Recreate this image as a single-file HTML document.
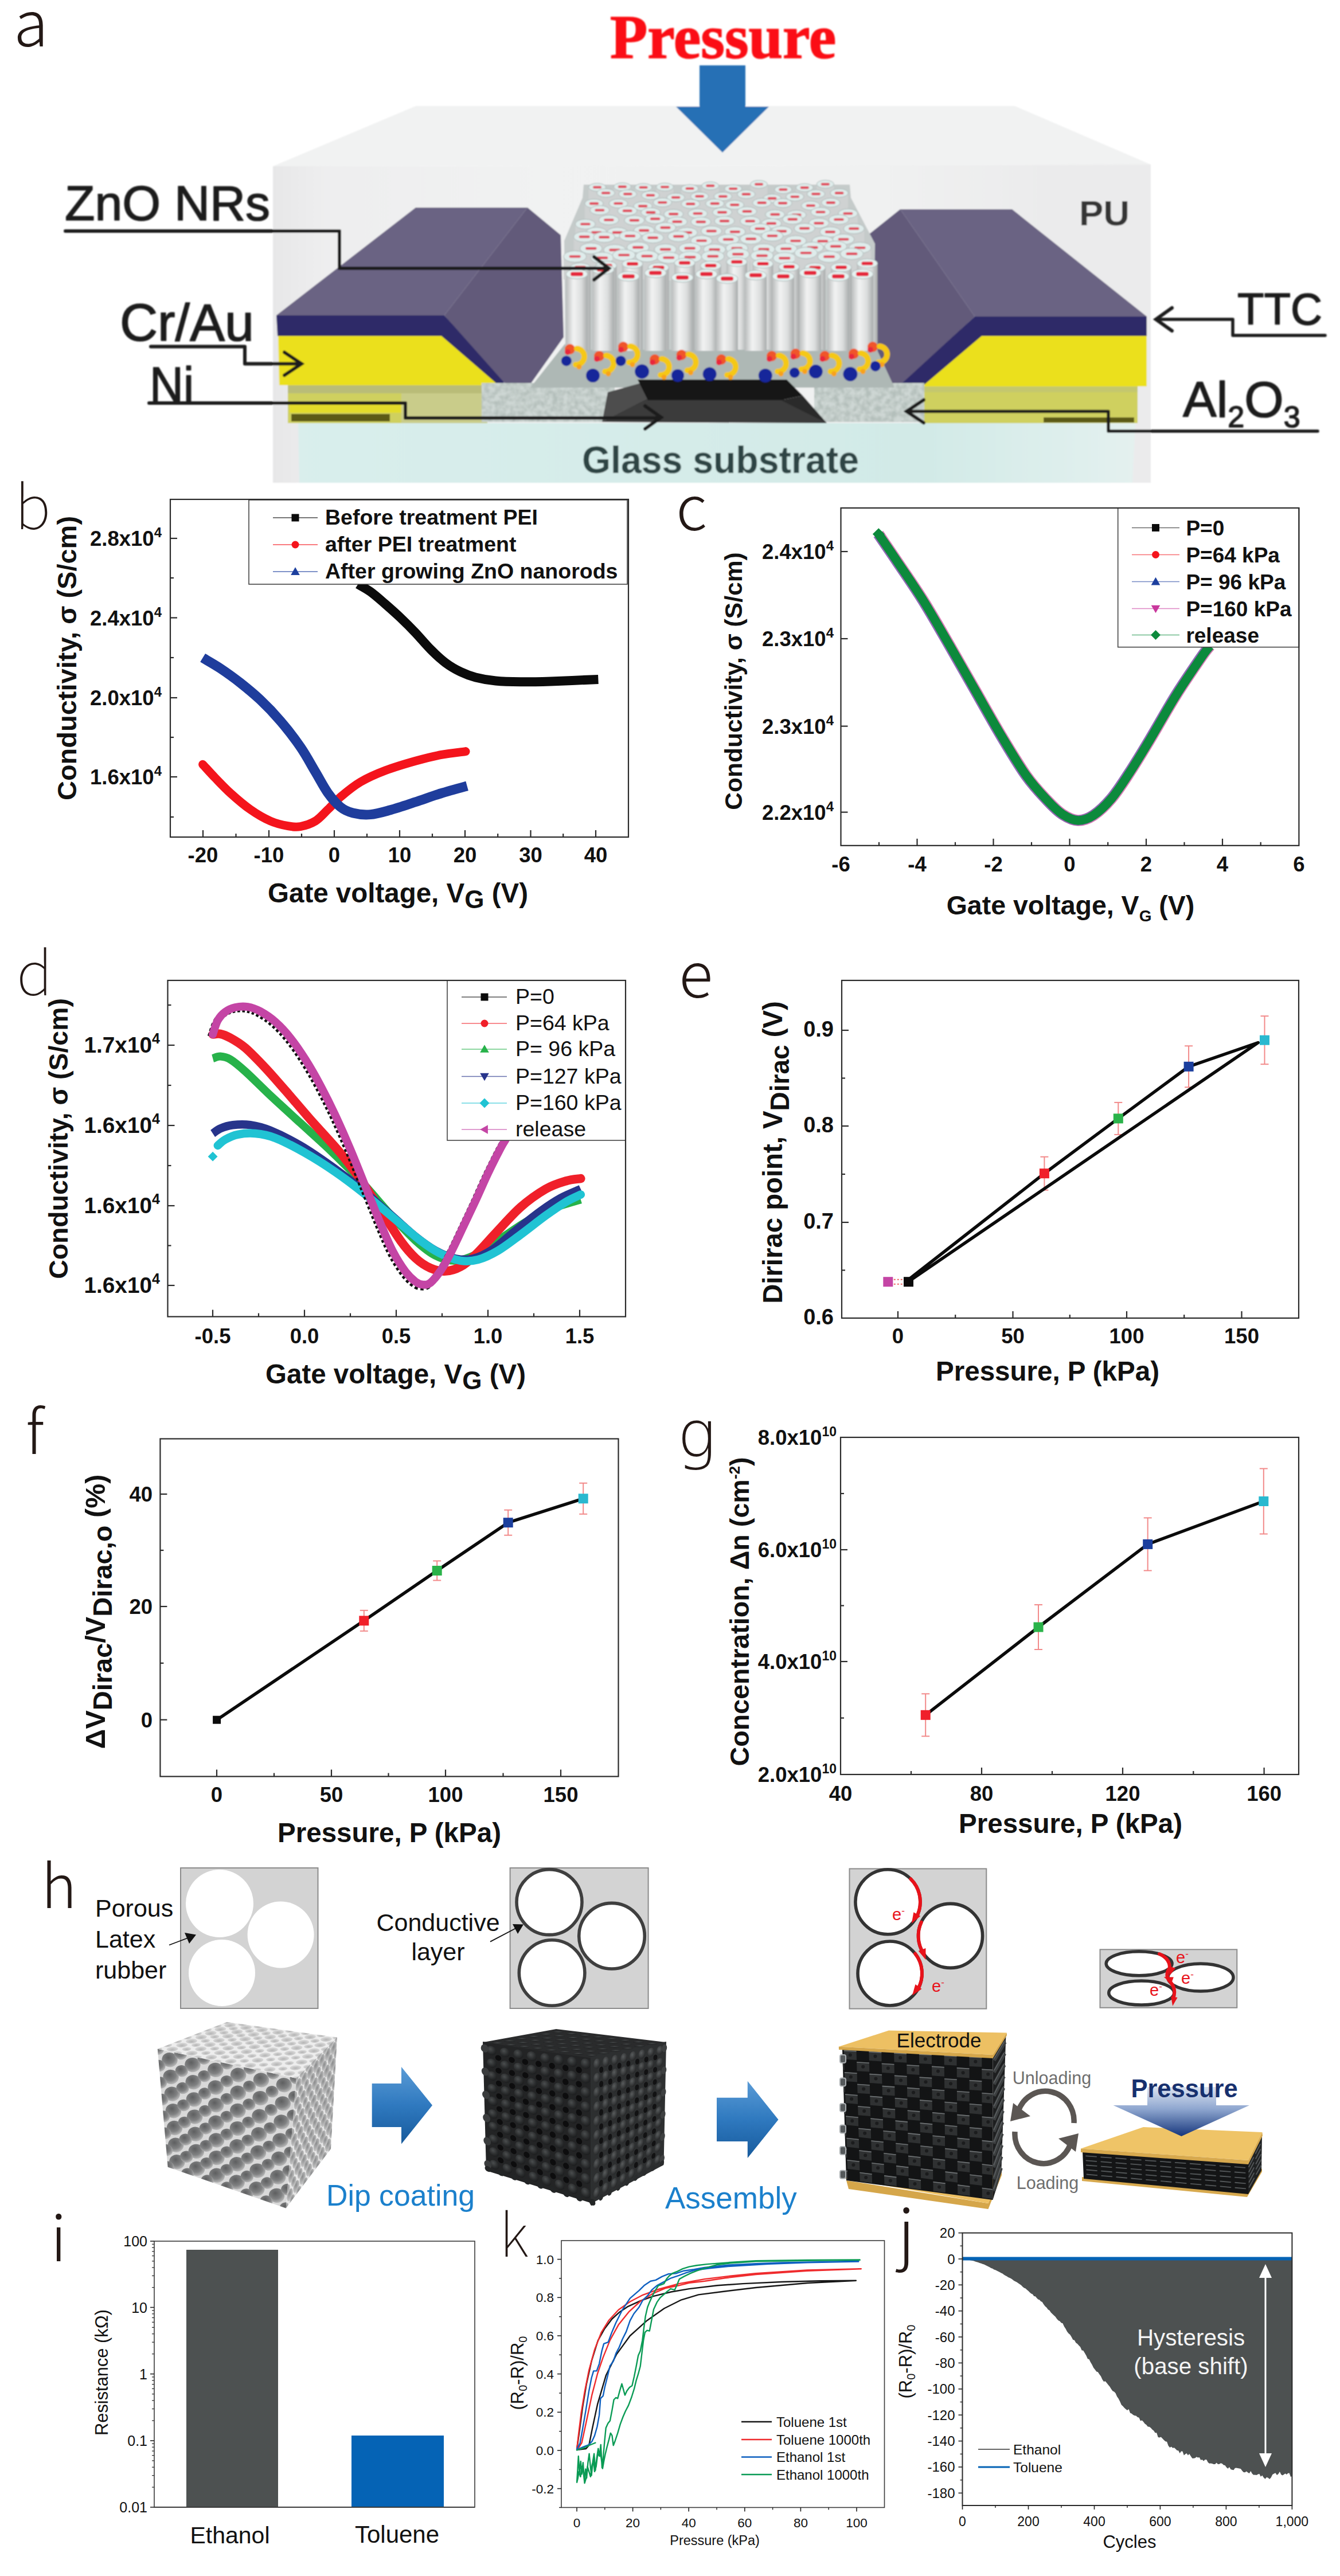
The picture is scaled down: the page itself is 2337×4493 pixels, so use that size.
<!DOCTYPE html>
<html lang="en"><head><meta charset="utf-8"><title>Figure</title>
<style>html,body{margin:0;padding:0;background:#fff}svg{display:block}text{white-space:pre}</style></head>
<body><svg width="2337" height="4493" viewBox="0 0 2337 4493">
<rect width="2337" height="4493" fill="#fff"/>
<g id="pa"><defs>
<linearGradient id="rodg" x1="0" y1="0" x2="1" y2="0"><stop offset="0" stop-color="#b9bcbc"/><stop offset="0.35" stop-color="#f2f3f3"/><stop offset="0.7" stop-color="#dcdede"/><stop offset="1" stop-color="#a8abab"/></linearGradient>
<linearGradient id="pufront" x1="0" y1="0" x2="1" y2="0"><stop offset="0" stop-color="#e7e7e8"/><stop offset="0.06" stop-color="#eeeeef"/><stop offset="0.3" stop-color="#f1f2f2"/><stop offset="0.7" stop-color="#f0f1f1"/><stop offset="0.88" stop-color="#ebebec"/><stop offset="1" stop-color="#ebebec"/></linearGradient>
<linearGradient id="glassg" x1="0" y1="0" x2="1" y2="0"><stop offset="0" stop-color="#d9eeec"/><stop offset="0.75" stop-color="#d2eae7"/><stop offset="1" stop-color="#e4f1ef"/></linearGradient>
<filter id="speck" x="0" y="0" width="100%" height="100%"><feTurbulence type="fractalNoise" baseFrequency="0.11" numOctaves="2" seed="4" result="n"/><feColorMatrix in="n" type="matrix" values="0 0 0 0 0.62  0 0 0 0 0.68  0 0 0 0 0.66  0 0 0 2.2 -0.55"/><feComposite in2="SourceGraphic" operator="in"/></filter>
<filter id="ablur" x="-2%" y="-2%" width="104%" height="104%"><feGaussianBlur stdDeviation="1.3"/></filter>
</defs><g filter="url(#ablur)"><polygon points="476,290 725,185 1770,185 2007,287" fill="#f1f2f2" stroke="none" stroke-width="0" /><polygon points="476,290 2007,287 2007,842 476,842" fill="url(#pufront)" stroke="none" stroke-width="0" /><polygon points="520,738 1980,738 1975,842 522,842" fill="url(#glassg)" stroke="none" stroke-width="0" /><rect x="502" y="670" width="345" height="68" fill="#cfd05e" stroke="none" stroke-width="0" /><rect x="502" y="670" width="345" height="16" fill="#b9bc78" stroke="none" stroke-width="0" /><rect x="505" y="700" width="200" height="20" fill="#e3dc2c" stroke="none" stroke-width="0" /><rect x="508" y="722" width="172" height="13" fill="#5b5a18" stroke="none" stroke-width="0" /><rect x="700" y="686" width="150" height="52" fill="#c9cc8a" stroke="none" stroke-width="0" /><polygon points="485,583 772,583 872,672 487,672" fill="#ebe01f" stroke="none" stroke-width="0" /><polygon points="482,550 775,550 882,664 872,674 770,586 484,586" fill="#2e2968" stroke="none" stroke-width="0" /><polygon points="482,550 725,362 920,362 775,550" fill="#6b6383" stroke="none" stroke-width="0" /><polygon points="775,550 920,362 978,410 983,588 925,670 880,668" fill="#625a7a" stroke="none" stroke-width="0" /><rect x="1612" y="670" width="372" height="68" fill="#cfd05e" stroke="none" stroke-width="0" /><rect x="1612" y="670" width="372" height="14" fill="#c4c76e" stroke="none" stroke-width="0" /><rect x="1820" y="728" width="158" height="9" fill="#5b5a18" stroke="none" stroke-width="0" /><polygon points="1712,583 2000,583 2000,674 1606,674" fill="#ebe01f" stroke="none" stroke-width="0" /><polygon points="1700,552 2000,552 2000,586 1712,586 1606,676 1562,676" fill="#2e2968" stroke="none" stroke-width="0" /><polygon points="1570,365 1765,365 2000,552 1700,552" fill="#6b6383" stroke="none" stroke-width="0" /><polygon points="1570,365 1700,552 1565,676 1532,655 1524,450 1495,425" fill="#625a7a" stroke="none" stroke-width="0" /><rect x="840" y="668" width="232" height="68" fill="#b4bfbb" stroke="none" stroke-width="0" /><rect x="840" y="668" width="232" height="68" fill="#74817c" stroke="none" stroke-width="0" filter="url(#speck)"/><rect x="1420" y="668" width="192" height="68" fill="#b4bfbb" stroke="none" stroke-width="0" /><rect x="1420" y="668" width="192" height="68" fill="#74817c" stroke="none" stroke-width="0" filter="url(#speck)"/><polygon points="985,600 1525,600 1560,676 1440,676 1050,676 925,676" fill="#aeb8b5" stroke="none" stroke-width="0" /><polygon points="1050,736 1060,684 1118,668 1130,697" fill="#4d4d4d" stroke="none" stroke-width="0" /><polygon points="1050,736 1130,695 1362,695 1442,738" fill="#3a3a3a" stroke="none" stroke-width="0" /><polygon points="1112,662 1372,662 1400,690 1362,698 1130,698" fill="#141414" stroke="none" stroke-width="0" /><polygon points="1362,698 1400,690 1442,738" fill="#2b2b2b" stroke="none" stroke-width="0" /><g id="rods"><polygon points="1018,322 1482,322 1484,345 1526,425 1524,610 986,610 984,420 1016,345" fill="#c5cbca" stroke="none" stroke-width="0" /><rect x="1026.6" y="326.6" width="30" height="40" fill="#cfd2d2" stroke="none" stroke-width="0" /><ellipse cx="1041.6" cy="326.6" rx="15" ry="7" fill="#dfeceb" stroke="#aab5b4" stroke-width="1"/><rect x="1034.1" y="324.4" width="15" height="4.4" fill="#e0485a" stroke="none" stroke-width="0" rx="2"/><rect x="1070.4" y="325.7" width="30" height="40" fill="#cfd2d2" stroke="none" stroke-width="0" /><ellipse cx="1085.4" cy="325.7" rx="15" ry="7" fill="#dfeceb" stroke="#aab5b4" stroke-width="1"/><rect x="1077.9" y="323.5" width="15" height="4.4" fill="#e0485a" stroke="none" stroke-width="0" rx="2"/><rect x="1107.1" y="326.9" width="30" height="40" fill="#cfd2d2" stroke="none" stroke-width="0" /><ellipse cx="1122.1" cy="326.9" rx="15" ry="7" fill="#dfeceb" stroke="#aab5b4" stroke-width="1"/><rect x="1114.6" y="324.7" width="15" height="4.4" fill="#e0485a" stroke="none" stroke-width="0" rx="2"/><rect x="1144.5" y="326.1" width="30" height="40" fill="#cfd2d2" stroke="none" stroke-width="0" /><ellipse cx="1159.5" cy="326.1" rx="15" ry="7" fill="#dfeceb" stroke="#aab5b4" stroke-width="1"/><rect x="1152" y="323.9" width="15" height="4.4" fill="#e0485a" stroke="none" stroke-width="0" rx="2"/><rect x="1188" y="328.9" width="30" height="40" fill="#cfd2d2" stroke="none" stroke-width="0" /><ellipse cx="1203" cy="328.9" rx="15" ry="7" fill="#dfeceb" stroke="#aab5b4" stroke-width="1"/><rect x="1195.5" y="326.7" width="15" height="4.4" fill="#e0485a" stroke="none" stroke-width="0" rx="2"/><rect x="1223.8" y="324" width="30" height="40" fill="#cfd2d2" stroke="none" stroke-width="0" /><ellipse cx="1238.8" cy="324" rx="15" ry="7" fill="#dfeceb" stroke="#aab5b4" stroke-width="1"/><rect x="1231.3" y="321.8" width="15" height="4.4" fill="#e0485a" stroke="none" stroke-width="0" rx="2"/><rect x="1263.7" y="329.1" width="30" height="40" fill="#cfd2d2" stroke="none" stroke-width="0" /><ellipse cx="1278.7" cy="329.1" rx="15" ry="7" fill="#dfeceb" stroke="#aab5b4" stroke-width="1"/><rect x="1271.2" y="326.9" width="15" height="4.4" fill="#e0485a" stroke="none" stroke-width="0" rx="2"/><rect x="1308.5" y="321.4" width="30" height="40" fill="#cfd2d2" stroke="none" stroke-width="0" /><ellipse cx="1323.5" cy="321.4" rx="15" ry="7" fill="#dfeceb" stroke="#aab5b4" stroke-width="1"/><rect x="1316" y="319.2" width="15" height="4.4" fill="#e0485a" stroke="none" stroke-width="0" rx="2"/><rect x="1350.9" y="330.6" width="30" height="40" fill="#cfd2d2" stroke="none" stroke-width="0" /><ellipse cx="1365.9" cy="330.6" rx="15" ry="7" fill="#dfeceb" stroke="#aab5b4" stroke-width="1"/><rect x="1358.4" y="328.4" width="15" height="4.4" fill="#e0485a" stroke="none" stroke-width="0" rx="2"/><rect x="1388.2" y="327.2" width="30" height="40" fill="#cfd2d2" stroke="none" stroke-width="0" /><ellipse cx="1403.2" cy="327.2" rx="15" ry="7" fill="#dfeceb" stroke="#aab5b4" stroke-width="1"/><rect x="1395.7" y="325" width="15" height="4.4" fill="#e0485a" stroke="none" stroke-width="0" rx="2"/><rect x="1424.3" y="321.2" width="30" height="40" fill="#cfd2d2" stroke="none" stroke-width="0" /><ellipse cx="1439.3" cy="321.2" rx="15" ry="7" fill="#dfeceb" stroke="#aab5b4" stroke-width="1"/><rect x="1431.8" y="319" width="15" height="4.4" fill="#e0485a" stroke="none" stroke-width="0" rx="2"/><rect x="1041" y="336.6" width="31.2" height="40" fill="#cfd2d2" stroke="none" stroke-width="0" /><ellipse cx="1056.6" cy="336.6" rx="15.6" ry="7.4" fill="#dfeceb" stroke="#aab5b4" stroke-width="1"/><rect x="1048.8" y="334.4" width="15.6" height="4.4" fill="#e0485a" stroke="none" stroke-width="0" rx="2"/><rect x="1079.1" y="338.4" width="31.2" height="40" fill="#cfd2d2" stroke="none" stroke-width="0" /><ellipse cx="1094.8" cy="338.4" rx="15.6" ry="7.4" fill="#dfeceb" stroke="#aab5b4" stroke-width="1"/><rect x="1087" y="336.2" width="15.6" height="4.4" fill="#e0485a" stroke="none" stroke-width="0" rx="2"/><rect x="1118.8" y="340.6" width="31.2" height="40" fill="#cfd2d2" stroke="none" stroke-width="0" /><ellipse cx="1134.4" cy="340.6" rx="15.6" ry="7.4" fill="#dfeceb" stroke="#aab5b4" stroke-width="1"/><rect x="1126.6" y="338.4" width="15.6" height="4.4" fill="#e0485a" stroke="none" stroke-width="0" rx="2"/><rect x="1163" y="344.4" width="31.2" height="40" fill="#cfd2d2" stroke="none" stroke-width="0" /><ellipse cx="1178.6" cy="344.4" rx="15.6" ry="7.4" fill="#dfeceb" stroke="#aab5b4" stroke-width="1"/><rect x="1170.8" y="342.2" width="15.6" height="4.4" fill="#e0485a" stroke="none" stroke-width="0" rx="2"/><rect x="1204.5" y="342.4" width="31.2" height="40" fill="#cfd2d2" stroke="none" stroke-width="0" /><ellipse cx="1220.1" cy="342.4" rx="15.6" ry="7.4" fill="#dfeceb" stroke="#aab5b4" stroke-width="1"/><rect x="1212.3" y="340.2" width="15.6" height="4.4" fill="#e0485a" stroke="none" stroke-width="0" rx="2"/><rect x="1245.2" y="342.6" width="31.2" height="40" fill="#cfd2d2" stroke="none" stroke-width="0" /><ellipse cx="1260.8" cy="342.6" rx="15.6" ry="7.4" fill="#dfeceb" stroke="#aab5b4" stroke-width="1"/><rect x="1253" y="340.4" width="15.6" height="4.4" fill="#e0485a" stroke="none" stroke-width="0" rx="2"/><rect x="1285.8" y="338.8" width="31.2" height="40" fill="#cfd2d2" stroke="none" stroke-width="0" /><ellipse cx="1301.4" cy="338.8" rx="15.6" ry="7.4" fill="#dfeceb" stroke="#aab5b4" stroke-width="1"/><rect x="1293.6" y="336.6" width="15.6" height="4.4" fill="#e0485a" stroke="none" stroke-width="0" rx="2"/><rect x="1331" y="346" width="31.2" height="40" fill="#cfd2d2" stroke="none" stroke-width="0" /><ellipse cx="1346.6" cy="346" rx="15.6" ry="7.4" fill="#dfeceb" stroke="#aab5b4" stroke-width="1"/><rect x="1338.8" y="343.8" width="15.6" height="4.4" fill="#e0485a" stroke="none" stroke-width="0" rx="2"/><rect x="1370.6" y="343.1" width="31.2" height="40" fill="#cfd2d2" stroke="none" stroke-width="0" /><ellipse cx="1386.3" cy="343.1" rx="15.6" ry="7.4" fill="#dfeceb" stroke="#aab5b4" stroke-width="1"/><rect x="1378.5" y="340.9" width="15.6" height="4.4" fill="#e0485a" stroke="none" stroke-width="0" rx="2"/><rect x="1407.3" y="338.3" width="31.2" height="40" fill="#cfd2d2" stroke="none" stroke-width="0" /><ellipse cx="1423" cy="338.3" rx="15.6" ry="7.4" fill="#dfeceb" stroke="#aab5b4" stroke-width="1"/><rect x="1415.2" y="336.1" width="15.6" height="4.4" fill="#e0485a" stroke="none" stroke-width="0" rx="2"/><rect x="1448" y="336.7" width="31.2" height="40" fill="#cfd2d2" stroke="none" stroke-width="0" /><ellipse cx="1463.7" cy="336.7" rx="15.6" ry="7.4" fill="#dfeceb" stroke="#aab5b4" stroke-width="1"/><rect x="1455.8" y="334.5" width="15.6" height="4.4" fill="#e0485a" stroke="none" stroke-width="0" rx="2"/><rect x="1019.8" y="355" width="32.5" height="40" fill="#cfd2d2" stroke="none" stroke-width="0" /><ellipse cx="1036" cy="355" rx="16.2" ry="7.8" fill="#dfeceb" stroke="#aab5b4" stroke-width="1"/><rect x="1027.9" y="352.8" width="16.2" height="4.4" fill="#e0485a" stroke="none" stroke-width="0" rx="2"/><rect x="1062.2" y="354.9" width="32.5" height="40" fill="#cfd2d2" stroke="none" stroke-width="0" /><ellipse cx="1078.5" cy="354.9" rx="16.2" ry="7.8" fill="#dfeceb" stroke="#aab5b4" stroke-width="1"/><rect x="1070.3" y="352.7" width="16.2" height="4.4" fill="#e0485a" stroke="none" stroke-width="0" rx="2"/><rect x="1104.9" y="359.5" width="32.5" height="40" fill="#cfd2d2" stroke="none" stroke-width="0" /><ellipse cx="1121.2" cy="359.5" rx="16.2" ry="7.8" fill="#dfeceb" stroke="#aab5b4" stroke-width="1"/><rect x="1113" y="357.3" width="16.2" height="4.4" fill="#e0485a" stroke="none" stroke-width="0" rx="2"/><rect x="1139" y="353.1" width="32.5" height="40" fill="#cfd2d2" stroke="none" stroke-width="0" /><ellipse cx="1155.3" cy="353.1" rx="16.2" ry="7.8" fill="#dfeceb" stroke="#aab5b4" stroke-width="1"/><rect x="1147.2" y="350.9" width="16.2" height="4.4" fill="#e0485a" stroke="none" stroke-width="0" rx="2"/><rect x="1188.1" y="355.7" width="32.5" height="40" fill="#cfd2d2" stroke="none" stroke-width="0" /><ellipse cx="1204.4" cy="355.7" rx="16.2" ry="7.8" fill="#dfeceb" stroke="#aab5b4" stroke-width="1"/><rect x="1196.2" y="353.5" width="16.2" height="4.4" fill="#e0485a" stroke="none" stroke-width="0" rx="2"/><rect x="1230.5" y="355" width="32.5" height="40" fill="#cfd2d2" stroke="none" stroke-width="0" /><ellipse cx="1246.7" cy="355" rx="16.2" ry="7.8" fill="#dfeceb" stroke="#aab5b4" stroke-width="1"/><rect x="1238.6" y="352.8" width="16.2" height="4.4" fill="#e0485a" stroke="none" stroke-width="0" rx="2"/><rect x="1265" y="357.3" width="32.5" height="40" fill="#cfd2d2" stroke="none" stroke-width="0" /><ellipse cx="1281.3" cy="357.3" rx="16.2" ry="7.8" fill="#dfeceb" stroke="#aab5b4" stroke-width="1"/><rect x="1273.1" y="355.1" width="16.2" height="4.4" fill="#e0485a" stroke="none" stroke-width="0" rx="2"/><rect x="1312.5" y="353.7" width="32.5" height="40" fill="#cfd2d2" stroke="none" stroke-width="0" /><ellipse cx="1328.7" cy="353.7" rx="16.2" ry="7.8" fill="#dfeceb" stroke="#aab5b4" stroke-width="1"/><rect x="1320.6" y="351.5" width="16.2" height="4.4" fill="#e0485a" stroke="none" stroke-width="0" rx="2"/><rect x="1348.7" y="354.3" width="32.5" height="40" fill="#cfd2d2" stroke="none" stroke-width="0" /><ellipse cx="1365" cy="354.3" rx="16.2" ry="7.8" fill="#dfeceb" stroke="#aab5b4" stroke-width="1"/><rect x="1356.9" y="352.1" width="16.2" height="4.4" fill="#e0485a" stroke="none" stroke-width="0" rx="2"/><rect x="1397.5" y="358.6" width="32.5" height="40" fill="#cfd2d2" stroke="none" stroke-width="0" /><ellipse cx="1413.8" cy="358.6" rx="16.2" ry="7.8" fill="#dfeceb" stroke="#aab5b4" stroke-width="1"/><rect x="1405.7" y="356.4" width="16.2" height="4.4" fill="#e0485a" stroke="none" stroke-width="0" rx="2"/><rect x="1432.6" y="353.5" width="32.5" height="40" fill="#cfd2d2" stroke="none" stroke-width="0" /><ellipse cx="1448.8" cy="353.5" rx="16.2" ry="7.8" fill="#dfeceb" stroke="#aab5b4" stroke-width="1"/><rect x="1440.7" y="351.3" width="16.2" height="4.4" fill="#e0485a" stroke="none" stroke-width="0" rx="2"/><rect x="1029" y="366.6" width="33.8" height="40" fill="#cfd2d2" stroke="none" stroke-width="0" /><ellipse cx="1045.9" cy="366.6" rx="16.9" ry="8.1" fill="#dfeceb" stroke="#aab5b4" stroke-width="1"/><rect x="1037.4" y="364.4" width="16.9" height="4.4" fill="#e0485a" stroke="none" stroke-width="0" rx="2"/><rect x="1077.3" y="367.8" width="33.8" height="40" fill="#cfd2d2" stroke="none" stroke-width="0" /><ellipse cx="1094.1" cy="367.8" rx="16.9" ry="8.1" fill="#dfeceb" stroke="#aab5b4" stroke-width="1"/><rect x="1085.7" y="365.6" width="16.9" height="4.4" fill="#e0485a" stroke="none" stroke-width="0" rx="2"/><rect x="1118.1" y="370.5" width="33.8" height="40" fill="#cfd2d2" stroke="none" stroke-width="0" /><ellipse cx="1134.9" cy="370.5" rx="16.9" ry="8.1" fill="#dfeceb" stroke="#aab5b4" stroke-width="1"/><rect x="1126.5" y="368.3" width="16.9" height="4.4" fill="#e0485a" stroke="none" stroke-width="0" rx="2"/><rect x="1157.8" y="373.3" width="33.8" height="40" fill="#cfd2d2" stroke="none" stroke-width="0" /><ellipse cx="1174.7" cy="373.3" rx="16.9" ry="8.1" fill="#dfeceb" stroke="#aab5b4" stroke-width="1"/><rect x="1166.2" y="371.1" width="16.9" height="4.4" fill="#e0485a" stroke="none" stroke-width="0" rx="2"/><rect x="1200" y="372.4" width="33.8" height="40" fill="#cfd2d2" stroke="none" stroke-width="0" /><ellipse cx="1216.9" cy="372.4" rx="16.9" ry="8.1" fill="#dfeceb" stroke="#aab5b4" stroke-width="1"/><rect x="1208.5" y="370.2" width="16.9" height="4.4" fill="#e0485a" stroke="none" stroke-width="0" rx="2"/><rect x="1242.6" y="370.2" width="33.8" height="40" fill="#cfd2d2" stroke="none" stroke-width="0" /><ellipse cx="1259.5" cy="370.2" rx="16.9" ry="8.1" fill="#dfeceb" stroke="#aab5b4" stroke-width="1"/><rect x="1251" y="368" width="16.9" height="4.4" fill="#e0485a" stroke="none" stroke-width="0" rx="2"/><rect x="1286.1" y="368.7" width="33.8" height="40" fill="#cfd2d2" stroke="none" stroke-width="0" /><ellipse cx="1302.9" cy="368.7" rx="16.9" ry="8.1" fill="#dfeceb" stroke="#aab5b4" stroke-width="1"/><rect x="1294.5" y="366.5" width="16.9" height="4.4" fill="#e0485a" stroke="none" stroke-width="0" rx="2"/><rect x="1334.8" y="374" width="33.8" height="40" fill="#cfd2d2" stroke="none" stroke-width="0" /><ellipse cx="1351.7" cy="374" rx="16.9" ry="8.1" fill="#dfeceb" stroke="#aab5b4" stroke-width="1"/><rect x="1343.3" y="371.8" width="16.9" height="4.4" fill="#e0485a" stroke="none" stroke-width="0" rx="2"/><rect x="1372.2" y="374.8" width="33.8" height="40" fill="#cfd2d2" stroke="none" stroke-width="0" /><ellipse cx="1389.1" cy="374.8" rx="16.9" ry="8.1" fill="#dfeceb" stroke="#aab5b4" stroke-width="1"/><rect x="1380.6" y="372.6" width="16.9" height="4.4" fill="#e0485a" stroke="none" stroke-width="0" rx="2"/><rect x="1414.1" y="369.9" width="33.8" height="40" fill="#cfd2d2" stroke="none" stroke-width="0" /><ellipse cx="1431" cy="369.9" rx="16.9" ry="8.1" fill="#dfeceb" stroke="#aab5b4" stroke-width="1"/><rect x="1422.6" y="367.7" width="16.9" height="4.4" fill="#e0485a" stroke="none" stroke-width="0" rx="2"/><rect x="1462" y="372.4" width="33.8" height="40" fill="#cfd2d2" stroke="none" stroke-width="0" /><ellipse cx="1478.9" cy="372.4" rx="16.9" ry="8.1" fill="#dfeceb" stroke="#aab5b4" stroke-width="1"/><rect x="1470.4" y="370.2" width="16.9" height="4.4" fill="#e0485a" stroke="none" stroke-width="0" rx="2"/><rect x="1003.3" y="390.9" width="35" height="40" fill="#cfd2d2" stroke="none" stroke-width="0" /><ellipse cx="1020.8" cy="390.9" rx="17.5" ry="8.5" fill="#dfeceb" stroke="#aab5b4" stroke-width="1"/><rect x="1012.1" y="388.7" width="17.5" height="4.4" fill="#e0485a" stroke="none" stroke-width="0" rx="2"/><rect x="1044.3" y="383.6" width="35" height="40" fill="#cfd2d2" stroke="none" stroke-width="0" /><ellipse cx="1061.8" cy="383.6" rx="17.5" ry="8.5" fill="#dfeceb" stroke="#aab5b4" stroke-width="1"/><rect x="1053.1" y="381.4" width="17.5" height="4.4" fill="#e0485a" stroke="none" stroke-width="0" rx="2"/><rect x="1088.9" y="384.3" width="35" height="40" fill="#cfd2d2" stroke="none" stroke-width="0" /><ellipse cx="1106.4" cy="384.3" rx="17.5" ry="8.5" fill="#dfeceb" stroke="#aab5b4" stroke-width="1"/><rect x="1097.6" y="382.1" width="17.5" height="4.4" fill="#e0485a" stroke="none" stroke-width="0" rx="2"/><rect x="1125.2" y="381.7" width="35" height="40" fill="#cfd2d2" stroke="none" stroke-width="0" /><ellipse cx="1142.7" cy="381.7" rx="17.5" ry="8.5" fill="#dfeceb" stroke="#aab5b4" stroke-width="1"/><rect x="1133.9" y="379.5" width="17.5" height="4.4" fill="#e0485a" stroke="none" stroke-width="0" rx="2"/><rect x="1163.6" y="386.8" width="35" height="40" fill="#cfd2d2" stroke="none" stroke-width="0" /><ellipse cx="1181.1" cy="386.8" rx="17.5" ry="8.5" fill="#dfeceb" stroke="#aab5b4" stroke-width="1"/><rect x="1172.3" y="384.6" width="17.5" height="4.4" fill="#e0485a" stroke="none" stroke-width="0" rx="2"/><rect x="1204.9" y="387" width="35" height="40" fill="#cfd2d2" stroke="none" stroke-width="0" /><ellipse cx="1222.4" cy="387" rx="17.5" ry="8.5" fill="#dfeceb" stroke="#aab5b4" stroke-width="1"/><rect x="1213.6" y="384.8" width="17.5" height="4.4" fill="#e0485a" stroke="none" stroke-width="0" rx="2"/><rect x="1246" y="385.5" width="35" height="40" fill="#cfd2d2" stroke="none" stroke-width="0" /><ellipse cx="1263.5" cy="385.5" rx="17.5" ry="8.5" fill="#dfeceb" stroke="#aab5b4" stroke-width="1"/><rect x="1254.7" y="383.3" width="17.5" height="4.4" fill="#e0485a" stroke="none" stroke-width="0" rx="2"/><rect x="1290.8" y="385.8" width="35" height="40" fill="#cfd2d2" stroke="none" stroke-width="0" /><ellipse cx="1308.3" cy="385.8" rx="17.5" ry="8.5" fill="#dfeceb" stroke="#aab5b4" stroke-width="1"/><rect x="1299.5" y="383.6" width="17.5" height="4.4" fill="#e0485a" stroke="none" stroke-width="0" rx="2"/><rect x="1327.8" y="389.7" width="35" height="40" fill="#cfd2d2" stroke="none" stroke-width="0" /><ellipse cx="1345.3" cy="389.7" rx="17.5" ry="8.5" fill="#dfeceb" stroke="#aab5b4" stroke-width="1"/><rect x="1336.5" y="387.5" width="17.5" height="4.4" fill="#e0485a" stroke="none" stroke-width="0" rx="2"/><rect x="1364.7" y="382.5" width="35" height="40" fill="#cfd2d2" stroke="none" stroke-width="0" /><ellipse cx="1382.2" cy="382.5" rx="17.5" ry="8.5" fill="#dfeceb" stroke="#aab5b4" stroke-width="1"/><rect x="1373.5" y="380.3" width="17.5" height="4.4" fill="#e0485a" stroke="none" stroke-width="0" rx="2"/><rect x="1410.6" y="389.2" width="35" height="40" fill="#cfd2d2" stroke="none" stroke-width="0" /><ellipse cx="1428.1" cy="389.2" rx="17.5" ry="8.5" fill="#dfeceb" stroke="#aab5b4" stroke-width="1"/><rect x="1419.4" y="387" width="17.5" height="4.4" fill="#e0485a" stroke="none" stroke-width="0" rx="2"/><rect x="1445.4" y="382.9" width="35" height="40" fill="#cfd2d2" stroke="none" stroke-width="0" /><ellipse cx="1462.9" cy="382.9" rx="17.5" ry="8.5" fill="#dfeceb" stroke="#aab5b4" stroke-width="1"/><rect x="1454.2" y="380.7" width="17.5" height="4.4" fill="#e0485a" stroke="none" stroke-width="0" rx="2"/><rect x="1022.2" y="405.4" width="36.2" height="40" fill="#cfd2d2" stroke="none" stroke-width="0" /><ellipse cx="1040.3" cy="405.4" rx="18.1" ry="8.9" fill="#dfeceb" stroke="#aab5b4" stroke-width="1"/><rect x="1031.2" y="403.2" width="18.1" height="4.4" fill="#e0485a" stroke="none" stroke-width="0" rx="2"/><rect x="1058.7" y="405.5" width="36.2" height="40" fill="#cfd2d2" stroke="none" stroke-width="0" /><ellipse cx="1076.8" cy="405.5" rx="18.1" ry="8.9" fill="#dfeceb" stroke="#aab5b4" stroke-width="1"/><rect x="1067.8" y="403.3" width="18.1" height="4.4" fill="#e0485a" stroke="none" stroke-width="0" rx="2"/><rect x="1105.1" y="402" width="36.2" height="40" fill="#cfd2d2" stroke="none" stroke-width="0" /><ellipse cx="1123.2" cy="402" rx="18.1" ry="8.9" fill="#dfeceb" stroke="#aab5b4" stroke-width="1"/><rect x="1114.2" y="399.8" width="18.1" height="4.4" fill="#e0485a" stroke="none" stroke-width="0" rx="2"/><rect x="1142.3" y="397" width="36.2" height="40" fill="#cfd2d2" stroke="none" stroke-width="0" /><ellipse cx="1160.5" cy="397" rx="18.1" ry="8.9" fill="#dfeceb" stroke="#aab5b4" stroke-width="1"/><rect x="1151.4" y="394.8" width="18.1" height="4.4" fill="#e0485a" stroke="none" stroke-width="0" rx="2"/><rect x="1180.2" y="405.6" width="36.2" height="40" fill="#cfd2d2" stroke="none" stroke-width="0" /><ellipse cx="1198.3" cy="405.6" rx="18.1" ry="8.9" fill="#dfeceb" stroke="#aab5b4" stroke-width="1"/><rect x="1189.2" y="403.4" width="18.1" height="4.4" fill="#e0485a" stroke="none" stroke-width="0" rx="2"/><rect x="1222.7" y="403" width="36.2" height="40" fill="#cfd2d2" stroke="none" stroke-width="0" /><ellipse cx="1240.8" cy="403" rx="18.1" ry="8.9" fill="#dfeceb" stroke="#aab5b4" stroke-width="1"/><rect x="1231.7" y="400.8" width="18.1" height="4.4" fill="#e0485a" stroke="none" stroke-width="0" rx="2"/><rect x="1263.7" y="404.2" width="36.2" height="40" fill="#cfd2d2" stroke="none" stroke-width="0" /><ellipse cx="1281.9" cy="404.2" rx="18.1" ry="8.9" fill="#dfeceb" stroke="#aab5b4" stroke-width="1"/><rect x="1272.8" y="402" width="18.1" height="4.4" fill="#e0485a" stroke="none" stroke-width="0" rx="2"/><rect x="1307.4" y="398.9" width="36.2" height="40" fill="#cfd2d2" stroke="none" stroke-width="0" /><ellipse cx="1325.5" cy="398.9" rx="18.1" ry="8.9" fill="#dfeceb" stroke="#aab5b4" stroke-width="1"/><rect x="1316.4" y="396.7" width="18.1" height="4.4" fill="#e0485a" stroke="none" stroke-width="0" rx="2"/><rect x="1344.9" y="403.2" width="36.2" height="40" fill="#cfd2d2" stroke="none" stroke-width="0" /><ellipse cx="1363" cy="403.2" rx="18.1" ry="8.9" fill="#dfeceb" stroke="#aab5b4" stroke-width="1"/><rect x="1354" y="401" width="18.1" height="4.4" fill="#e0485a" stroke="none" stroke-width="0" rx="2"/><rect x="1385" y="398.3" width="36.2" height="40" fill="#cfd2d2" stroke="none" stroke-width="0" /><ellipse cx="1403.1" cy="398.3" rx="18.1" ry="8.9" fill="#dfeceb" stroke="#aab5b4" stroke-width="1"/><rect x="1394" y="396.1" width="18.1" height="4.4" fill="#e0485a" stroke="none" stroke-width="0" rx="2"/><rect x="1429.8" y="404.5" width="36.2" height="40" fill="#cfd2d2" stroke="none" stroke-width="0" /><ellipse cx="1447.9" cy="404.5" rx="18.1" ry="8.9" fill="#dfeceb" stroke="#aab5b4" stroke-width="1"/><rect x="1438.8" y="402.3" width="18.1" height="4.4" fill="#e0485a" stroke="none" stroke-width="0" rx="2"/><rect x="1471.1" y="398.8" width="36.2" height="40" fill="#cfd2d2" stroke="none" stroke-width="0" /><ellipse cx="1489.3" cy="398.8" rx="18.1" ry="8.9" fill="#dfeceb" stroke="#aab5b4" stroke-width="1"/><rect x="1480.2" y="396.6" width="18.1" height="4.4" fill="#e0485a" stroke="none" stroke-width="0" rx="2"/><rect x="1000.5" y="413" width="37.5" height="40" fill="#cfd2d2" stroke="none" stroke-width="0" /><ellipse cx="1019.2" cy="413" rx="18.8" ry="9.2" fill="#dfeceb" stroke="#aab5b4" stroke-width="1"/><rect x="1009.8" y="410.8" width="18.8" height="4.4" fill="#e0485a" stroke="none" stroke-width="0" rx="2"/><rect x="1035" y="413.7" width="37.5" height="40" fill="#cfd2d2" stroke="none" stroke-width="0" /><ellipse cx="1053.7" cy="413.7" rx="18.8" ry="9.2" fill="#dfeceb" stroke="#aab5b4" stroke-width="1"/><rect x="1044.4" y="411.5" width="18.8" height="4.4" fill="#e0485a" stroke="none" stroke-width="0" rx="2"/><rect x="1080.2" y="411.6" width="37.5" height="40" fill="#cfd2d2" stroke="none" stroke-width="0" /><ellipse cx="1098.9" cy="411.6" rx="18.8" ry="9.2" fill="#dfeceb" stroke="#aab5b4" stroke-width="1"/><rect x="1089.5" y="409.4" width="18.8" height="4.4" fill="#e0485a" stroke="none" stroke-width="0" rx="2"/><rect x="1119.7" y="414.7" width="37.5" height="40" fill="#cfd2d2" stroke="none" stroke-width="0" /><ellipse cx="1138.5" cy="414.7" rx="18.8" ry="9.2" fill="#dfeceb" stroke="#aab5b4" stroke-width="1"/><rect x="1129.1" y="412.5" width="18.8" height="4.4" fill="#e0485a" stroke="none" stroke-width="0" rx="2"/><rect x="1164.6" y="412.3" width="37.5" height="40" fill="#cfd2d2" stroke="none" stroke-width="0" /><ellipse cx="1183.4" cy="412.3" rx="18.8" ry="9.2" fill="#dfeceb" stroke="#aab5b4" stroke-width="1"/><rect x="1174" y="410.1" width="18.8" height="4.4" fill="#e0485a" stroke="none" stroke-width="0" rx="2"/><rect x="1204.7" y="419.9" width="37.5" height="40" fill="#cfd2d2" stroke="none" stroke-width="0" /><ellipse cx="1223.4" cy="419.9" rx="18.8" ry="9.2" fill="#dfeceb" stroke="#aab5b4" stroke-width="1"/><rect x="1214.1" y="417.7" width="18.8" height="4.4" fill="#e0485a" stroke="none" stroke-width="0" rx="2"/><rect x="1251.4" y="417.6" width="37.5" height="40" fill="#cfd2d2" stroke="none" stroke-width="0" /><ellipse cx="1270.1" cy="417.6" rx="18.8" ry="9.2" fill="#dfeceb" stroke="#aab5b4" stroke-width="1"/><rect x="1260.7" y="415.4" width="18.8" height="4.4" fill="#e0485a" stroke="none" stroke-width="0" rx="2"/><rect x="1290.8" y="416.8" width="37.5" height="40" fill="#cfd2d2" stroke="none" stroke-width="0" /><ellipse cx="1309.5" cy="416.8" rx="18.8" ry="9.2" fill="#dfeceb" stroke="#aab5b4" stroke-width="1"/><rect x="1300.2" y="414.6" width="18.8" height="4.4" fill="#e0485a" stroke="none" stroke-width="0" rx="2"/><rect x="1328.1" y="411.4" width="37.5" height="40" fill="#cfd2d2" stroke="none" stroke-width="0" /><ellipse cx="1346.9" cy="411.4" rx="18.8" ry="9.2" fill="#dfeceb" stroke="#aab5b4" stroke-width="1"/><rect x="1337.5" y="409.2" width="18.8" height="4.4" fill="#e0485a" stroke="none" stroke-width="0" rx="2"/><rect x="1368.9" y="420.1" width="37.5" height="40" fill="#cfd2d2" stroke="none" stroke-width="0" /><ellipse cx="1387.6" cy="420.1" rx="18.8" ry="9.2" fill="#dfeceb" stroke="#aab5b4" stroke-width="1"/><rect x="1378.2" y="417.9" width="18.8" height="4.4" fill="#e0485a" stroke="none" stroke-width="0" rx="2"/><rect x="1416.1" y="420.6" width="37.5" height="40" fill="#cfd2d2" stroke="none" stroke-width="0" /><ellipse cx="1434.8" cy="420.6" rx="18.8" ry="9.2" fill="#dfeceb" stroke="#aab5b4" stroke-width="1"/><rect x="1425.4" y="418.4" width="18.8" height="4.4" fill="#e0485a" stroke="none" stroke-width="0" rx="2"/><rect x="1452.4" y="417.4" width="37.5" height="40" fill="#cfd2d2" stroke="none" stroke-width="0" /><ellipse cx="1471.1" cy="417.4" rx="18.8" ry="9.2" fill="#dfeceb" stroke="#aab5b4" stroke-width="1"/><rect x="1461.7" y="415.2" width="18.8" height="4.4" fill="#e0485a" stroke="none" stroke-width="0" rx="2"/><rect x="1011.4" y="433.3" width="38.8" height="40" fill="#cfd2d2" stroke="none" stroke-width="0" /><ellipse cx="1030.8" cy="433.3" rx="19.4" ry="9.6" fill="#dfeceb" stroke="#aab5b4" stroke-width="1"/><rect x="1021.1" y="431.1" width="19.4" height="4.4" fill="#e0485a" stroke="none" stroke-width="0" rx="2"/><rect x="1052.7" y="436" width="38.8" height="40" fill="#cfd2d2" stroke="none" stroke-width="0" /><ellipse cx="1072" cy="436" rx="19.4" ry="9.6" fill="#dfeceb" stroke="#aab5b4" stroke-width="1"/><rect x="1062.4" y="433.8" width="19.4" height="4.4" fill="#e0485a" stroke="none" stroke-width="0" rx="2"/><rect x="1093.3" y="431.5" width="38.8" height="40" fill="#cfd2d2" stroke="none" stroke-width="0" /><ellipse cx="1112.7" cy="431.5" rx="19.4" ry="9.6" fill="#dfeceb" stroke="#aab5b4" stroke-width="1"/><rect x="1103" y="429.3" width="19.4" height="4.4" fill="#e0485a" stroke="none" stroke-width="0" rx="2"/><rect x="1141.1" y="435" width="38.8" height="40" fill="#cfd2d2" stroke="none" stroke-width="0" /><ellipse cx="1160.5" cy="435" rx="19.4" ry="9.6" fill="#dfeceb" stroke="#aab5b4" stroke-width="1"/><rect x="1150.8" y="432.8" width="19.4" height="4.4" fill="#e0485a" stroke="none" stroke-width="0" rx="2"/><rect x="1183.7" y="433" width="38.8" height="40" fill="#cfd2d2" stroke="none" stroke-width="0" /><ellipse cx="1203.1" cy="433" rx="19.4" ry="9.6" fill="#dfeceb" stroke="#aab5b4" stroke-width="1"/><rect x="1193.4" y="430.8" width="19.4" height="4.4" fill="#e0485a" stroke="none" stroke-width="0" rx="2"/><rect x="1226.7" y="435.2" width="38.8" height="40" fill="#cfd2d2" stroke="none" stroke-width="0" /><ellipse cx="1246.1" cy="435.2" rx="19.4" ry="9.6" fill="#dfeceb" stroke="#aab5b4" stroke-width="1"/><rect x="1236.4" y="433" width="19.4" height="4.4" fill="#e0485a" stroke="none" stroke-width="0" rx="2"/><rect x="1265.7" y="432.9" width="38.8" height="40" fill="#cfd2d2" stroke="none" stroke-width="0" /><ellipse cx="1285.1" cy="432.9" rx="19.4" ry="9.6" fill="#dfeceb" stroke="#aab5b4" stroke-width="1"/><rect x="1275.4" y="430.7" width="19.4" height="4.4" fill="#e0485a" stroke="none" stroke-width="0" rx="2"/><rect x="1312.7" y="434.7" width="38.8" height="40" fill="#cfd2d2" stroke="none" stroke-width="0" /><ellipse cx="1332.1" cy="434.7" rx="19.4" ry="9.6" fill="#dfeceb" stroke="#aab5b4" stroke-width="1"/><rect x="1322.4" y="432.5" width="19.4" height="4.4" fill="#e0485a" stroke="none" stroke-width="0" rx="2"/><rect x="1351.4" y="433.9" width="38.8" height="40" fill="#cfd2d2" stroke="none" stroke-width="0" /><ellipse cx="1370.8" cy="433.9" rx="19.4" ry="9.6" fill="#dfeceb" stroke="#aab5b4" stroke-width="1"/><rect x="1361.1" y="431.7" width="19.4" height="4.4" fill="#e0485a" stroke="none" stroke-width="0" rx="2"/><rect x="1397.5" y="431.7" width="38.8" height="40" fill="#cfd2d2" stroke="none" stroke-width="0" /><ellipse cx="1416.9" cy="431.7" rx="19.4" ry="9.6" fill="#dfeceb" stroke="#aab5b4" stroke-width="1"/><rect x="1407.2" y="429.5" width="19.4" height="4.4" fill="#e0485a" stroke="none" stroke-width="0" rx="2"/><rect x="1438.2" y="429.8" width="38.8" height="40" fill="#cfd2d2" stroke="none" stroke-width="0" /><ellipse cx="1457.5" cy="429.8" rx="19.4" ry="9.6" fill="#dfeceb" stroke="#aab5b4" stroke-width="1"/><rect x="1447.8" y="427.6" width="19.4" height="4.4" fill="#e0485a" stroke="none" stroke-width="0" rx="2"/><rect x="1480.4" y="432.1" width="38.8" height="40" fill="#cfd2d2" stroke="none" stroke-width="0" /><ellipse cx="1499.8" cy="432.1" rx="19.4" ry="9.6" fill="#dfeceb" stroke="#aab5b4" stroke-width="1"/><rect x="1490.1" y="429.9" width="19.4" height="4.4" fill="#e0485a" stroke="none" stroke-width="0" rx="2"/><rect x="982.7" y="447.4" width="40" height="40" fill="#cfd2d2" stroke="none" stroke-width="0" /><ellipse cx="1002.7" cy="447.4" rx="20" ry="10" fill="#dfeceb" stroke="#aab5b4" stroke-width="1"/><rect x="992.7" y="445.2" width="20" height="4.4" fill="#e0485a" stroke="none" stroke-width="0" rx="2"/><rect x="1030.2" y="449.8" width="40" height="40" fill="#cfd2d2" stroke="none" stroke-width="0" /><ellipse cx="1050.2" cy="449.8" rx="20" ry="10" fill="#dfeceb" stroke="#aab5b4" stroke-width="1"/><rect x="1040.2" y="447.6" width="20" height="4.4" fill="#e0485a" stroke="none" stroke-width="0" rx="2"/><rect x="1068.2" y="444.9" width="40" height="40" fill="#cfd2d2" stroke="none" stroke-width="0" /><ellipse cx="1088.2" cy="444.9" rx="20" ry="10" fill="#dfeceb" stroke="#aab5b4" stroke-width="1"/><rect x="1078.2" y="442.7" width="20" height="4.4" fill="#e0485a" stroke="none" stroke-width="0" rx="2"/><rect x="1108.4" y="446.8" width="40" height="40" fill="#cfd2d2" stroke="none" stroke-width="0" /><ellipse cx="1128.4" cy="446.8" rx="20" ry="10" fill="#dfeceb" stroke="#aab5b4" stroke-width="1"/><rect x="1118.4" y="444.6" width="20" height="4.4" fill="#e0485a" stroke="none" stroke-width="0" rx="2"/><rect x="1146.2" y="449.4" width="40" height="40" fill="#cfd2d2" stroke="none" stroke-width="0" /><ellipse cx="1166.2" cy="449.4" rx="20" ry="10" fill="#dfeceb" stroke="#aab5b4" stroke-width="1"/><rect x="1156.2" y="447.2" width="20" height="4.4" fill="#e0485a" stroke="none" stroke-width="0" rx="2"/><rect x="1183.5" y="448.5" width="40" height="40" fill="#cfd2d2" stroke="none" stroke-width="0" /><ellipse cx="1203.5" cy="448.5" rx="20" ry="10" fill="#dfeceb" stroke="#aab5b4" stroke-width="1"/><rect x="1193.5" y="446.3" width="20" height="4.4" fill="#e0485a" stroke="none" stroke-width="0" rx="2"/><rect x="1223.2" y="447" width="40" height="40" fill="#cfd2d2" stroke="none" stroke-width="0" /><ellipse cx="1243.2" cy="447" rx="20" ry="10" fill="#dfeceb" stroke="#aab5b4" stroke-width="1"/><rect x="1233.2" y="444.8" width="20" height="4.4" fill="#e0485a" stroke="none" stroke-width="0" rx="2"/><rect x="1267" y="443.3" width="40" height="40" fill="#cfd2d2" stroke="none" stroke-width="0" /><ellipse cx="1287" cy="443.3" rx="20" ry="10" fill="#dfeceb" stroke="#aab5b4" stroke-width="1"/><rect x="1277" y="441.1" width="20" height="4.4" fill="#e0485a" stroke="none" stroke-width="0" rx="2"/><rect x="1308.9" y="446" width="40" height="40" fill="#cfd2d2" stroke="none" stroke-width="0" /><ellipse cx="1328.9" cy="446" rx="20" ry="10" fill="#dfeceb" stroke="#aab5b4" stroke-width="1"/><rect x="1318.9" y="443.8" width="20" height="4.4" fill="#e0485a" stroke="none" stroke-width="0" rx="2"/><rect x="1348.3" y="450.2" width="40" height="40" fill="#cfd2d2" stroke="none" stroke-width="0" /><ellipse cx="1368.3" cy="450.2" rx="20" ry="10" fill="#dfeceb" stroke="#aab5b4" stroke-width="1"/><rect x="1358.3" y="448" width="20" height="4.4" fill="#e0485a" stroke="none" stroke-width="0" rx="2"/><rect x="1385.6" y="441.1" width="40" height="40" fill="#cfd2d2" stroke="none" stroke-width="0" /><ellipse cx="1405.6" cy="441.1" rx="20" ry="10" fill="#dfeceb" stroke="#aab5b4" stroke-width="1"/><rect x="1395.6" y="438.9" width="20" height="4.4" fill="#e0485a" stroke="none" stroke-width="0" rx="2"/><rect x="1426.1" y="447.8" width="40" height="40" fill="#cfd2d2" stroke="none" stroke-width="0" /><ellipse cx="1446.1" cy="447.8" rx="20" ry="10" fill="#dfeceb" stroke="#aab5b4" stroke-width="1"/><rect x="1436.1" y="445.6" width="20" height="4.4" fill="#e0485a" stroke="none" stroke-width="0" rx="2"/><rect x="1465.5" y="442.7" width="40" height="40" fill="#cfd2d2" stroke="none" stroke-width="0" /><ellipse cx="1485.5" cy="442.7" rx="20" ry="10" fill="#dfeceb" stroke="#aab5b4" stroke-width="1"/><rect x="1475.5" y="440.5" width="20" height="4.4" fill="#e0485a" stroke="none" stroke-width="0" rx="2"/><rect x="994" y="466.7" width="36" height="143.3" fill="url(#rodg)" stroke="none" stroke-width="0" /><ellipse cx="1012" cy="466.7" rx="18" ry="8" fill="#e3f0ef" stroke="#a9b4b3" stroke-width="1"/><rect x="1002" y="463.7" width="20" height="6" fill="#e5283a" stroke="none" stroke-width="0" rx="2.5"/><rect x="1039.5" y="463.2" width="36" height="146.8" fill="url(#rodg)" stroke="none" stroke-width="0" /><ellipse cx="1057.5" cy="463.2" rx="18" ry="8" fill="#e3f0ef" stroke="#a9b4b3" stroke-width="1"/><rect x="1047.5" y="460.2" width="20" height="6" fill="#e5283a" stroke="none" stroke-width="0" rx="2.5"/><rect x="1085" y="460.2" width="36" height="149.8" fill="url(#rodg)" stroke="none" stroke-width="0" /><ellipse cx="1103" cy="460.2" rx="18" ry="8" fill="#e3f0ef" stroke="#a9b4b3" stroke-width="1"/><rect x="1093" y="457.2" width="20" height="6" fill="#e5283a" stroke="none" stroke-width="0" rx="2.5"/><rect x="1130.5" y="466.5" width="36" height="143.5" fill="url(#rodg)" stroke="none" stroke-width="0" /><ellipse cx="1148.5" cy="466.5" rx="18" ry="8" fill="#e3f0ef" stroke="#a9b4b3" stroke-width="1"/><rect x="1138.5" y="463.5" width="20" height="6" fill="#e5283a" stroke="none" stroke-width="0" rx="2.5"/><rect x="1176" y="458.6" width="36" height="151.4" fill="url(#rodg)" stroke="none" stroke-width="0" /><ellipse cx="1194" cy="458.6" rx="18" ry="8" fill="#e3f0ef" stroke="#a9b4b3" stroke-width="1"/><rect x="1184" y="455.6" width="20" height="6" fill="#e5283a" stroke="none" stroke-width="0" rx="2.5"/><rect x="1221.5" y="463.3" width="36" height="146.7" fill="url(#rodg)" stroke="none" stroke-width="0" /><ellipse cx="1239.5" cy="463.3" rx="18" ry="8" fill="#e3f0ef" stroke="#a9b4b3" stroke-width="1"/><rect x="1229.5" y="460.3" width="20" height="6" fill="#e5283a" stroke="none" stroke-width="0" rx="2.5"/><rect x="1267" y="456.8" width="36" height="153.2" fill="url(#rodg)" stroke="none" stroke-width="0" /><ellipse cx="1285" cy="456.8" rx="18" ry="8" fill="#e3f0ef" stroke="#a9b4b3" stroke-width="1"/><rect x="1275" y="453.8" width="20" height="6" fill="#e5283a" stroke="none" stroke-width="0" rx="2.5"/><rect x="1312.5" y="460" width="36" height="150" fill="url(#rodg)" stroke="none" stroke-width="0" /><ellipse cx="1330.5" cy="460" rx="18" ry="8" fill="#e3f0ef" stroke="#a9b4b3" stroke-width="1"/><rect x="1320.5" y="457" width="20" height="6" fill="#e5283a" stroke="none" stroke-width="0" rx="2.5"/><rect x="1358" y="465.3" width="36" height="144.7" fill="url(#rodg)" stroke="none" stroke-width="0" /><ellipse cx="1376" cy="465.3" rx="18" ry="8" fill="#e3f0ef" stroke="#a9b4b3" stroke-width="1"/><rect x="1366" y="462.3" width="20" height="6" fill="#e5283a" stroke="none" stroke-width="0" rx="2.5"/><rect x="1403.5" y="466.8" width="36" height="143.2" fill="url(#rodg)" stroke="none" stroke-width="0" /><ellipse cx="1421.5" cy="466.8" rx="18" ry="8" fill="#e3f0ef" stroke="#a9b4b3" stroke-width="1"/><rect x="1411.5" y="463.8" width="20" height="6" fill="#e5283a" stroke="none" stroke-width="0" rx="2.5"/><rect x="1449" y="466.3" width="36" height="143.7" fill="url(#rodg)" stroke="none" stroke-width="0" /><ellipse cx="1467" cy="466.3" rx="18" ry="8" fill="#e3f0ef" stroke="#a9b4b3" stroke-width="1"/><rect x="1457" y="463.3" width="20" height="6" fill="#e5283a" stroke="none" stroke-width="0" rx="2.5"/><rect x="1494.5" y="459.4" width="36" height="150.6" fill="url(#rodg)" stroke="none" stroke-width="0" /><ellipse cx="1512.5" cy="459.4" rx="18" ry="8" fill="#e3f0ef" stroke="#a9b4b3" stroke-width="1"/><rect x="1502.5" y="456.4" width="20" height="6" fill="#e5283a" stroke="none" stroke-width="0" rx="2.5"/><rect x="987" y="478" width="38" height="134" fill="url(#rodg)" stroke="none" stroke-width="0" /><ellipse cx="1006" cy="478" rx="19" ry="8.5" fill="#e6f2f1" stroke="#a9b4b3" stroke-width="1"/><rect x="995" y="474.5" width="22" height="7" fill="#e5283a" stroke="none" stroke-width="0" rx="3"/><rect x="1033" y="470" width="38" height="142" fill="url(#rodg)" stroke="none" stroke-width="0" /><ellipse cx="1052" cy="470" rx="19" ry="8.5" fill="#e6f2f1" stroke="#a9b4b3" stroke-width="1"/><rect x="1041" y="466.5" width="22" height="7" fill="#e5283a" stroke="none" stroke-width="0" rx="3"/><rect x="1077" y="482" width="38" height="130" fill="url(#rodg)" stroke="none" stroke-width="0" /><ellipse cx="1096" cy="482" rx="19" ry="8.5" fill="#e6f2f1" stroke="#a9b4b3" stroke-width="1"/><rect x="1085" y="478.5" width="22" height="7" fill="#e5283a" stroke="none" stroke-width="0" rx="3"/><rect x="1124" y="476" width="38" height="136" fill="url(#rodg)" stroke="none" stroke-width="0" /><ellipse cx="1143" cy="476" rx="19" ry="8.5" fill="#e6f2f1" stroke="#a9b4b3" stroke-width="1"/><rect x="1132" y="472.5" width="22" height="7" fill="#e5283a" stroke="none" stroke-width="0" rx="3"/><rect x="1171" y="484" width="38" height="128" fill="url(#rodg)" stroke="none" stroke-width="0" /><ellipse cx="1190" cy="484" rx="19" ry="8.5" fill="#e6f2f1" stroke="#a9b4b3" stroke-width="1"/><rect x="1179" y="480.5" width="22" height="7" fill="#e5283a" stroke="none" stroke-width="0" rx="3"/><rect x="1213" y="478" width="38" height="134" fill="url(#rodg)" stroke="none" stroke-width="0" /><ellipse cx="1232" cy="478" rx="19" ry="8.5" fill="#e6f2f1" stroke="#a9b4b3" stroke-width="1"/><rect x="1221" y="474.5" width="22" height="7" fill="#e5283a" stroke="none" stroke-width="0" rx="3"/><rect x="1249" y="486" width="38" height="126" fill="url(#rodg)" stroke="none" stroke-width="0" /><ellipse cx="1268" cy="486" rx="19" ry="8.5" fill="#e6f2f1" stroke="#a9b4b3" stroke-width="1"/><rect x="1257" y="482.5" width="22" height="7" fill="#e5283a" stroke="none" stroke-width="0" rx="3"/><rect x="1299" y="480" width="38" height="132" fill="url(#rodg)" stroke="none" stroke-width="0" /><ellipse cx="1318" cy="480" rx="19" ry="8.5" fill="#e6f2f1" stroke="#a9b4b3" stroke-width="1"/><rect x="1307" y="476.5" width="22" height="7" fill="#e5283a" stroke="none" stroke-width="0" rx="3"/><rect x="1347" y="482" width="38" height="130" fill="url(#rodg)" stroke="none" stroke-width="0" /><ellipse cx="1366" cy="482" rx="19" ry="8.5" fill="#e6f2f1" stroke="#a9b4b3" stroke-width="1"/><rect x="1355" y="478.5" width="22" height="7" fill="#e5283a" stroke="none" stroke-width="0" rx="3"/><rect x="1394" y="476" width="38" height="136" fill="url(#rodg)" stroke="none" stroke-width="0" /><ellipse cx="1413" cy="476" rx="19" ry="8.5" fill="#e6f2f1" stroke="#a9b4b3" stroke-width="1"/><rect x="1402" y="472.5" width="22" height="7" fill="#e5283a" stroke="none" stroke-width="0" rx="3"/><rect x="1443" y="482" width="38" height="130" fill="url(#rodg)" stroke="none" stroke-width="0" /><ellipse cx="1462" cy="482" rx="19" ry="8.5" fill="#e6f2f1" stroke="#a9b4b3" stroke-width="1"/><rect x="1451" y="478.5" width="22" height="7" fill="#e5283a" stroke="none" stroke-width="0" rx="3"/><rect x="1485" y="478" width="38" height="134" fill="url(#rodg)" stroke="none" stroke-width="0" /><ellipse cx="1504" cy="478" rx="19" ry="8.5" fill="#e6f2f1" stroke="#a9b4b3" stroke-width="1"/><rect x="1493" y="474.5" width="22" height="7" fill="#e5283a" stroke="none" stroke-width="0" rx="3"/></g><g id="dots"><circle cx="994" cy="609" r="9" fill="#f0552a"/><circle cx="990" cy="614" r="5" fill="#e8283c"/><path d="M1006 608 a14 14 0 1 1 -2 28" fill="none" stroke="#f5c814" stroke-width="10" stroke-linecap="round"/><circle cx="1010" cy="640" r="4.5" fill="#f7a21b"/><circle cx="1045" cy="621" r="9" fill="#f0552a"/><circle cx="1041" cy="626" r="5" fill="#e8283c"/><path d="M1057 620 a14 14 0 1 1 -2 28" fill="none" stroke="#f5c814" stroke-width="10" stroke-linecap="round"/><circle cx="1061" cy="652" r="4.5" fill="#f7a21b"/><circle cx="1087" cy="605" r="9" fill="#f0552a"/><circle cx="1083" cy="610" r="5" fill="#e8283c"/><path d="M1099 604 a14 14 0 1 1 -2 28" fill="none" stroke="#f5c814" stroke-width="10" stroke-linecap="round"/><circle cx="1103" cy="636" r="4.5" fill="#f7a21b"/><circle cx="1142" cy="627" r="9" fill="#f0552a"/><circle cx="1138" cy="632" r="5" fill="#e8283c"/><path d="M1154 626 a14 14 0 1 1 -2 28" fill="none" stroke="#f5c814" stroke-width="10" stroke-linecap="round"/><circle cx="1158" cy="658" r="4.5" fill="#f7a21b"/><circle cx="1188.6" cy="619" r="9" fill="#f0552a"/><circle cx="1184.6" cy="624" r="5" fill="#e8283c"/><path d="M1200.6 618 a14 14 0 1 1 -2 28" fill="none" stroke="#f5c814" stroke-width="10" stroke-linecap="round"/><circle cx="1204.6" cy="650" r="4.5" fill="#f7a21b"/><circle cx="1258" cy="627" r="9" fill="#f0552a"/><circle cx="1254" cy="632" r="5" fill="#e8283c"/><path d="M1270 626 a14 14 0 1 1 -2 28" fill="none" stroke="#f5c814" stroke-width="10" stroke-linecap="round"/><circle cx="1274" cy="658" r="4.5" fill="#f7a21b"/><circle cx="1346" cy="621" r="9" fill="#f0552a"/><circle cx="1342" cy="626" r="5" fill="#e8283c"/><path d="M1358 620 a14 14 0 1 1 -2 28" fill="none" stroke="#f5c814" stroke-width="10" stroke-linecap="round"/><circle cx="1362" cy="652" r="4.5" fill="#f7a21b"/><circle cx="1387.6" cy="617" r="9" fill="#f0552a"/><circle cx="1383.6" cy="622" r="5" fill="#e8283c"/><path d="M1399.6 616 a14 14 0 1 1 -2 28" fill="none" stroke="#f5c814" stroke-width="10" stroke-linecap="round"/><circle cx="1403.6" cy="648" r="4.5" fill="#f7a21b"/><circle cx="1438.5" cy="621" r="9" fill="#f0552a"/><circle cx="1434.5" cy="626" r="5" fill="#e8283c"/><path d="M1450.5 620 a14 14 0 1 1 -2 28" fill="none" stroke="#f5c814" stroke-width="10" stroke-linecap="round"/><circle cx="1454.5" cy="652" r="4.5" fill="#f7a21b"/><circle cx="1489" cy="617" r="9" fill="#f0552a"/><circle cx="1485" cy="622" r="5" fill="#e8283c"/><path d="M1501 616 a14 14 0 1 1 -2 28" fill="none" stroke="#f5c814" stroke-width="10" stroke-linecap="round"/><circle cx="1505" cy="648" r="4.5" fill="#f7a21b"/><circle cx="1522" cy="605" r="9" fill="#f0552a"/><circle cx="1518" cy="610" r="5" fill="#e8283c"/><path d="M1534 604 a14 14 0 1 1 -2 28" fill="none" stroke="#f5c814" stroke-width="10" stroke-linecap="round"/><circle cx="1538" cy="636" r="4.5" fill="#f7a21b"/><circle cx="987.8" cy="629.4" r="9" fill="#15269a"/><circle cx="1034" cy="654.9" r="12" fill="#15269a"/><circle cx="1082.6" cy="629.4" r="9" fill="#15269a"/><circle cx="1119.6" cy="648" r="12.5" fill="#15269a"/><circle cx="1182" cy="654.9" r="11" fill="#15269a"/><circle cx="1237.6" cy="652.5" r="12" fill="#15269a"/><circle cx="1334.8" cy="654.9" r="12" fill="#15269a"/><circle cx="1385.7" cy="650" r="9" fill="#15269a"/><circle cx="1422.7" cy="648" r="12" fill="#15269a"/><circle cx="1482.9" cy="652.5" r="12.5" fill="#15269a"/><circle cx="1526.8" cy="638.7" r="9" fill="#15269a"/></g><polygon points="1220,114 1300,114 1300,186 1341,186 1260,266 1179,186 1220,186" fill="#2570b5" stroke="none" stroke-width="0" /><polyline points="114,403 592,403 592,468 1058,468" fill="none" stroke="#1c1c1c" stroke-width="6" stroke-linejoin="round" stroke-linecap="round" /><path d="M1036 448 L1062 468 L1036 488" fill="none" stroke="#1c1c1c" stroke-width="6" stroke-linecap="round" stroke-linejoin="miter"/><polyline points="263,604.5 427,604.5 427,634.5 522,634.5" fill="none" stroke="#1c1c1c" stroke-width="6" stroke-linejoin="round" stroke-linecap="round" /><path d="M496 614.5 L526 634.5 L496 654.5" fill="none" stroke="#1c1c1c" stroke-width="6" stroke-linecap="round" stroke-linejoin="miter"/><polyline points="260,703 707,703 707,729 1148,729" fill="none" stroke="#1c1c1c" stroke-width="6" stroke-linejoin="round" stroke-linecap="round" /><path d="M1125 708 L1153 728 L1125 748" fill="none" stroke="#1c1c1c" stroke-width="6" stroke-linecap="round" stroke-linejoin="miter"/><polyline points="2023,557 2150,557 2150,585 2311,585" fill="none" stroke="#1c1c1c" stroke-width="5.5" stroke-linejoin="round" stroke-linecap="round" /><path d="M2044 537 L2016 557 L2044 577" fill="none" stroke="#1c1c1c" stroke-width="6" stroke-linecap="round" stroke-linejoin="miter"/><polyline points="1586,717.5 1933,717.5 1933,752 2298,752" fill="none" stroke="#1c1c1c" stroke-width="5.5" stroke-linejoin="round" stroke-linecap="round" /><path d="M1611 697.5 L1581 717.5 L1611 737.5" fill="none" stroke="#1c1c1c" stroke-width="6" stroke-linecap="round" stroke-linejoin="miter"/><text x="113" y="384" font-family='"Liberation Sans", Arial, Helvetica, sans-serif' font-size="86" font-weight="normal" fill="#1c1c1c" text-anchor="start" stroke="#1c1c1c" stroke-width="1.6" stroke-linejoin="round" textLength="358" lengthAdjust="spacingAndGlyphs">ZnO NRs</text><text x="209" y="594" font-family='"Liberation Sans", Arial, Helvetica, sans-serif' font-size="90" font-weight="normal" fill="#1c1c1c" text-anchor="start" stroke="#1c1c1c" stroke-width="1.6" stroke-linejoin="round" textLength="234" lengthAdjust="spacingAndGlyphs">Cr/Au</text><text x="261" y="701" font-family='"Liberation Sans", Arial, Helvetica, sans-serif' font-size="88" font-weight="normal" fill="#1c1c1c" text-anchor="start" stroke="#1c1c1c" stroke-width="1.6" stroke-linejoin="round" textLength="77" lengthAdjust="spacingAndGlyphs">Ni</text><text x="2158" y="566" font-family='"Liberation Sans", Arial, Helvetica, sans-serif' font-size="78" font-weight="normal" fill="#1c1c1c" text-anchor="start" stroke="#1c1c1c" stroke-width="1.6" stroke-linejoin="round" textLength="148" lengthAdjust="spacingAndGlyphs">TTC</text><text x="2063" y="727" font-family='"Liberation Sans", Arial, Helvetica, sans-serif' font-size="88" font-weight="normal" fill="#1c1c1c" text-anchor="start" stroke="#1c1c1c" stroke-width="1.6" stroke-linejoin="round">Al<tspan font-size="52" dy="18">2</tspan><tspan dy="-18">O</tspan><tspan font-size="52" dy="18">3</tspan></text><text x="1882" y="392.5" font-family='"Liberation Sans", Arial, Helvetica, sans-serif' font-size="61" font-weight="bold" fill="#353535" text-anchor="start" textLength="88" lengthAdjust="spacingAndGlyphs">PU</text><text x="1015" y="825" font-family='"Liberation Sans", Arial, Helvetica, sans-serif' font-size="66" font-weight="bold" fill="#2f4545" text-anchor="start" textLength="483" lengthAdjust="spacingAndGlyphs">Glass substrate</text><text x="1261" y="101" font-family='"Liberation Serif", "Times New Roman", serif' font-size="107" font-weight="bold" fill="#fb0d12" text-anchor="middle" stroke="#fb0d12" stroke-width="1.6">Pressure</text></g></g>
<g id="pb"><path d="M624.3 1019C627.9 1021.2 638.1 1026.3 646.1 1032.1C654.1 1037.9 663.6 1046.4 672.3 1053.9C681 1061.5 689.8 1069.2 698.5 1077.5C707.2 1085.8 716 1094.5 724.7 1103.7C733.4 1112.9 742.2 1123.8 750.9 1132.5C759.6 1141.2 768.4 1149.5 777.1 1156.1C785.8 1162.6 794.6 1167.6 803.3 1171.8C812 1176 819.3 1178.8 829.5 1181.4C839.7 1184 851.3 1186.2 864.4 1187.5C877.5 1188.8 892.1 1189.1 908.1 1189.3C924.1 1189.4 937.9 1189.1 960.4 1188.4C983 1187.7 1029.6 1185.5 1043.4 1184.9" fill="none" stroke="#0b0b0b" stroke-width="16" stroke-linecap="butt" stroke-linejoin="round" /><path d="M353.6 1333.3C357.3 1337.2 367.4 1348.6 375.4 1356.9C383.5 1365.2 391.5 1373.9 401.6 1383.1C411.8 1392.3 424.9 1403.8 436.6 1411.9C448.2 1420.1 460.6 1427.2 471.5 1432C482.4 1436.8 493.3 1439.1 502.1 1440.7C510.8 1442.3 515.9 1443 523.9 1441.6C531.9 1440.1 542.1 1436.9 550.1 1432C558.1 1427 564.6 1418.9 571.9 1411.9C579.2 1404.9 584.3 1398.1 593.7 1390.1C603.2 1382.1 615.6 1371.6 628.7 1363.9C641.8 1356.2 656.3 1349.9 672.3 1343.8C688.3 1337.7 708.7 1331.7 724.7 1327.2C740.7 1322.7 753.8 1319.5 768.4 1316.7C782.9 1314 804.7 1311.6 812 1310.6" fill="none" stroke="#f4141c" stroke-width="15" stroke-linecap="round" stroke-linejoin="round" /><path d="M353.6 1147.3C358.7 1150.4 373.3 1158.4 384.2 1165.7C395.1 1173 407.5 1181.8 419.1 1191C430.7 1200.2 442.4 1209.6 454 1220.7C465.7 1231.7 477.3 1243.7 489 1257.4C500.6 1271 513.7 1287.9 523.9 1302.8C534.1 1317.6 542.1 1333 550.1 1346.4C558.1 1359.8 564.6 1372.9 571.9 1383.1C579.2 1393.3 586.5 1401.7 593.7 1407.5C601 1413.4 606.8 1415.8 615.6 1418C624.3 1420.2 635.2 1421.5 646.1 1420.6C657 1419.8 667.9 1416.4 681 1412.8C694.1 1409.1 710.1 1403.6 724.7 1398.8C739.3 1394 753.4 1388.6 768.4 1384C783.3 1379.3 806.9 1373 814.6 1370.9" fill="none" stroke="#1f3d9c" stroke-width="17" stroke-linecap="butt" stroke-linejoin="round" /><rect x="434" y="872" width="660" height="147" fill="#fff" stroke="#444" stroke-width="1.6" /><line x1="476" y1="903" x2="554" y2="903" stroke="#0b0b0b" stroke-width="1.5" opacity="0.75"/><rect x="508.5" y="896.5" width="13" height="13" fill="#0b0b0b" stroke="none" stroke-width="0" /><text x="567" y="915" font-family='"Liberation Sans", Arial, Helvetica, sans-serif' font-size="37.5" font-weight="bold" fill="#111" text-anchor="start" >Before treatment PEI</text><line x1="476" y1="950" x2="554" y2="950" stroke="#f4141c" stroke-width="1.5" opacity="0.75"/><circle cx="515" cy="950" r="6.5" fill="#f4141c"/><text x="567" y="962" font-family='"Liberation Sans", Arial, Helvetica, sans-serif' font-size="37.5" font-weight="bold" fill="#111" text-anchor="start" >after PEI treatment</text><line x1="476" y1="997" x2="554" y2="997" stroke="#1c3f9e" stroke-width="1.5" opacity="0.75"/><polygon points="515,989.2 522.8,1002.9 507.2,1002.9" fill="#1c3f9e" stroke="none" stroke-width="0" /><text x="567" y="1009" font-family='"Liberation Sans", Arial, Helvetica, sans-serif' font-size="37.5" font-weight="bold" fill="#111" text-anchor="start" >After growing ZnO nanorods</text><rect x="297" y="871" width="799" height="589" fill="none" stroke="#2a2a2a" stroke-width="2.2" /><line x1="297" y1="939" x2="309" y2="939" stroke="#2a2a2a" stroke-width="2.2" /><line x1="297" y1="1077.5" x2="309" y2="1077.5" stroke="#2a2a2a" stroke-width="2.2" /><line x1="297" y1="1217" x2="309" y2="1217" stroke="#2a2a2a" stroke-width="2.2" /><line x1="297" y1="1355" x2="309" y2="1355" stroke="#2a2a2a" stroke-width="2.2" /><line x1="297" y1="1008" x2="303" y2="1008" stroke="#2a2a2a" stroke-width="2.2" /><line x1="297" y1="1147" x2="303" y2="1147" stroke="#2a2a2a" stroke-width="2.2" /><line x1="297" y1="1286" x2="303" y2="1286" stroke="#2a2a2a" stroke-width="2.2" /><line x1="297" y1="1425" x2="303" y2="1425" stroke="#2a2a2a" stroke-width="2.2" /><line x1="354" y1="1460" x2="354" y2="1448" stroke="#2a2a2a" stroke-width="2.2" /><line x1="469" y1="1460" x2="469" y2="1448" stroke="#2a2a2a" stroke-width="2.2" /><line x1="583" y1="1460" x2="583" y2="1448" stroke="#2a2a2a" stroke-width="2.2" /><line x1="697" y1="1460" x2="697" y2="1448" stroke="#2a2a2a" stroke-width="2.2" /><line x1="811" y1="1460" x2="811" y2="1448" stroke="#2a2a2a" stroke-width="2.2" /><line x1="925.5" y1="1460" x2="925.5" y2="1448" stroke="#2a2a2a" stroke-width="2.2" /><line x1="1039" y1="1460" x2="1039" y2="1448" stroke="#2a2a2a" stroke-width="2.2" /><line x1="411.5" y1="1460" x2="411.5" y2="1454" stroke="#2a2a2a" stroke-width="2.2" /><line x1="526" y1="1460" x2="526" y2="1454" stroke="#2a2a2a" stroke-width="2.2" /><line x1="640" y1="1460" x2="640" y2="1454" stroke="#2a2a2a" stroke-width="2.2" /><line x1="754" y1="1460" x2="754" y2="1454" stroke="#2a2a2a" stroke-width="2.2" /><line x1="868.2" y1="1460" x2="868.2" y2="1454" stroke="#2a2a2a" stroke-width="2.2" /><line x1="982.2" y1="1460" x2="982.2" y2="1454" stroke="#2a2a2a" stroke-width="2.2" /><text x="282" y="952" font-family='"Liberation Sans", Arial, Helvetica, sans-serif' font-size="36.5" font-weight="bold" fill="#111" text-anchor="end" >2.8x10<tspan font-size="24" dy="-15">4</tspan></text><text x="282" y="1090.5" font-family='"Liberation Sans", Arial, Helvetica, sans-serif' font-size="36.5" font-weight="bold" fill="#111" text-anchor="end" >2.4x10<tspan font-size="24" dy="-15">4</tspan></text><text x="282" y="1230" font-family='"Liberation Sans", Arial, Helvetica, sans-serif' font-size="36.5" font-weight="bold" fill="#111" text-anchor="end" >2.0x10<tspan font-size="24" dy="-15">4</tspan></text><text x="282" y="1368" font-family='"Liberation Sans", Arial, Helvetica, sans-serif' font-size="36.5" font-weight="bold" fill="#111" text-anchor="end" >1.6x10<tspan font-size="24" dy="-15">4</tspan></text><text x="354" y="1504" font-family='"Liberation Sans", Arial, Helvetica, sans-serif' font-size="36.5" font-weight="bold" fill="#111" text-anchor="middle" >-20</text><text x="469" y="1504" font-family='"Liberation Sans", Arial, Helvetica, sans-serif' font-size="36.5" font-weight="bold" fill="#111" text-anchor="middle" >-10</text><text x="583" y="1504" font-family='"Liberation Sans", Arial, Helvetica, sans-serif' font-size="36.5" font-weight="bold" fill="#111" text-anchor="middle" >0</text><text x="697" y="1504" font-family='"Liberation Sans", Arial, Helvetica, sans-serif' font-size="36.5" font-weight="bold" fill="#111" text-anchor="middle" >10</text><text x="811" y="1504" font-family='"Liberation Sans", Arial, Helvetica, sans-serif' font-size="36.5" font-weight="bold" fill="#111" text-anchor="middle" >20</text><text x="925.5" y="1504" font-family='"Liberation Sans", Arial, Helvetica, sans-serif' font-size="36.5" font-weight="bold" fill="#111" text-anchor="middle" >30</text><text x="1039" y="1504" font-family='"Liberation Sans", Arial, Helvetica, sans-serif' font-size="36.5" font-weight="bold" fill="#111" text-anchor="middle" >40</text><text x="694" y="1574" font-family='"Liberation Sans", Arial, Helvetica, sans-serif' font-size="47.5" font-weight="bold" fill="#111" text-anchor="middle" >Gate voltage, V<tspan font-size="44" dy="10">G</tspan><tspan dy="-10"> (V)</tspan></text><text x="133" y="1148" font-family='"Liberation Sans", Arial, Helvetica, sans-serif' font-size="47" font-weight="bold" fill="#111" text-anchor="middle" transform="rotate(-90 133 1148)" >Conductivity, σ (S/cm)</text></g><g id="pc"><path d="M1532.3 931.6C1537.9 939.8 1552.9 961.5 1565.9 980.9C1579 1000.3 1595.7 1024.1 1610.6 1048C1625.5 1071.9 1640.5 1098.4 1655.4 1124.2C1670.3 1150 1685.3 1176.5 1700.2 1202.6C1715.1 1228.7 1730.1 1256 1745 1281C1759.9 1306 1776.2 1333.4 1789.8 1352.6C1803.4 1371.8 1816 1384.7 1826.6 1396C1837.2 1407.3 1844.5 1414.7 1853.4 1420.5C1862.4 1426.3 1871.3 1430.8 1880.3 1431C1889.3 1431.2 1897.5 1428.3 1907.2 1422C1916.9 1415.7 1928 1405.2 1938.5 1392.9C1949 1380.6 1958.7 1365.2 1969.9 1348C1981.1 1330.8 1992.3 1312.4 2005.7 1290C2019.1 1267.6 2035.6 1237.7 2050.5 1213.8C2065.4 1189.9 2085.3 1161.1 2095.2 1146.6C2105.1 1132.1 2107.5 1130.3 2110 1127" fill="none" stroke="#d77fb4" stroke-width="19.5" stroke-linecap="butt" stroke-linejoin="round" /><path d="M1530.8 931.6C1536.4 939.8 1551.4 961.5 1564.4 980.9C1577.5 1000.3 1594.2 1024.1 1609.1 1048C1624 1071.9 1639 1098.4 1653.9 1124.2C1668.8 1150 1683.8 1176.5 1698.7 1202.6C1713.6 1228.7 1728.6 1256 1743.5 1281C1758.4 1306 1774.7 1333.4 1788.3 1352.6C1801.9 1371.8 1814.5 1384.7 1825.1 1396C1835.7 1407.3 1843 1414.7 1851.9 1420.5C1860.9 1426.3 1869.8 1430.8 1878.8 1431C1887.8 1431.2 1896 1428.3 1905.7 1422C1915.4 1415.7 1926.5 1405.2 1937 1392.9C1947.5 1380.6 1957.2 1365.2 1968.4 1348C1979.6 1330.8 1990.8 1312.4 2004.2 1290C2017.6 1267.6 2034.1 1237.7 2049 1213.8C2063.9 1189.9 2083.8 1161.1 2093.7 1146.6C2103.6 1132.1 2106 1130.3 2108.5 1127" fill="none" stroke="#5b4fb0" stroke-width="18" stroke-linecap="butt" stroke-linejoin="round" opacity="0.55"/><path d="M1532.3 931.6C1537.9 939.8 1552.9 961.5 1565.9 980.9C1579 1000.3 1595.7 1024.1 1610.6 1048C1625.5 1071.9 1640.5 1098.4 1655.4 1124.2C1670.3 1150 1685.3 1176.5 1700.2 1202.6C1715.1 1228.7 1730.1 1256 1745 1281C1759.9 1306 1776.2 1333.4 1789.8 1352.6C1803.4 1371.8 1816 1384.7 1826.6 1396C1837.2 1407.3 1844.5 1414.7 1853.4 1420.5C1862.4 1426.3 1871.3 1430.8 1880.3 1431C1889.3 1431.2 1897.5 1428.3 1907.2 1422C1916.9 1415.7 1928 1405.2 1938.5 1392.9C1949 1380.6 1958.7 1365.2 1969.9 1348C1981.1 1330.8 1992.3 1312.4 2005.7 1290C2019.1 1267.6 2035.6 1237.7 2050.5 1213.8C2065.4 1189.9 2085.3 1161.1 2095.2 1146.6C2105.1 1132.1 2107.5 1130.3 2110 1127" fill="none" stroke="#0c8a3c" stroke-width="15.5" stroke-linecap="butt" stroke-linejoin="round" /><polygon points="1532.3,921.2 1542.7,931.6 1532.3,942 1521.9,931.6" fill="#0c8a3c" stroke="none" stroke-width="0" /><rect x="1949.7" y="886" width="315.7" height="242.7" fill="#fff" stroke="#444" stroke-width="1.6" /><line x1="1974" y1="920.5" x2="2057" y2="920.5" stroke="#0b0b0b" stroke-width="1.5" opacity="0.6"/><rect x="2009" y="914" width="13" height="13" fill="#0b0b0b" stroke="none" stroke-width="0" /><text x="2068.4" y="933.5" font-family='"Liberation Sans", Arial, Helvetica, sans-serif' font-size="37" font-weight="bold" fill="#111" text-anchor="start" >P=0</text><line x1="1974" y1="967.5" x2="2057" y2="967.5" stroke="#f4141c" stroke-width="1.5" opacity="0.6"/><circle cx="2015.5" cy="967.5" r="6.5" fill="#f4141c"/><text x="2068.4" y="980.5" font-family='"Liberation Sans", Arial, Helvetica, sans-serif' font-size="37" font-weight="bold" fill="#111" text-anchor="start" >P=64 kPa</text><line x1="1974" y1="1014.5" x2="2057" y2="1014.5" stroke="#1c3f9e" stroke-width="1.5" opacity="0.6"/><polygon points="2015.5,1006.7 2023.3,1020.4 2007.7,1020.4" fill="#1c3f9e" stroke="none" stroke-width="0" /><text x="2068.4" y="1027.5" font-family='"Liberation Sans", Arial, Helvetica, sans-serif' font-size="37" font-weight="bold" fill="#111" text-anchor="start" >P= 96 kPa</text><line x1="1974" y1="1061.5" x2="2057" y2="1061.5" stroke="#c9379c" stroke-width="1.5" opacity="0.6"/><polygon points="2015.5,1069.3 2023.3,1055.7 2007.7,1055.7" fill="#c9379c" stroke="none" stroke-width="0" /><text x="2068.4" y="1074.5" font-family='"Liberation Sans", Arial, Helvetica, sans-serif' font-size="37" font-weight="bold" fill="#111" text-anchor="start" >P=160 kPa</text><line x1="1974" y1="1107.6" x2="2057" y2="1107.6" stroke="#0c8a3c" stroke-width="1.5" opacity="0.6"/><polygon points="2015.5,1099.1 2024,1107.6 2015.5,1116 2007,1107.6" fill="#0c8a3c" stroke="none" stroke-width="0" /><text x="2068.4" y="1120.6" font-family='"Liberation Sans", Arial, Helvetica, sans-serif' font-size="37" font-weight="bold" fill="#111" text-anchor="start" >release</text><rect x="1466.5" y="886" width="798.9" height="588.8" fill="none" stroke="#2a2a2a" stroke-width="2.2" /><line x1="1466.5" y1="962" x2="1478.5" y2="962" stroke="#2a2a2a" stroke-width="2.2" /><line x1="1466.5" y1="1114" x2="1478.5" y2="1114" stroke="#2a2a2a" stroke-width="2.2" /><line x1="1466.5" y1="1266.6" x2="1478.5" y2="1266.6" stroke="#2a2a2a" stroke-width="2.2" /><line x1="1466.5" y1="1416.6" x2="1478.5" y2="1416.6" stroke="#2a2a2a" stroke-width="2.2" /><line x1="1599.5" y1="1474.8" x2="1599.5" y2="1462.8" stroke="#2a2a2a" stroke-width="2.2" /><line x1="1732.5" y1="1474.8" x2="1732.5" y2="1462.8" stroke="#2a2a2a" stroke-width="2.2" /><line x1="1865.5" y1="1474.8" x2="1865.5" y2="1462.8" stroke="#2a2a2a" stroke-width="2.2" /><line x1="1999" y1="1474.8" x2="1999" y2="1462.8" stroke="#2a2a2a" stroke-width="2.2" /><line x1="2132" y1="1474.8" x2="2132" y2="1462.8" stroke="#2a2a2a" stroke-width="2.2" /><line x1="1533" y1="1474.8" x2="1533" y2="1468.8" stroke="#2a2a2a" stroke-width="2.2" /><line x1="1666" y1="1474.8" x2="1666" y2="1468.8" stroke="#2a2a2a" stroke-width="2.2" /><line x1="1799" y1="1474.8" x2="1799" y2="1468.8" stroke="#2a2a2a" stroke-width="2.2" /><line x1="1932.2" y1="1474.8" x2="1932.2" y2="1468.8" stroke="#2a2a2a" stroke-width="2.2" /><line x1="2065.5" y1="1474.8" x2="2065.5" y2="1468.8" stroke="#2a2a2a" stroke-width="2.2" /><line x1="2198.7" y1="1474.8" x2="2198.7" y2="1468.8" stroke="#2a2a2a" stroke-width="2.2" /><text x="1454" y="975" font-family='"Liberation Sans", Arial, Helvetica, sans-serif' font-size="36.5" font-weight="bold" fill="#111" text-anchor="end" >2.4x10<tspan font-size="24" dy="-15">4</tspan></text><text x="1454" y="1127" font-family='"Liberation Sans", Arial, Helvetica, sans-serif' font-size="36.5" font-weight="bold" fill="#111" text-anchor="end" >2.3x10<tspan font-size="24" dy="-15">4</tspan></text><text x="1454" y="1279.6" font-family='"Liberation Sans", Arial, Helvetica, sans-serif' font-size="36.5" font-weight="bold" fill="#111" text-anchor="end" >2.3x10<tspan font-size="24" dy="-15">4</tspan></text><text x="1454" y="1429.6" font-family='"Liberation Sans", Arial, Helvetica, sans-serif' font-size="36.5" font-weight="bold" fill="#111" text-anchor="end" >2.2x10<tspan font-size="24" dy="-15">4</tspan></text><text x="1466.5" y="1520" font-family='"Liberation Sans", Arial, Helvetica, sans-serif' font-size="36.5" font-weight="bold" fill="#111" text-anchor="middle" >-6</text><text x="1599.5" y="1520" font-family='"Liberation Sans", Arial, Helvetica, sans-serif' font-size="36.5" font-weight="bold" fill="#111" text-anchor="middle" >-4</text><text x="1732.5" y="1520" font-family='"Liberation Sans", Arial, Helvetica, sans-serif' font-size="36.5" font-weight="bold" fill="#111" text-anchor="middle" >-2</text><text x="1865.5" y="1520" font-family='"Liberation Sans", Arial, Helvetica, sans-serif' font-size="36.5" font-weight="bold" fill="#111" text-anchor="middle" >0</text><text x="1999" y="1520" font-family='"Liberation Sans", Arial, Helvetica, sans-serif' font-size="36.5" font-weight="bold" fill="#111" text-anchor="middle" >2</text><text x="2132" y="1520" font-family='"Liberation Sans", Arial, Helvetica, sans-serif' font-size="36.5" font-weight="bold" fill="#111" text-anchor="middle" >4</text><text x="2265.4" y="1520" font-family='"Liberation Sans", Arial, Helvetica, sans-serif' font-size="36.5" font-weight="bold" fill="#111" text-anchor="middle" >6</text><text x="1867" y="1594.5" font-family='"Liberation Sans", Arial, Helvetica, sans-serif' font-size="46.5" font-weight="bold" fill="#111" text-anchor="middle" >Gate voltage, V<tspan font-size="28" dy="12">G</tspan><tspan dy="-12"> (V)</tspan></text><text x="1294" y="1188" font-family='"Liberation Sans", Arial, Helvetica, sans-serif' font-size="42.6" font-weight="bold" fill="#111" text-anchor="middle" transform="rotate(-90 1294 1188)" >Conductivity, σ (S/cm)</text></g><g id="pd"><path d="M371.1 1846.1C373.3 1845.5 379.1 1842.3 384.2 1842.6C389.3 1842.9 394.4 1843.4 401.6 1847.8C408.9 1852.2 416.2 1858.3 427.8 1868.8C439.5 1879.2 455.5 1895.7 471.5 1910.7C487.5 1925.7 506.4 1942.7 523.9 1958.7C541.3 1974.7 558.8 1990 576.3 2006.7C593.7 2023.5 611.2 2040.5 628.7 2059.1C646.1 2077.7 665 2101 681 2118.5C697.1 2135.9 711.6 2151.9 724.7 2163.9C737.8 2175.8 748 2184.3 759.6 2190.1C771.3 2195.9 782.9 2199.1 794.6 2198.8C806.2 2198.5 816.4 2194.7 829.5 2188.3C842.6 2181.9 858.6 2169.8 873.1 2160.4C887.7 2150.9 902.2 2140.2 916.8 2131.6C931.3 2123 944.4 2115.4 960.4 2108.9C976.5 2102.3 1004.1 2095 1012.8 2092.3" fill="none" stroke="#27b24a" stroke-width="14" stroke-linecap="butt" stroke-linejoin="round" /><path d="M371.1 1804.1C373.3 1804 379.1 1802.3 384.2 1803.3C389.3 1804.3 394.4 1806.2 401.6 1810.3C408.9 1814.3 417.6 1819 427.8 1827.7C438 1836.5 451.1 1850.3 462.8 1862.6C474.4 1875 484.6 1887 497.7 1901.9C510.8 1916.9 525.3 1934.4 541.3 1952.6C557.4 1970.8 579.2 1993.6 593.7 2011.1C608.3 2028.5 617 2040.9 628.7 2057.4C640.3 2073.8 651.9 2092 663.6 2109.7C675.2 2127.5 688.3 2149.8 698.5 2163.9C708.7 2178 716 2186.4 724.7 2194.4C733.4 2202.4 742.2 2208.1 750.9 2211.9C759.6 2215.7 768.4 2217.6 777.1 2217.1C785.8 2216.7 794.6 2214.1 803.3 2209.3C812 2204.5 819.3 2198.1 829.5 2188.3C839.7 2178.6 851.3 2164.6 864.4 2150.8C877.5 2137 893.5 2118.2 908.1 2105.4C922.6 2092.6 938.6 2081.5 951.7 2073.9C964.8 2066.4 976.5 2063 986.6 2060C996.8 2056.9 1008.5 2056.3 1012.8 2055.6" fill="none" stroke="#f0202a" stroke-width="15.5" stroke-linecap="round" stroke-linejoin="round" /><path d="M371.1 1977C373.3 1975.6 378.4 1970.8 384.2 1968.3C390 1965.8 397.3 1963.2 406 1962.2C414.7 1961.2 425.7 1960.6 436.6 1962.2C447.5 1963.8 456.9 1965.8 471.5 1971.8C486 1977.8 506.4 1987.8 523.9 1998C541.3 2008.2 558.8 2020.4 576.3 2032.9C593.7 2045.4 611.2 2058.8 628.7 2073.1C646.1 2087.3 665 2104.5 681 2118.5C697.1 2132.4 711.6 2146.4 724.7 2156.9C737.8 2167.4 748 2174.9 759.6 2181.3C771.3 2187.7 783.6 2193 794.6 2195.3C805.5 2197.6 814.2 2198.1 825.1 2195.3C836 2192.5 847.7 2186.9 860 2178.7C872.4 2170.6 885.5 2157.5 899.3 2146.4C913.2 2135.4 929.9 2121.8 943 2112.4C956.1 2102.9 966.3 2096.1 977.9 2089.7C989.6 2083.3 1007 2076.6 1012.8 2073.9" fill="none" stroke="#27348b" stroke-width="14.5" stroke-linecap="butt" stroke-linejoin="round" /><path d="M379.8 1998C382 1996.2 387.1 1990.7 392.9 1987.5C398.7 1984.3 406 1980.5 414.7 1978.8C423.5 1977 434.4 1976 445.3 1977C456.2 1978 465.7 1979.2 480.2 1984.9C494.8 1990.6 515.1 2001.2 532.6 2011.1C550.1 2021 567.5 2032.2 585 2044.3C602.5 2056.3 619.9 2069.7 637.4 2083.6C654.9 2097.4 673.8 2113.8 689.8 2127.2C705.8 2140.6 720.3 2154 733.4 2163.9C746.5 2173.8 756.7 2180.8 768.4 2186.6C780 2192.4 792.4 2197.1 803.3 2198.8C814.2 2200.6 822.9 2200 833.8 2197.1C844.8 2194.1 856.4 2188.6 868.8 2181.3C881.1 2174.1 894.2 2163.6 908.1 2153.4C921.9 2143.2 938.6 2129.7 951.7 2120.2C964.8 2110.8 976.5 2102.8 986.6 2096.6C996.8 2090.5 1008.5 2085.7 1012.8 2083.6" fill="none" stroke="#20c3d3" stroke-width="14.5" stroke-linecap="round" stroke-linejoin="round" /><polygon points="371.1,2008.7 379.5,2017.2 371.1,2025.6 362.6,2017.2" fill="#20c3d3" stroke="none" stroke-width="0" /><path d="M367.6 1808.1C369 1804 372.7 1790.2 376.3 1783.6C380 1777.1 384.3 1772.6 389.4 1768.8C394.5 1765 400.3 1762.4 406.9 1760.9C413.4 1759.5 421.4 1758.9 428.7 1760.1C436 1761.2 442.5 1763.5 450.5 1767.9C458.5 1772.3 468 1778.5 476.7 1786.2C485.5 1794 494.2 1803.3 502.9 1814.2C511.7 1825.1 520.4 1837.9 529.1 1851.7C537.9 1865.6 546.6 1880.8 555.3 1897.1C564 1913.4 572.8 1930.9 581.5 1949.5C590.2 1968.2 599 1988.2 607.7 2008.9C616.4 2029.6 625.2 2052 633.9 2073.5C642.6 2095 652.1 2119.2 660.1 2138.1C668.1 2157 674.6 2173 681.9 2187C689.2 2201 697.2 2213.2 703.7 2221.9C710.3 2230.7 716.1 2235.6 721.2 2239.4C726.3 2243.2 729.9 2244.4 734.3 2244.6C738.7 2244.9 742.3 2245.2 747.4 2241.2C752.5 2237.1 759 2228.8 764.9 2220.2C770.7 2211.6 775.8 2202.3 782.3 2189.6C788.9 2177 796.9 2159.5 804.2 2144.2C811.4 2129 818.7 2113.7 826 2098C833.3 2082.2 840.5 2065.2 847.8 2049.9C855.1 2034.7 864.5 2016 869.6 2006.3C874.7 1996.5 876.9 1993.9 878.4 1991.4" fill="none" stroke="#111" stroke-width="12" stroke-linecap="butt" stroke-linejoin="round" stroke-dasharray="5 4"/><path d="M371.1 1804.1C372.5 1800.1 376.2 1786.2 379.8 1779.7C383.5 1773.2 387.8 1768.6 392.9 1764.9C398 1761.1 403.8 1758.5 410.4 1757C416.9 1755.5 424.9 1755 432.2 1756.1C439.5 1757.3 446 1759.6 454 1764C462 1768.4 471.5 1774.6 480.2 1782.3C489 1790 497.7 1799.3 506.4 1810.3C515.1 1821.2 523.9 1834 532.6 1847.8C541.3 1861.6 550.1 1876.9 558.8 1893.2C567.5 1909.5 576.3 1927 585 1945.6C593.7 1964.2 602.5 1984.3 611.2 2005C619.9 2025.6 628.7 2048 637.4 2069.6C646.1 2091.1 655.6 2115.3 663.6 2134.2C671.6 2153.1 678.1 2169.1 685.4 2183.1C692.7 2197.1 700.7 2209.3 707.2 2218C713.8 2226.7 719.6 2231.7 724.7 2235.5C729.8 2239.3 733.4 2240.4 737.8 2240.7C742.2 2241 745.8 2241.3 750.9 2237.2C756 2233.1 762.5 2224.9 768.4 2216.3C774.2 2207.7 779.3 2198.4 785.8 2185.7C792.4 2173 800.4 2155.6 807.6 2140.3C814.9 2125 822.2 2109.7 829.5 2094C836.8 2078.3 844 2061.3 851.3 2046C858.6 2030.7 868 2012.1 873.1 2002.4C878.2 1992.6 880.4 1990 881.9 1987.5" fill="none" stroke="#c445a5" stroke-width="14" stroke-linecap="round" stroke-linejoin="round" /><rect x="780" y="1710" width="311" height="279" fill="#fff" stroke="#444" stroke-width="1.6" /><line x1="805" y1="1739" x2="884" y2="1739" stroke="#0b0b0b" stroke-width="1.5" opacity="0.7"/><rect x="838.5" y="1732.5" width="13" height="13" fill="#0b0b0b" stroke="none" stroke-width="0" /><text x="899" y="1751" font-family='"Liberation Sans", Arial, Helvetica, sans-serif' font-size="37.5" font-weight="normal" fill="#111" text-anchor="start" >P=0</text><line x1="805" y1="1785" x2="884" y2="1785" stroke="#f0202a" stroke-width="1.5" opacity="0.7"/><circle cx="845" cy="1785" r="6.5" fill="#f0202a"/><text x="899" y="1797" font-family='"Liberation Sans", Arial, Helvetica, sans-serif' font-size="37.5" font-weight="normal" fill="#111" text-anchor="start" >P=64 kPa</text><line x1="805" y1="1830" x2="884" y2="1830" stroke="#27b24a" stroke-width="1.5" opacity="0.7"/><polygon points="845,1822.2 852.8,1835.8 837.2,1835.8" fill="#27b24a" stroke="none" stroke-width="0" /><text x="899" y="1842" font-family='"Liberation Sans", Arial, Helvetica, sans-serif' font-size="37.5" font-weight="normal" fill="#111" text-anchor="start" >P= 96 kPa</text><line x1="805" y1="1877.5" x2="884" y2="1877.5" stroke="#27348b" stroke-width="1.5" opacity="0.7"/><polygon points="845,1885.3 852.8,1871.7 837.2,1871.7" fill="#27348b" stroke="none" stroke-width="0" /><text x="899" y="1889.5" font-family='"Liberation Sans", Arial, Helvetica, sans-serif' font-size="37.5" font-weight="normal" fill="#111" text-anchor="start" >P=127 kPa</text><line x1="805" y1="1924" x2="884" y2="1924" stroke="#20c3d3" stroke-width="1.5" opacity="0.7"/><polygon points="845,1915.5 853.5,1924 845,1932.5 836.5,1924" fill="#20c3d3" stroke="none" stroke-width="0" /><text x="899" y="1936" font-family='"Liberation Sans", Arial, Helvetica, sans-serif' font-size="37.5" font-weight="normal" fill="#111" text-anchor="start" >P=160 kPa</text><line x1="805" y1="1970" x2="884" y2="1970" stroke="#c445a5" stroke-width="1.5" opacity="0.7"/><polygon points="837.2,1970 850.9,1962.2 850.9,1977.8" fill="#c445a5" stroke="none" stroke-width="0" /><text x="899" y="1982" font-family='"Liberation Sans", Arial, Helvetica, sans-serif' font-size="37.5" font-weight="normal" fill="#111" text-anchor="start" >release</text><rect x="292.5" y="1710" width="798.5" height="586.5" fill="none" stroke="#2a2a2a" stroke-width="2.2" /><line x1="292.5" y1="1823" x2="304.5" y2="1823" stroke="#2a2a2a" stroke-width="2.2" /><line x1="292.5" y1="1963" x2="304.5" y2="1963" stroke="#2a2a2a" stroke-width="2.2" /><line x1="292.5" y1="2103" x2="304.5" y2="2103" stroke="#2a2a2a" stroke-width="2.2" /><line x1="292.5" y1="2242" x2="304.5" y2="2242" stroke="#2a2a2a" stroke-width="2.2" /><line x1="292.5" y1="1893" x2="298.5" y2="1893" stroke="#2a2a2a" stroke-width="2.2" /><line x1="292.5" y1="2033" x2="298.5" y2="2033" stroke="#2a2a2a" stroke-width="2.2" /><line x1="292.5" y1="2172.5" x2="298.5" y2="2172.5" stroke="#2a2a2a" stroke-width="2.2" /><line x1="292.5" y1="1753" x2="298.5" y2="1753" stroke="#2a2a2a" stroke-width="2.2" /><line x1="371" y1="2296.5" x2="371" y2="2284.5" stroke="#2a2a2a" stroke-width="2.2" /><line x1="531" y1="2296.5" x2="531" y2="2284.5" stroke="#2a2a2a" stroke-width="2.2" /><line x1="691" y1="2296.5" x2="691" y2="2284.5" stroke="#2a2a2a" stroke-width="2.2" /><line x1="851" y1="2296.5" x2="851" y2="2284.5" stroke="#2a2a2a" stroke-width="2.2" /><line x1="1011" y1="2296.5" x2="1011" y2="2284.5" stroke="#2a2a2a" stroke-width="2.2" /><line x1="451" y1="2296.5" x2="451" y2="2290.5" stroke="#2a2a2a" stroke-width="2.2" /><line x1="611" y1="2296.5" x2="611" y2="2290.5" stroke="#2a2a2a" stroke-width="2.2" /><line x1="771" y1="2296.5" x2="771" y2="2290.5" stroke="#2a2a2a" stroke-width="2.2" /><line x1="931" y1="2296.5" x2="931" y2="2290.5" stroke="#2a2a2a" stroke-width="2.2" /><text x="279" y="1836" font-family='"Liberation Sans", Arial, Helvetica, sans-serif' font-size="38.8" font-weight="bold" fill="#111" text-anchor="end" >1.7x10<tspan font-size="25" dy="-16">4</tspan></text><text x="279" y="1976" font-family='"Liberation Sans", Arial, Helvetica, sans-serif' font-size="38.8" font-weight="bold" fill="#111" text-anchor="end" >1.6x10<tspan font-size="25" dy="-16">4</tspan></text><text x="279" y="2116" font-family='"Liberation Sans", Arial, Helvetica, sans-serif' font-size="38.8" font-weight="bold" fill="#111" text-anchor="end" >1.6x10<tspan font-size="25" dy="-16">4</tspan></text><text x="279" y="2255" font-family='"Liberation Sans", Arial, Helvetica, sans-serif' font-size="38.8" font-weight="bold" fill="#111" text-anchor="end" >1.6x10<tspan font-size="25" dy="-16">4</tspan></text><text x="371" y="2343" font-family='"Liberation Sans", Arial, Helvetica, sans-serif' font-size="36.5" font-weight="bold" fill="#111" text-anchor="middle" >-0.5</text><text x="531" y="2343" font-family='"Liberation Sans", Arial, Helvetica, sans-serif' font-size="36.5" font-weight="bold" fill="#111" text-anchor="middle" >0.0</text><text x="691" y="2343" font-family='"Liberation Sans", Arial, Helvetica, sans-serif' font-size="36.5" font-weight="bold" fill="#111" text-anchor="middle" >0.5</text><text x="851" y="2343" font-family='"Liberation Sans", Arial, Helvetica, sans-serif' font-size="36.5" font-weight="bold" fill="#111" text-anchor="middle" >1.0</text><text x="1011" y="2343" font-family='"Liberation Sans", Arial, Helvetica, sans-serif' font-size="36.5" font-weight="bold" fill="#111" text-anchor="middle" >1.5</text><text x="690" y="2413" font-family='"Liberation Sans", Arial, Helvetica, sans-serif' font-size="47.5" font-weight="bold" fill="#111" text-anchor="middle" >Gate voltage, V<tspan font-size="44" dy="10">G</tspan><tspan dy="-10"> (V)</tspan></text><text x="118" y="1986" font-family='"Liberation Sans", Arial, Helvetica, sans-serif' font-size="46.4" font-weight="bold" fill="#111" text-anchor="middle" transform="rotate(-90 118 1986)" >Conductivity, σ (S/cm)</text></g><g id="pe"><line x1="1821.4" y1="2017.7" x2="1821.4" y2="2075.7" stroke="#f28a8a" stroke-width="2" /><line x1="1814.4" y1="2017.7" x2="1828.4" y2="2017.7" stroke="#f28a8a" stroke-width="2" /><line x1="1814.4" y1="2075.7" x2="1828.4" y2="2075.7" stroke="#f28a8a" stroke-width="2" /><line x1="1950.3" y1="1922.9" x2="1950.3" y2="1978.9" stroke="#f28a8a" stroke-width="2" /><line x1="1943.3" y1="1922.9" x2="1957.3" y2="1922.9" stroke="#f28a8a" stroke-width="2" /><line x1="1943.3" y1="1978.9" x2="1957.3" y2="1978.9" stroke="#f28a8a" stroke-width="2" /><line x1="2073.1" y1="1824.3" x2="2073.1" y2="1896.3" stroke="#f28a8a" stroke-width="2" /><line x1="2066.1" y1="1824.3" x2="2080.1" y2="1824.3" stroke="#f28a8a" stroke-width="2" /><line x1="2066.1" y1="1896.3" x2="2080.1" y2="1896.3" stroke="#f28a8a" stroke-width="2" /><line x1="2205.5" y1="1772.2" x2="2205.5" y2="1856.2" stroke="#f28a8a" stroke-width="2" /><line x1="2198.5" y1="1772.2" x2="2212.5" y2="1772.2" stroke="#f28a8a" stroke-width="2" /><line x1="2198.5" y1="1856.2" x2="2212.5" y2="1856.2" stroke="#f28a8a" stroke-width="2" /><line x1="1558.8" y1="2231.7" x2="1576.5" y2="2231.7" stroke="#e66" stroke-width="2" stroke-dasharray="3 3"/><line x1="1558.8" y1="2239.7" x2="1576.5" y2="2239.7" stroke="#e66" stroke-width="2" stroke-dasharray="3 3"/><polyline points="1586.3,2230.5 1821.4,2046.7 1950.3,1950.9 2073.1,1860.3 2194.2,1818.5 1586.3,2234" fill="none" stroke="#0b0b0b" stroke-width="5.5" stroke-linejoin="round" stroke-linecap="round" /><rect x="1540.3" y="2227.2" width="17" height="17" fill="#c445a5" stroke="none" stroke-width="0" /><rect x="1576" y="2227.2" width="17" height="17" fill="#0b0b0b" stroke="none" stroke-width="0" /><rect x="1812.9" y="2038.2" width="17" height="17" fill="#f0202a" stroke="none" stroke-width="0" /><rect x="1941.8" y="1942.4" width="17" height="17" fill="#2bb34a" stroke="none" stroke-width="0" /><rect x="2064.6" y="1851.8" width="17" height="17" fill="#1c3f9e" stroke="none" stroke-width="0" /><rect x="2197" y="1805.7" width="17" height="17" fill="#2ab8cf" stroke="none" stroke-width="0" /><rect x="1468" y="1710" width="797" height="589" fill="none" stroke="#2a2a2a" stroke-width="2.2" /><line x1="1468" y1="1797" x2="1480" y2="1797" stroke="#2a2a2a" stroke-width="2.2" /><line x1="1468" y1="1964" x2="1480" y2="1964" stroke="#2a2a2a" stroke-width="2.2" /><line x1="1468" y1="2132" x2="1480" y2="2132" stroke="#2a2a2a" stroke-width="2.2" /><line x1="1468" y1="1880.5" x2="1474" y2="1880.5" stroke="#2a2a2a" stroke-width="2.2" /><line x1="1468" y1="2048" x2="1474" y2="2048" stroke="#2a2a2a" stroke-width="2.2" /><line x1="1468" y1="2215.5" x2="1474" y2="2215.5" stroke="#2a2a2a" stroke-width="2.2" /><line x1="1566" y1="2299" x2="1566" y2="2287" stroke="#2a2a2a" stroke-width="2.2" /><line x1="1766.5" y1="2299" x2="1766.5" y2="2287" stroke="#2a2a2a" stroke-width="2.2" /><line x1="1965" y1="2299" x2="1965" y2="2287" stroke="#2a2a2a" stroke-width="2.2" /><line x1="2165.5" y1="2299" x2="2165.5" y2="2287" stroke="#2a2a2a" stroke-width="2.2" /><line x1="1666.2" y1="2299" x2="1666.2" y2="2293" stroke="#2a2a2a" stroke-width="2.2" /><line x1="1865.8" y1="2299" x2="1865.8" y2="2293" stroke="#2a2a2a" stroke-width="2.2" /><line x1="2065.2" y1="2299" x2="2065.2" y2="2293" stroke="#2a2a2a" stroke-width="2.2" /><text x="1454" y="1807.5" font-family='"Liberation Sans", Arial, Helvetica, sans-serif' font-size="38" font-weight="bold" fill="#111" text-anchor="end" >0.9</text><text x="1454" y="1974.5" font-family='"Liberation Sans", Arial, Helvetica, sans-serif' font-size="38" font-weight="bold" fill="#111" text-anchor="end" >0.8</text><text x="1454" y="2142.5" font-family='"Liberation Sans", Arial, Helvetica, sans-serif' font-size="38" font-weight="bold" fill="#111" text-anchor="end" >0.7</text><text x="1454" y="2309.5" font-family='"Liberation Sans", Arial, Helvetica, sans-serif' font-size="38" font-weight="bold" fill="#111" text-anchor="end" >0.6</text><text x="1566" y="2343" font-family='"Liberation Sans", Arial, Helvetica, sans-serif' font-size="36.5" font-weight="bold" fill="#111" text-anchor="middle" >0</text><text x="1766.5" y="2343" font-family='"Liberation Sans", Arial, Helvetica, sans-serif' font-size="36.5" font-weight="bold" fill="#111" text-anchor="middle" >50</text><text x="1965" y="2343" font-family='"Liberation Sans", Arial, Helvetica, sans-serif' font-size="36.5" font-weight="bold" fill="#111" text-anchor="middle" >100</text><text x="2165.5" y="2343" font-family='"Liberation Sans", Arial, Helvetica, sans-serif' font-size="36.5" font-weight="bold" fill="#111" text-anchor="middle" >150</text><text x="1827" y="2408" font-family='"Liberation Sans", Arial, Helvetica, sans-serif' font-size="47.5" font-weight="bold" fill="#111" text-anchor="middle" >Pressure, P (kPa)</text><text x="1364" y="2010" font-family='"Liberation Sans", Arial, Helvetica, sans-serif' font-size="47.3" font-weight="bold" fill="#111" text-anchor="middle" transform="rotate(-90 1364 2010)" >Dirirac point, V<tspan font-size="46" dy="12">Dirac</tspan><tspan dy="-12"> (V)</tspan></text></g><g id="pf"><line x1="634.8" y1="2808.8" x2="634.8" y2="2844.8" stroke="#f28a8a" stroke-width="2" /><line x1="627.8" y1="2808.8" x2="641.8" y2="2808.8" stroke="#f28a8a" stroke-width="2" /><line x1="627.8" y1="2844.8" x2="641.8" y2="2844.8" stroke="#f28a8a" stroke-width="2" /><line x1="762.2" y1="2722.5" x2="762.2" y2="2756.5" stroke="#f28a8a" stroke-width="2" /><line x1="755.2" y1="2722.5" x2="769.2" y2="2722.5" stroke="#f28a8a" stroke-width="2" /><line x1="755.2" y1="2756.5" x2="769.2" y2="2756.5" stroke="#f28a8a" stroke-width="2" /><line x1="886.2" y1="2633.7" x2="886.2" y2="2677.7" stroke="#f28a8a" stroke-width="2" /><line x1="879.2" y1="2633.7" x2="893.2" y2="2633.7" stroke="#f28a8a" stroke-width="2" /><line x1="879.2" y1="2677.7" x2="893.2" y2="2677.7" stroke="#f28a8a" stroke-width="2" /><line x1="1017.2" y1="2586.8" x2="1017.2" y2="2640.8" stroke="#f28a8a" stroke-width="2" /><line x1="1010.2" y1="2586.8" x2="1024.2" y2="2586.8" stroke="#f28a8a" stroke-width="2" /><line x1="1010.2" y1="2640.8" x2="1024.2" y2="2640.8" stroke="#f28a8a" stroke-width="2" /><polyline points="378.1,2999.7 634.8,2826.8 762.2,2739.5 886.2,2655.7 1017.2,2613.8" fill="none" stroke="#0b0b0b" stroke-width="5.5" stroke-linejoin="round" stroke-linecap="round" /><rect x="371.1" y="2992.7" width="14" height="14" fill="#0b0b0b" stroke="none" stroke-width="0" /><rect x="626.3" y="2818.3" width="17" height="17" fill="#f0202a" stroke="none" stroke-width="0" /><rect x="753.7" y="2731" width="17" height="17" fill="#2bb34a" stroke="none" stroke-width="0" /><rect x="877.7" y="2647.2" width="17" height="17" fill="#1c3f9e" stroke="none" stroke-width="0" /><rect x="1008.7" y="2605.3" width="17" height="17" fill="#2ab8cf" stroke="none" stroke-width="0" /><rect x="279.4" y="2509.5" width="799.1" height="589" fill="none" stroke="#2a2a2a" stroke-width="2.2" /><line x1="279.4" y1="2606" x2="291.4" y2="2606" stroke="#2a2a2a" stroke-width="2.2" /><line x1="279.4" y1="2802" x2="291.4" y2="2802" stroke="#2a2a2a" stroke-width="2.2" /><line x1="279.4" y1="2999.6" x2="291.4" y2="2999.6" stroke="#2a2a2a" stroke-width="2.2" /><line x1="279.4" y1="2704" x2="285.4" y2="2704" stroke="#2a2a2a" stroke-width="2.2" /><line x1="279.4" y1="2900.8" x2="285.4" y2="2900.8" stroke="#2a2a2a" stroke-width="2.2" /><line x1="378" y1="3098.5" x2="378" y2="3086.5" stroke="#2a2a2a" stroke-width="2.2" /><line x1="578" y1="3098.5" x2="578" y2="3086.5" stroke="#2a2a2a" stroke-width="2.2" /><line x1="777" y1="3098.5" x2="777" y2="3086.5" stroke="#2a2a2a" stroke-width="2.2" /><line x1="978" y1="3098.5" x2="978" y2="3086.5" stroke="#2a2a2a" stroke-width="2.2" /><line x1="478" y1="3098.5" x2="478" y2="3092.5" stroke="#2a2a2a" stroke-width="2.2" /><line x1="677.5" y1="3098.5" x2="677.5" y2="3092.5" stroke="#2a2a2a" stroke-width="2.2" /><line x1="877.5" y1="3098.5" x2="877.5" y2="3092.5" stroke="#2a2a2a" stroke-width="2.2" /><text x="266" y="2619" font-family='"Liberation Sans", Arial, Helvetica, sans-serif' font-size="36.5" font-weight="bold" fill="#111" text-anchor="end" >40</text><text x="266" y="2815" font-family='"Liberation Sans", Arial, Helvetica, sans-serif' font-size="36.5" font-weight="bold" fill="#111" text-anchor="end" >20</text><text x="266" y="3012.6" font-family='"Liberation Sans", Arial, Helvetica, sans-serif' font-size="36.5" font-weight="bold" fill="#111" text-anchor="end" >0</text><text x="378" y="3143" font-family='"Liberation Sans", Arial, Helvetica, sans-serif' font-size="36.5" font-weight="bold" fill="#111" text-anchor="middle" >0</text><text x="578" y="3143" font-family='"Liberation Sans", Arial, Helvetica, sans-serif' font-size="36.5" font-weight="bold" fill="#111" text-anchor="middle" >50</text><text x="777" y="3143" font-family='"Liberation Sans", Arial, Helvetica, sans-serif' font-size="36.5" font-weight="bold" fill="#111" text-anchor="middle" >100</text><text x="978" y="3143" font-family='"Liberation Sans", Arial, Helvetica, sans-serif' font-size="36.5" font-weight="bold" fill="#111" text-anchor="middle" >150</text><text x="679" y="3213" font-family='"Liberation Sans", Arial, Helvetica, sans-serif' font-size="47.5" font-weight="bold" fill="#111" text-anchor="middle" >Pressure, P (kPa)</text><text x="183" y="2811" font-family='"Liberation Sans", Arial, Helvetica, sans-serif' font-size="48.5" font-weight="bold" fill="#111" text-anchor="middle" transform="rotate(-90 183 2811)" >ΔV<tspan font-size="47" dy="12">Dirac</tspan><tspan dy="-12">/V</tspan><tspan font-size="47" dy="12">Dirac,o</tspan><tspan dy="-12"> (%)</tspan></text></g><g id="pg"><line x1="1614.2" y1="2954.3" x2="1614.2" y2="3028.3" stroke="#f28a8a" stroke-width="2" /><line x1="1607.2" y1="2954.3" x2="1621.2" y2="2954.3" stroke="#f28a8a" stroke-width="2" /><line x1="1607.2" y1="3028.3" x2="1621.2" y2="3028.3" stroke="#f28a8a" stroke-width="2" /><line x1="1811" y1="2799" x2="1811" y2="2877" stroke="#f28a8a" stroke-width="2" /><line x1="1804" y1="2799" x2="1818" y2="2799" stroke="#f28a8a" stroke-width="2" /><line x1="1804" y1="2877" x2="1818" y2="2877" stroke="#f28a8a" stroke-width="2" /><line x1="2001.7" y1="2647.4" x2="2001.7" y2="2739.4" stroke="#f28a8a" stroke-width="2" /><line x1="1994.7" y1="2647.4" x2="2008.7" y2="2647.4" stroke="#f28a8a" stroke-width="2" /><line x1="1994.7" y1="2739.4" x2="2008.7" y2="2739.4" stroke="#f28a8a" stroke-width="2" /><line x1="2203.8" y1="2561.5" x2="2203.8" y2="2675.5" stroke="#f28a8a" stroke-width="2" /><line x1="2196.8" y1="2561.5" x2="2210.8" y2="2561.5" stroke="#f28a8a" stroke-width="2" /><line x1="2196.8" y1="2675.5" x2="2210.8" y2="2675.5" stroke="#f28a8a" stroke-width="2" /><polyline points="1614.2,2991.3 1811,2838 2001.7,2693.4 2203.8,2618.5" fill="none" stroke="#0b0b0b" stroke-width="5.5" stroke-linejoin="round" stroke-linecap="round" /><rect x="1605.7" y="2982.8" width="17" height="17" fill="#f0202a" stroke="none" stroke-width="0" /><rect x="1802.5" y="2829.5" width="17" height="17" fill="#2bb34a" stroke="none" stroke-width="0" /><rect x="1993.2" y="2684.9" width="17" height="17" fill="#1c3f9e" stroke="none" stroke-width="0" /><rect x="2195.3" y="2610" width="17" height="17" fill="#2ab8cf" stroke="none" stroke-width="0" /><rect x="1466" y="2507" width="799" height="588" fill="none" stroke="#2a2a2a" stroke-width="2.2" /><line x1="1466" y1="2703" x2="1478" y2="2703" stroke="#2a2a2a" stroke-width="2.2" /><line x1="1466" y1="2898" x2="1478" y2="2898" stroke="#2a2a2a" stroke-width="2.2" /><line x1="1466" y1="2605" x2="1472" y2="2605" stroke="#2a2a2a" stroke-width="2.2" /><line x1="1466" y1="2800.5" x2="1472" y2="2800.5" stroke="#2a2a2a" stroke-width="2.2" /><line x1="1466" y1="2996.5" x2="1472" y2="2996.5" stroke="#2a2a2a" stroke-width="2.2" /><line x1="1712" y1="3095" x2="1712" y2="3083" stroke="#2a2a2a" stroke-width="2.2" /><line x1="1958" y1="3095" x2="1958" y2="3083" stroke="#2a2a2a" stroke-width="2.2" /><line x1="2204.6" y1="3095" x2="2204.6" y2="3083" stroke="#2a2a2a" stroke-width="2.2" /><line x1="1589" y1="3095" x2="1589" y2="3089" stroke="#2a2a2a" stroke-width="2.2" /><line x1="1835" y1="3095" x2="1835" y2="3089" stroke="#2a2a2a" stroke-width="2.2" /><line x1="2081.3" y1="3095" x2="2081.3" y2="3089" stroke="#2a2a2a" stroke-width="2.2" /><text x="1459" y="2520" font-family='"Liberation Sans", Arial, Helvetica, sans-serif' font-size="36.5" font-weight="bold" fill="#111" text-anchor="end" >8.0x10<tspan font-size="23" dy="-15">10</tspan></text><text x="1459" y="2716" font-family='"Liberation Sans", Arial, Helvetica, sans-serif' font-size="36.5" font-weight="bold" fill="#111" text-anchor="end" >6.0x10<tspan font-size="23" dy="-15">10</tspan></text><text x="1459" y="2911" font-family='"Liberation Sans", Arial, Helvetica, sans-serif' font-size="36.5" font-weight="bold" fill="#111" text-anchor="end" >4.0x10<tspan font-size="23" dy="-15">10</tspan></text><text x="1459" y="3108" font-family='"Liberation Sans", Arial, Helvetica, sans-serif' font-size="36.5" font-weight="bold" fill="#111" text-anchor="end" >2.0x10<tspan font-size="23" dy="-15">10</tspan></text><text x="1466" y="3141" font-family='"Liberation Sans", Arial, Helvetica, sans-serif' font-size="36.5" font-weight="bold" fill="#111" text-anchor="middle" >40</text><text x="1712" y="3141" font-family='"Liberation Sans", Arial, Helvetica, sans-serif' font-size="36.5" font-weight="bold" fill="#111" text-anchor="middle" >80</text><text x="1958" y="3141" font-family='"Liberation Sans", Arial, Helvetica, sans-serif' font-size="36.5" font-weight="bold" fill="#111" text-anchor="middle" >120</text><text x="2204.6" y="3141" font-family='"Liberation Sans", Arial, Helvetica, sans-serif' font-size="36.5" font-weight="bold" fill="#111" text-anchor="middle" >160</text><text x="1867" y="3197" font-family='"Liberation Sans", Arial, Helvetica, sans-serif' font-size="47.5" font-weight="bold" fill="#111" text-anchor="middle" >Pressure, P (kPa)</text><text x="1306" y="2811" font-family='"Liberation Sans", Arial, Helvetica, sans-serif' font-size="46.7" font-weight="bold" fill="#111" text-anchor="middle" transform="rotate(-90 1306 2811)" >Concentration, Δn (cm<tspan font-size="26" dy="-16">-2</tspan><tspan dy="16">)</tspan></text></g>
<g id="ph"><defs>
<radialGradient id="hole" cx="0.38" cy="0.36" r="0.75"><stop offset="0" stop-color="#5e5f60"/><stop offset="0.55" stop-color="#808182"/><stop offset="1" stop-color="#c9c9c9"/></radialGradient>
<radialGradient id="holeR" cx="0.4" cy="0.4" r="0.7"><stop offset="0" stop-color="#8a8b8c"/><stop offset="1" stop-color="#cfcfcf"/></radialGradient>
<radialGradient id="holeT" cx="0.5" cy="0.6" r="0.7"><stop offset="0" stop-color="#b4b4b4"/><stop offset="1" stop-color="#e6e6e6"/></radialGradient>
<linearGradient id="barr" x1="0" y1="0" x2="0" y2="1"><stop offset="0" stop-color="#5a9bd6"/><stop offset="0.5" stop-color="#2f79bf"/><stop offset="1" stop-color="#175a9c"/></linearGradient>
<linearGradient id="parr" x1="0" y1="0" x2="0" y2="1"><stop offset="0" stop-color="#dbe3f1"/><stop offset="0.45" stop-color="#8ea6cf"/><stop offset="1" stop-color="#16367c"/></linearGradient>
<radialGradient id="bump" cx="0.4" cy="0.35" r="0.7"><stop offset="0" stop-color="#4a4d4e"/><stop offset="0.6" stop-color="#2b2d2e"/><stop offset="1" stop-color="#1a1b1c"/></radialGradient>
<radialGradient id="bumpR" cx="0.4" cy="0.35" r="0.7"><stop offset="0" stop-color="#585b5c"/><stop offset="0.6" stop-color="#383a3b"/><stop offset="1" stop-color="#232425"/></radialGradient>
<filter id="soft" x="-5%" y="-5%" width="110%" height="110%"><feGaussianBlur stdDeviation="0.8"/></filter>
</defs><rect x="315" y="3258" width="239.5" height="245" fill="#d3d3d3" stroke="#8c8c8c" stroke-width="2" /><circle cx="383" cy="3320" r="59" fill="#fff"/><circle cx="489.6" cy="3374.5" r="58" fill="#fff"/><circle cx="387" cy="3441" r="58" fill="#fff"/><text x="166" y="3343" font-family='"Liberation Sans", Arial, Helvetica, sans-serif' font-size="43" font-weight="normal" fill="#111" text-anchor="start" >Porous</text><text x="166" y="3397" font-family='"Liberation Sans", Arial, Helvetica, sans-serif' font-size="43" font-weight="normal" fill="#111" text-anchor="start" >Latex</text><text x="166" y="3450.5" font-family='"Liberation Sans", Arial, Helvetica, sans-serif' font-size="43" font-weight="normal" fill="#111" text-anchor="start" >rubber</text><line x1="295" y1="3392.5" x2="328" y2="3380" stroke="#111" stroke-width="1.8" /><polygon points="342,3374.5 322,3371 330,3390" fill="#111" stroke="none" stroke-width="0" /><rect x="889.6" y="3258" width="241" height="245" fill="#d3d3d3" stroke="#8c8c8c" stroke-width="2" /><circle cx="958" cy="3317.6" r="57" fill="#fff" stroke="#3f3f3f" stroke-width="5.6"/><circle cx="1067" cy="3376.7" r="57.3" fill="#fff" stroke="#3f3f3f" stroke-width="5.6"/><circle cx="962.6" cy="3441" r="57.3" fill="#fff" stroke="#3f3f3f" stroke-width="5.6"/><text x="764" y="3368" font-family='"Liberation Sans", Arial, Helvetica, sans-serif' font-size="43" font-weight="normal" fill="#111" text-anchor="middle" >Conductive</text><text x="764" y="3419" font-family='"Liberation Sans", Arial, Helvetica, sans-serif' font-size="43" font-weight="normal" fill="#111" text-anchor="middle" >layer</text><line x1="855" y1="3386.6" x2="900" y2="3363" stroke="#111" stroke-width="1.8" /><polygon points="913,3356.6 894,3356 903,3373" fill="#111" stroke="none" stroke-width="0" /><rect x="1481.5" y="3259.4" width="238.8" height="244.2" fill="#d3d3d3" stroke="#8c8c8c" stroke-width="2" /><circle cx="1548.4" cy="3317.3" r="56.5" fill="#fff" stroke="#333" stroke-width="5.6"/><circle cx="1657.6" cy="3376.4" r="56" fill="#fff" stroke="#333" stroke-width="5.6"/><circle cx="1552" cy="3442" r="56" fill="#fff" stroke="#333" stroke-width="5.6"/><path d="M1588.4 3277.3 A56.5 56.5 0 0 1 1598.3 3343.8" fill="none" stroke="#e8121a" stroke-width="6" stroke-linecap="round"/><polygon points="1589.8,3355.1 1593.4,3335.2 1605.2,3342" fill="#e8121a" stroke="none" stroke-width="0" /><path d="M1606.8 3352.7 A56.0 56.0 0 0 0 1610.1 3406.1" fill="none" stroke="#e8121a" stroke-width="6" stroke-linecap="round"/><polygon points="1614.6,3418.3 1601.7,3402.7 1614.4,3398.1" fill="#e8121a" stroke="none" stroke-width="0" /><path d="M1596.1 3407.5 A56.0 56.0 0 0 1 1600.5 3470.0" fill="none" stroke="#e8121a" stroke-width="6" stroke-linecap="round"/><polygon points="1591,3480.6 1596.4,3461.1 1607.5,3468.9" fill="#e8121a" stroke="none" stroke-width="0" /><text x="1567" y="3349" font-family='"Liberation Sans", Arial, Helvetica, sans-serif' font-size="29" font-weight="normal" fill="#e8121a" text-anchor="middle" >e<tspan font-size="17" dy="-11">-</tspan></text><text x="1636" y="3474" font-family='"Liberation Sans", Arial, Helvetica, sans-serif' font-size="29" font-weight="normal" fill="#e8121a" text-anchor="middle" >e<tspan font-size="17" dy="-11">-</tspan></text><rect x="1918.5" y="3400.3" width="238.8" height="101.5" fill="#d3d3d3" stroke="#8c8c8c" stroke-width="2" /><ellipse cx="1986.6" cy="3424.8" rx="57.5" ry="21" fill="#fff" stroke="#333" stroke-width="5.4"/><ellipse cx="2094" cy="3449" rx="57" ry="24" fill="#fff" stroke="#333" stroke-width="5.4"/><ellipse cx="1990.7" cy="3476" rx="57" ry="21" fill="#fff" stroke="#333" stroke-width="5.4"/><path d="M2022 3408 Q2040 3416 2040 3432 Q2030 3446 2042 3458 Q2052 3470 2046 3486" fill="none" stroke="#e8121a" stroke-width="6" stroke-linecap="round"/><polygon points="2039.2,3446.3 2039.4,3429.2 2050.2,3433.1" fill="#e8121a" stroke="none" stroke-width="0" /><polygon points="2029.7,3448.2 2046.8,3448.4 2042.9,3459.2" fill="#e8121a" stroke="none" stroke-width="0" /><polygon points="2045.1,3498.8 2042.2,3482 2053.5,3483.9" fill="#e8121a" stroke="none" stroke-width="0" /><text x="2062" y="3424" font-family='"Liberation Sans", Arial, Helvetica, sans-serif' font-size="29" font-weight="normal" fill="#e8121a" text-anchor="middle" >e<tspan font-size="17" dy="-11">-</tspan></text><text x="2071" y="3460" font-family='"Liberation Sans", Arial, Helvetica, sans-serif' font-size="29" font-weight="normal" fill="#e8121a" text-anchor="middle" >e<tspan font-size="17" dy="-11">-</tspan></text><text x="2016" y="3481" font-family='"Liberation Sans", Arial, Helvetica, sans-serif' font-size="29" font-weight="normal" fill="#e8121a" text-anchor="middle" >e<tspan font-size="17" dy="-11">-</tspan></text><g id="wcube"><clipPath id="cwf"><polygon points="274.8,3573.7 516.6,3625.0 498.7,3851.4 292.7,3779.7"/></clipPath><clipPath id="cwt"><polygon points="395.7,3526.7 588.0,3553.6 516.6,3625.0 274.8,3573.7"/></clipPath><clipPath id="cwr"><polygon points="516.6,3625.0 588.0,3553.6 577.0,3748.0 498.7,3851.4"/></clipPath><polygon points="274.8,3573.7 516.6,3625 498.7,3851.4 292.7,3779.7" fill="#d9d9d9" stroke="none" stroke-width="0" /><polygon points="395.7,3526.7 588,3553.6 516.6,3625 274.8,3573.7" fill="#ededed" stroke="none" stroke-width="0" /><polygon points="516.6,3625 588,3553.6 577,3748 498.7,3851.4" fill="#e6e6e6" stroke="none" stroke-width="0" /><g clip-path="url(#cwf)"><ellipse cx="296.0" cy="3592.8" rx="13.8" ry="12.6" fill="url(#hole)" transform="rotate(12 296.0 3592.8)"/><ellipse cx="335.9" cy="3601.6" rx="13.8" ry="12.6" fill="url(#hole)" transform="rotate(12 335.9 3601.6)"/><ellipse cx="375.8" cy="3610.4" rx="13.8" ry="12.6" fill="url(#hole)" transform="rotate(12 375.8 3610.4)"/><ellipse cx="415.6" cy="3619.2" rx="13.8" ry="12.6" fill="url(#hole)" transform="rotate(12 415.6 3619.2)"/><ellipse cx="455.5" cy="3628.0" rx="13.8" ry="12.6" fill="url(#hole)" transform="rotate(12 455.5 3628.0)"/><ellipse cx="495.4" cy="3636.8" rx="13.8" ry="12.6" fill="url(#hole)" transform="rotate(12 495.4 3636.8)"/><ellipse cx="298.1" cy="3622.5" rx="13.8" ry="12.6" fill="url(#hole)" transform="rotate(12 298.1 3622.5)"/><ellipse cx="337.2" cy="3631.8" rx="13.8" ry="12.6" fill="url(#hole)" transform="rotate(12 337.2 3631.8)"/><ellipse cx="376.2" cy="3641.0" rx="13.8" ry="12.6" fill="url(#hole)" transform="rotate(12 376.2 3641.0)"/><ellipse cx="415.2" cy="3650.3" rx="13.8" ry="12.6" fill="url(#hole)" transform="rotate(12 415.2 3650.3)"/><ellipse cx="454.2" cy="3659.6" rx="13.8" ry="12.6" fill="url(#hole)" transform="rotate(12 454.2 3659.6)"/><ellipse cx="493.3" cy="3668.9" rx="13.8" ry="12.6" fill="url(#hole)" transform="rotate(12 493.3 3668.9)"/><ellipse cx="300.3" cy="3652.2" rx="13.8" ry="12.6" fill="url(#hole)" transform="rotate(12 300.3 3652.2)"/><ellipse cx="338.4" cy="3661.9" rx="13.8" ry="12.6" fill="url(#hole)" transform="rotate(12 338.4 3661.9)"/><ellipse cx="376.6" cy="3671.7" rx="13.8" ry="12.6" fill="url(#hole)" transform="rotate(12 376.6 3671.7)"/><ellipse cx="414.8" cy="3681.4" rx="13.8" ry="12.6" fill="url(#hole)" transform="rotate(12 414.8 3681.4)"/><ellipse cx="453.0" cy="3691.2" rx="13.8" ry="12.6" fill="url(#hole)" transform="rotate(12 453.0 3691.2)"/><ellipse cx="491.1" cy="3701.0" rx="13.8" ry="12.6" fill="url(#hole)" transform="rotate(12 491.1 3701.0)"/><ellipse cx="302.4" cy="3681.8" rx="13.8" ry="12.6" fill="url(#hole)" transform="rotate(12 302.4 3681.8)"/><ellipse cx="339.7" cy="3692.1" rx="13.8" ry="12.6" fill="url(#hole)" transform="rotate(12 339.7 3692.1)"/><ellipse cx="377.0" cy="3702.3" rx="13.8" ry="12.6" fill="url(#hole)" transform="rotate(12 377.0 3702.3)"/><ellipse cx="414.4" cy="3712.6" rx="13.8" ry="12.6" fill="url(#hole)" transform="rotate(12 414.4 3712.6)"/><ellipse cx="451.7" cy="3722.8" rx="13.8" ry="12.6" fill="url(#hole)" transform="rotate(12 451.7 3722.8)"/><ellipse cx="489.0" cy="3733.1" rx="13.8" ry="12.6" fill="url(#hole)" transform="rotate(12 489.0 3733.1)"/><ellipse cx="304.5" cy="3711.5" rx="13.8" ry="12.6" fill="url(#hole)" transform="rotate(12 304.5 3711.5)"/><ellipse cx="341.0" cy="3722.2" rx="13.8" ry="12.6" fill="url(#hole)" transform="rotate(12 341.0 3722.2)"/><ellipse cx="377.5" cy="3733.0" rx="13.8" ry="12.6" fill="url(#hole)" transform="rotate(12 377.5 3733.0)"/><ellipse cx="413.9" cy="3743.7" rx="13.8" ry="12.6" fill="url(#hole)" transform="rotate(12 413.9 3743.7)"/><ellipse cx="450.4" cy="3754.4" rx="13.8" ry="12.6" fill="url(#hole)" transform="rotate(12 450.4 3754.4)"/><ellipse cx="486.9" cy="3765.2" rx="13.8" ry="12.6" fill="url(#hole)" transform="rotate(12 486.9 3765.2)"/><ellipse cx="306.7" cy="3741.2" rx="13.8" ry="12.6" fill="url(#hole)" transform="rotate(12 306.7 3741.2)"/><ellipse cx="342.3" cy="3752.4" rx="13.8" ry="12.6" fill="url(#hole)" transform="rotate(12 342.3 3752.4)"/><ellipse cx="377.9" cy="3763.6" rx="13.8" ry="12.6" fill="url(#hole)" transform="rotate(12 377.9 3763.6)"/><ellipse cx="413.5" cy="3774.8" rx="13.8" ry="12.6" fill="url(#hole)" transform="rotate(12 413.5 3774.8)"/><ellipse cx="449.1" cy="3786.1" rx="13.8" ry="12.6" fill="url(#hole)" transform="rotate(12 449.1 3786.1)"/><ellipse cx="484.7" cy="3797.3" rx="13.8" ry="12.6" fill="url(#hole)" transform="rotate(12 484.7 3797.3)"/><ellipse cx="308.8" cy="3770.8" rx="13.8" ry="12.6" fill="url(#hole)" transform="rotate(12 308.8 3770.8)"/><ellipse cx="343.6" cy="3782.5" rx="13.8" ry="12.6" fill="url(#hole)" transform="rotate(12 343.6 3782.5)"/><ellipse cx="378.3" cy="3794.3" rx="13.8" ry="12.6" fill="url(#hole)" transform="rotate(12 378.3 3794.3)"/><ellipse cx="413.1" cy="3806.0" rx="13.8" ry="12.6" fill="url(#hole)" transform="rotate(12 413.1 3806.0)"/><ellipse cx="447.8" cy="3817.7" rx="13.8" ry="12.6" fill="url(#hole)" transform="rotate(12 447.8 3817.7)"/><ellipse cx="482.6" cy="3829.4" rx="13.8" ry="12.6" fill="url(#hole)" transform="rotate(12 482.6 3829.4)"/><ellipse cx="274.8" cy="3573.7" rx="11.2" ry="10.2" fill="url(#hole)" transform="rotate(12 274.8 3573.7)"/><ellipse cx="315.1" cy="3582.2" rx="11.2" ry="10.2" fill="url(#hole)" transform="rotate(12 315.1 3582.2)"/><ellipse cx="355.4" cy="3590.8" rx="11.2" ry="10.2" fill="url(#hole)" transform="rotate(12 355.4 3590.8)"/><ellipse cx="395.7" cy="3599.3" rx="11.2" ry="10.2" fill="url(#hole)" transform="rotate(12 395.7 3599.3)"/><ellipse cx="436.0" cy="3607.9" rx="11.2" ry="10.2" fill="url(#hole)" transform="rotate(12 436.0 3607.9)"/><ellipse cx="476.3" cy="3616.4" rx="11.2" ry="10.2" fill="url(#hole)" transform="rotate(12 476.3 3616.4)"/><ellipse cx="516.6" cy="3625.0" rx="11.2" ry="10.2" fill="url(#hole)" transform="rotate(12 516.6 3625.0)"/><ellipse cx="277.4" cy="3603.1" rx="11.2" ry="10.2" fill="url(#hole)" transform="rotate(12 277.4 3603.1)"/><ellipse cx="316.8" cy="3612.2" rx="11.2" ry="10.2" fill="url(#hole)" transform="rotate(12 316.8 3612.2)"/><ellipse cx="356.3" cy="3621.2" rx="11.2" ry="10.2" fill="url(#hole)" transform="rotate(12 356.3 3621.2)"/><ellipse cx="395.7" cy="3630.2" rx="11.2" ry="10.2" fill="url(#hole)" transform="rotate(12 395.7 3630.2)"/><ellipse cx="435.1" cy="3639.3" rx="11.2" ry="10.2" fill="url(#hole)" transform="rotate(12 435.1 3639.3)"/><ellipse cx="474.6" cy="3648.3" rx="11.2" ry="10.2" fill="url(#hole)" transform="rotate(12 474.6 3648.3)"/><ellipse cx="514.0" cy="3657.3" rx="11.2" ry="10.2" fill="url(#hole)" transform="rotate(12 514.0 3657.3)"/><ellipse cx="279.9" cy="3632.6" rx="11.2" ry="10.2" fill="url(#hole)" transform="rotate(12 279.9 3632.6)"/><ellipse cx="318.5" cy="3642.1" rx="11.2" ry="10.2" fill="url(#hole)" transform="rotate(12 318.5 3642.1)"/><ellipse cx="357.1" cy="3651.6" rx="11.2" ry="10.2" fill="url(#hole)" transform="rotate(12 357.1 3651.6)"/><ellipse cx="395.7" cy="3661.1" rx="11.2" ry="10.2" fill="url(#hole)" transform="rotate(12 395.7 3661.1)"/><ellipse cx="434.3" cy="3670.6" rx="11.2" ry="10.2" fill="url(#hole)" transform="rotate(12 434.3 3670.6)"/><ellipse cx="472.9" cy="3680.2" rx="11.2" ry="10.2" fill="url(#hole)" transform="rotate(12 472.9 3680.2)"/><ellipse cx="511.5" cy="3689.7" rx="11.2" ry="10.2" fill="url(#hole)" transform="rotate(12 511.5 3689.7)"/><ellipse cx="282.5" cy="3662.0" rx="11.2" ry="10.2" fill="url(#hole)" transform="rotate(12 282.5 3662.0)"/><ellipse cx="320.2" cy="3672.0" rx="11.2" ry="10.2" fill="url(#hole)" transform="rotate(12 320.2 3672.0)"/><ellipse cx="358.0" cy="3682.0" rx="11.2" ry="10.2" fill="url(#hole)" transform="rotate(12 358.0 3682.0)"/><ellipse cx="395.7" cy="3692.0" rx="11.2" ry="10.2" fill="url(#hole)" transform="rotate(12 395.7 3692.0)"/><ellipse cx="433.4" cy="3702.0" rx="11.2" ry="10.2" fill="url(#hole)" transform="rotate(12 433.4 3702.0)"/><ellipse cx="471.2" cy="3712.0" rx="11.2" ry="10.2" fill="url(#hole)" transform="rotate(12 471.2 3712.0)"/><ellipse cx="508.9" cy="3722.0" rx="11.2" ry="10.2" fill="url(#hole)" transform="rotate(12 508.9 3722.0)"/><ellipse cx="285.0" cy="3691.4" rx="11.2" ry="10.2" fill="url(#hole)" transform="rotate(12 285.0 3691.4)"/><ellipse cx="321.9" cy="3701.9" rx="11.2" ry="10.2" fill="url(#hole)" transform="rotate(12 321.9 3701.9)"/><ellipse cx="358.8" cy="3712.4" rx="11.2" ry="10.2" fill="url(#hole)" transform="rotate(12 358.8 3712.4)"/><ellipse cx="395.7" cy="3722.9" rx="11.2" ry="10.2" fill="url(#hole)" transform="rotate(12 395.7 3722.9)"/><ellipse cx="432.6" cy="3733.4" rx="11.2" ry="10.2" fill="url(#hole)" transform="rotate(12 432.6 3733.4)"/><ellipse cx="469.5" cy="3743.9" rx="11.2" ry="10.2" fill="url(#hole)" transform="rotate(12 469.5 3743.9)"/><ellipse cx="506.4" cy="3754.4" rx="11.2" ry="10.2" fill="url(#hole)" transform="rotate(12 506.4 3754.4)"/><ellipse cx="287.6" cy="3720.8" rx="11.2" ry="10.2" fill="url(#hole)" transform="rotate(12 287.6 3720.8)"/><ellipse cx="323.6" cy="3731.8" rx="11.2" ry="10.2" fill="url(#hole)" transform="rotate(12 323.6 3731.8)"/><ellipse cx="359.7" cy="3742.8" rx="11.2" ry="10.2" fill="url(#hole)" transform="rotate(12 359.7 3742.8)"/><ellipse cx="395.7" cy="3753.8" rx="11.2" ry="10.2" fill="url(#hole)" transform="rotate(12 395.7 3753.8)"/><ellipse cx="431.7" cy="3764.8" rx="11.2" ry="10.2" fill="url(#hole)" transform="rotate(12 431.7 3764.8)"/><ellipse cx="467.8" cy="3775.7" rx="11.2" ry="10.2" fill="url(#hole)" transform="rotate(12 467.8 3775.7)"/><ellipse cx="503.8" cy="3786.7" rx="11.2" ry="10.2" fill="url(#hole)" transform="rotate(12 503.8 3786.7)"/><ellipse cx="290.1" cy="3750.3" rx="11.2" ry="10.2" fill="url(#hole)" transform="rotate(12 290.1 3750.3)"/><ellipse cx="325.3" cy="3761.7" rx="11.2" ry="10.2" fill="url(#hole)" transform="rotate(12 325.3 3761.7)"/><ellipse cx="360.5" cy="3773.2" rx="11.2" ry="10.2" fill="url(#hole)" transform="rotate(12 360.5 3773.2)"/><ellipse cx="395.7" cy="3784.7" rx="11.2" ry="10.2" fill="url(#hole)" transform="rotate(12 395.7 3784.7)"/><ellipse cx="430.9" cy="3796.1" rx="11.2" ry="10.2" fill="url(#hole)" transform="rotate(12 430.9 3796.1)"/><ellipse cx="466.1" cy="3807.6" rx="11.2" ry="10.2" fill="url(#hole)" transform="rotate(12 466.1 3807.6)"/><ellipse cx="501.3" cy="3819.1" rx="11.2" ry="10.2" fill="url(#hole)" transform="rotate(12 501.3 3819.1)"/><ellipse cx="292.7" cy="3779.7" rx="11.2" ry="10.2" fill="url(#hole)" transform="rotate(12 292.7 3779.7)"/><ellipse cx="327.0" cy="3791.7" rx="11.2" ry="10.2" fill="url(#hole)" transform="rotate(12 327.0 3791.7)"/><ellipse cx="361.4" cy="3803.6" rx="11.2" ry="10.2" fill="url(#hole)" transform="rotate(12 361.4 3803.6)"/><ellipse cx="395.7" cy="3815.6" rx="11.2" ry="10.2" fill="url(#hole)" transform="rotate(12 395.7 3815.6)"/><ellipse cx="430.0" cy="3827.5" rx="11.2" ry="10.2" fill="url(#hole)" transform="rotate(12 430.0 3827.5)"/><ellipse cx="464.4" cy="3839.4" rx="11.2" ry="10.2" fill="url(#hole)" transform="rotate(12 464.4 3839.4)"/><ellipse cx="498.7" cy="3851.4" rx="11.2" ry="10.2" fill="url(#hole)" transform="rotate(12 498.7 3851.4)"/></g><g clip-path="url(#cwt)"><ellipse cx="401.1" cy="3532.1" rx="10.0" ry="4.2" fill="url(#holeT)" transform="rotate(-4 401.1 3532.1)"/><ellipse cx="429.0" cy="3536.2" rx="10.0" ry="4.2" fill="url(#holeT)" transform="rotate(-4 429.0 3536.2)"/><ellipse cx="457.0" cy="3540.3" rx="10.0" ry="4.2" fill="url(#holeT)" transform="rotate(-4 457.0 3540.3)"/><ellipse cx="485.0" cy="3544.4" rx="10.0" ry="4.2" fill="url(#holeT)" transform="rotate(-4 485.0 3544.4)"/><ellipse cx="513.0" cy="3548.5" rx="10.0" ry="4.2" fill="url(#holeT)" transform="rotate(-4 513.0 3548.5)"/><ellipse cx="540.9" cy="3552.6" rx="10.0" ry="4.2" fill="url(#holeT)" transform="rotate(-4 540.9 3552.6)"/><ellipse cx="568.9" cy="3556.7" rx="10.0" ry="4.2" fill="url(#holeT)" transform="rotate(-4 568.9 3556.7)"/><ellipse cx="384.3" cy="3539.1" rx="10.0" ry="4.2" fill="url(#holeT)" transform="rotate(-4 384.3 3539.1)"/><ellipse cx="413.3" cy="3543.7" rx="10.0" ry="4.2" fill="url(#holeT)" transform="rotate(-4 413.3 3543.7)"/><ellipse cx="442.3" cy="3548.2" rx="10.0" ry="4.2" fill="url(#holeT)" transform="rotate(-4 442.3 3548.2)"/><ellipse cx="471.2" cy="3552.8" rx="10.0" ry="4.2" fill="url(#holeT)" transform="rotate(-4 471.2 3552.8)"/><ellipse cx="500.2" cy="3557.4" rx="10.0" ry="4.2" fill="url(#holeT)" transform="rotate(-4 500.2 3557.4)"/><ellipse cx="529.2" cy="3562.0" rx="10.0" ry="4.2" fill="url(#holeT)" transform="rotate(-4 529.2 3562.0)"/><ellipse cx="558.2" cy="3566.6" rx="10.0" ry="4.2" fill="url(#holeT)" transform="rotate(-4 558.2 3566.6)"/><ellipse cx="367.5" cy="3546.0" rx="10.0" ry="4.2" fill="url(#holeT)" transform="rotate(-4 367.5 3546.0)"/><ellipse cx="397.5" cy="3551.1" rx="10.0" ry="4.2" fill="url(#holeT)" transform="rotate(-4 397.5 3551.1)"/><ellipse cx="427.5" cy="3556.2" rx="10.0" ry="4.2" fill="url(#holeT)" transform="rotate(-4 427.5 3556.2)"/><ellipse cx="457.5" cy="3561.3" rx="10.0" ry="4.2" fill="url(#holeT)" transform="rotate(-4 457.5 3561.3)"/><ellipse cx="487.5" cy="3566.4" rx="10.0" ry="4.2" fill="url(#holeT)" transform="rotate(-4 487.5 3566.4)"/><ellipse cx="517.5" cy="3571.5" rx="10.0" ry="4.2" fill="url(#holeT)" transform="rotate(-4 517.5 3571.5)"/><ellipse cx="547.5" cy="3576.6" rx="10.0" ry="4.2" fill="url(#holeT)" transform="rotate(-4 547.5 3576.6)"/><ellipse cx="350.8" cy="3553.0" rx="10.0" ry="4.2" fill="url(#holeT)" transform="rotate(-4 350.8 3553.0)"/><ellipse cx="381.8" cy="3558.6" rx="10.0" ry="4.2" fill="url(#holeT)" transform="rotate(-4 381.8 3558.6)"/><ellipse cx="412.8" cy="3564.2" rx="10.0" ry="4.2" fill="url(#holeT)" transform="rotate(-4 412.8 3564.2)"/><ellipse cx="443.8" cy="3569.8" rx="10.0" ry="4.2" fill="url(#holeT)" transform="rotate(-4 443.8 3569.8)"/><ellipse cx="474.8" cy="3575.3" rx="10.0" ry="4.2" fill="url(#holeT)" transform="rotate(-4 474.8 3575.3)"/><ellipse cx="505.8" cy="3580.9" rx="10.0" ry="4.2" fill="url(#holeT)" transform="rotate(-4 505.8 3580.9)"/><ellipse cx="536.8" cy="3586.5" rx="10.0" ry="4.2" fill="url(#holeT)" transform="rotate(-4 536.8 3586.5)"/><ellipse cx="334.0" cy="3560.0" rx="10.0" ry="4.2" fill="url(#holeT)" transform="rotate(-4 334.0 3560.0)"/><ellipse cx="366.0" cy="3566.0" rx="10.0" ry="4.2" fill="url(#holeT)" transform="rotate(-4 366.0 3566.0)"/><ellipse cx="398.0" cy="3572.1" rx="10.0" ry="4.2" fill="url(#holeT)" transform="rotate(-4 398.0 3572.1)"/><ellipse cx="430.0" cy="3578.2" rx="10.0" ry="4.2" fill="url(#holeT)" transform="rotate(-4 430.0 3578.2)"/><ellipse cx="462.1" cy="3584.3" rx="10.0" ry="4.2" fill="url(#holeT)" transform="rotate(-4 462.1 3584.3)"/><ellipse cx="494.1" cy="3590.4" rx="10.0" ry="4.2" fill="url(#holeT)" transform="rotate(-4 494.1 3590.4)"/><ellipse cx="526.1" cy="3596.5" rx="10.0" ry="4.2" fill="url(#holeT)" transform="rotate(-4 526.1 3596.5)"/><ellipse cx="317.2" cy="3566.9" rx="10.0" ry="4.2" fill="url(#holeT)" transform="rotate(-4 317.2 3566.9)"/><ellipse cx="350.2" cy="3573.5" rx="10.0" ry="4.2" fill="url(#holeT)" transform="rotate(-4 350.2 3573.5)"/><ellipse cx="383.3" cy="3580.1" rx="10.0" ry="4.2" fill="url(#holeT)" transform="rotate(-4 383.3 3580.1)"/><ellipse cx="416.3" cy="3586.7" rx="10.0" ry="4.2" fill="url(#holeT)" transform="rotate(-4 416.3 3586.7)"/><ellipse cx="449.3" cy="3593.2" rx="10.0" ry="4.2" fill="url(#holeT)" transform="rotate(-4 449.3 3593.2)"/><ellipse cx="482.4" cy="3599.8" rx="10.0" ry="4.2" fill="url(#holeT)" transform="rotate(-4 482.4 3599.8)"/><ellipse cx="515.4" cy="3606.4" rx="10.0" ry="4.2" fill="url(#holeT)" transform="rotate(-4 515.4 3606.4)"/><ellipse cx="300.5" cy="3573.9" rx="10.0" ry="4.2" fill="url(#holeT)" transform="rotate(-4 300.5 3573.9)"/><ellipse cx="334.5" cy="3581.0" rx="10.0" ry="4.2" fill="url(#holeT)" transform="rotate(-4 334.5 3581.0)"/><ellipse cx="368.5" cy="3588.0" rx="10.0" ry="4.2" fill="url(#holeT)" transform="rotate(-4 368.5 3588.0)"/><ellipse cx="402.6" cy="3595.1" rx="10.0" ry="4.2" fill="url(#holeT)" transform="rotate(-4 402.6 3595.1)"/><ellipse cx="436.6" cy="3602.2" rx="10.0" ry="4.2" fill="url(#holeT)" transform="rotate(-4 436.6 3602.2)"/><ellipse cx="470.6" cy="3609.3" rx="10.0" ry="4.2" fill="url(#holeT)" transform="rotate(-4 470.6 3609.3)"/><ellipse cx="504.7" cy="3616.4" rx="10.0" ry="4.2" fill="url(#holeT)" transform="rotate(-4 504.7 3616.4)"/><ellipse cx="395.7" cy="3526.7" rx="8.0" ry="3.4" fill="url(#holeT)" transform="rotate(-4 395.7 3526.7)"/><ellipse cx="423.2" cy="3530.5" rx="8.0" ry="3.4" fill="url(#holeT)" transform="rotate(-4 423.2 3530.5)"/><ellipse cx="450.6" cy="3534.4" rx="8.0" ry="3.4" fill="url(#holeT)" transform="rotate(-4 450.6 3534.4)"/><ellipse cx="478.1" cy="3538.2" rx="8.0" ry="3.4" fill="url(#holeT)" transform="rotate(-4 478.1 3538.2)"/><ellipse cx="505.6" cy="3542.1" rx="8.0" ry="3.4" fill="url(#holeT)" transform="rotate(-4 505.6 3542.1)"/><ellipse cx="533.1" cy="3545.9" rx="8.0" ry="3.4" fill="url(#holeT)" transform="rotate(-4 533.1 3545.9)"/><ellipse cx="560.5" cy="3549.8" rx="8.0" ry="3.4" fill="url(#holeT)" transform="rotate(-4 560.5 3549.8)"/><ellipse cx="588.0" cy="3553.6" rx="8.0" ry="3.4" fill="url(#holeT)" transform="rotate(-4 588.0 3553.6)"/><ellipse cx="378.4" cy="3533.4" rx="8.0" ry="3.4" fill="url(#holeT)" transform="rotate(-4 378.4 3533.4)"/><ellipse cx="406.9" cy="3537.8" rx="8.0" ry="3.4" fill="url(#holeT)" transform="rotate(-4 406.9 3537.8)"/><ellipse cx="435.4" cy="3542.1" rx="8.0" ry="3.4" fill="url(#holeT)" transform="rotate(-4 435.4 3542.1)"/><ellipse cx="463.9" cy="3546.4" rx="8.0" ry="3.4" fill="url(#holeT)" transform="rotate(-4 463.9 3546.4)"/><ellipse cx="492.4" cy="3550.8" rx="8.0" ry="3.4" fill="url(#holeT)" transform="rotate(-4 492.4 3550.8)"/><ellipse cx="520.8" cy="3555.1" rx="8.0" ry="3.4" fill="url(#holeT)" transform="rotate(-4 520.8 3555.1)"/><ellipse cx="549.3" cy="3559.5" rx="8.0" ry="3.4" fill="url(#holeT)" transform="rotate(-4 549.3 3559.5)"/><ellipse cx="577.8" cy="3563.8" rx="8.0" ry="3.4" fill="url(#holeT)" transform="rotate(-4 577.8 3563.8)"/><ellipse cx="361.2" cy="3540.1" rx="8.0" ry="3.4" fill="url(#holeT)" transform="rotate(-4 361.2 3540.1)"/><ellipse cx="390.6" cy="3545.0" rx="8.0" ry="3.4" fill="url(#holeT)" transform="rotate(-4 390.6 3545.0)"/><ellipse cx="420.1" cy="3549.8" rx="8.0" ry="3.4" fill="url(#holeT)" transform="rotate(-4 420.1 3549.8)"/><ellipse cx="449.6" cy="3554.6" rx="8.0" ry="3.4" fill="url(#holeT)" transform="rotate(-4 449.6 3554.6)"/><ellipse cx="479.1" cy="3559.5" rx="8.0" ry="3.4" fill="url(#holeT)" transform="rotate(-4 479.1 3559.5)"/><ellipse cx="508.6" cy="3564.3" rx="8.0" ry="3.4" fill="url(#holeT)" transform="rotate(-4 508.6 3564.3)"/><ellipse cx="538.1" cy="3569.2" rx="8.0" ry="3.4" fill="url(#holeT)" transform="rotate(-4 538.1 3569.2)"/><ellipse cx="567.6" cy="3574.0" rx="8.0" ry="3.4" fill="url(#holeT)" transform="rotate(-4 567.6 3574.0)"/><ellipse cx="343.9" cy="3546.8" rx="8.0" ry="3.4" fill="url(#holeT)" transform="rotate(-4 343.9 3546.8)"/><ellipse cx="374.4" cy="3552.2" rx="8.0" ry="3.4" fill="url(#holeT)" transform="rotate(-4 374.4 3552.2)"/><ellipse cx="404.9" cy="3557.5" rx="8.0" ry="3.4" fill="url(#holeT)" transform="rotate(-4 404.9 3557.5)"/><ellipse cx="435.4" cy="3562.9" rx="8.0" ry="3.4" fill="url(#holeT)" transform="rotate(-4 435.4 3562.9)"/><ellipse cx="465.9" cy="3568.2" rx="8.0" ry="3.4" fill="url(#holeT)" transform="rotate(-4 465.9 3568.2)"/><ellipse cx="496.4" cy="3573.5" rx="8.0" ry="3.4" fill="url(#holeT)" transform="rotate(-4 496.4 3573.5)"/><ellipse cx="526.9" cy="3578.9" rx="8.0" ry="3.4" fill="url(#holeT)" transform="rotate(-4 526.9 3578.9)"/><ellipse cx="557.4" cy="3584.2" rx="8.0" ry="3.4" fill="url(#holeT)" transform="rotate(-4 557.4 3584.2)"/><ellipse cx="326.6" cy="3553.6" rx="8.0" ry="3.4" fill="url(#holeT)" transform="rotate(-4 326.6 3553.6)"/><ellipse cx="358.1" cy="3559.4" rx="8.0" ry="3.4" fill="url(#holeT)" transform="rotate(-4 358.1 3559.4)"/><ellipse cx="389.6" cy="3565.2" rx="8.0" ry="3.4" fill="url(#holeT)" transform="rotate(-4 389.6 3565.2)"/><ellipse cx="421.2" cy="3571.1" rx="8.0" ry="3.4" fill="url(#holeT)" transform="rotate(-4 421.2 3571.1)"/><ellipse cx="452.7" cy="3576.9" rx="8.0" ry="3.4" fill="url(#holeT)" transform="rotate(-4 452.7 3576.9)"/><ellipse cx="484.2" cy="3582.7" rx="8.0" ry="3.4" fill="url(#holeT)" transform="rotate(-4 484.2 3582.7)"/><ellipse cx="515.7" cy="3588.6" rx="8.0" ry="3.4" fill="url(#holeT)" transform="rotate(-4 515.7 3588.6)"/><ellipse cx="547.2" cy="3594.4" rx="8.0" ry="3.4" fill="url(#holeT)" transform="rotate(-4 547.2 3594.4)"/><ellipse cx="309.3" cy="3560.3" rx="8.0" ry="3.4" fill="url(#holeT)" transform="rotate(-4 309.3 3560.3)"/><ellipse cx="341.9" cy="3566.6" rx="8.0" ry="3.4" fill="url(#holeT)" transform="rotate(-4 341.9 3566.6)"/><ellipse cx="374.4" cy="3572.9" rx="8.0" ry="3.4" fill="url(#holeT)" transform="rotate(-4 374.4 3572.9)"/><ellipse cx="406.9" cy="3579.3" rx="8.0" ry="3.4" fill="url(#holeT)" transform="rotate(-4 406.9 3579.3)"/><ellipse cx="439.4" cy="3585.6" rx="8.0" ry="3.4" fill="url(#holeT)" transform="rotate(-4 439.4 3585.6)"/><ellipse cx="472.0" cy="3591.9" rx="8.0" ry="3.4" fill="url(#holeT)" transform="rotate(-4 472.0 3591.9)"/><ellipse cx="504.5" cy="3598.3" rx="8.0" ry="3.4" fill="url(#holeT)" transform="rotate(-4 504.5 3598.3)"/><ellipse cx="537.0" cy="3604.6" rx="8.0" ry="3.4" fill="url(#holeT)" transform="rotate(-4 537.0 3604.6)"/><ellipse cx="292.1" cy="3567.0" rx="8.0" ry="3.4" fill="url(#holeT)" transform="rotate(-4 292.1 3567.0)"/><ellipse cx="325.6" cy="3573.8" rx="8.0" ry="3.4" fill="url(#holeT)" transform="rotate(-4 325.6 3573.8)"/><ellipse cx="359.1" cy="3580.6" rx="8.0" ry="3.4" fill="url(#holeT)" transform="rotate(-4 359.1 3580.6)"/><ellipse cx="392.7" cy="3587.5" rx="8.0" ry="3.4" fill="url(#holeT)" transform="rotate(-4 392.7 3587.5)"/><ellipse cx="426.2" cy="3594.3" rx="8.0" ry="3.4" fill="url(#holeT)" transform="rotate(-4 426.2 3594.3)"/><ellipse cx="459.7" cy="3601.1" rx="8.0" ry="3.4" fill="url(#holeT)" transform="rotate(-4 459.7 3601.1)"/><ellipse cx="493.3" cy="3608.0" rx="8.0" ry="3.4" fill="url(#holeT)" transform="rotate(-4 493.3 3608.0)"/><ellipse cx="526.8" cy="3614.8" rx="8.0" ry="3.4" fill="url(#holeT)" transform="rotate(-4 526.8 3614.8)"/><ellipse cx="274.8" cy="3573.7" rx="8.0" ry="3.4" fill="url(#holeT)" transform="rotate(-4 274.8 3573.7)"/><ellipse cx="309.3" cy="3581.0" rx="8.0" ry="3.4" fill="url(#holeT)" transform="rotate(-4 309.3 3581.0)"/><ellipse cx="343.9" cy="3588.4" rx="8.0" ry="3.4" fill="url(#holeT)" transform="rotate(-4 343.9 3588.4)"/><ellipse cx="378.4" cy="3595.7" rx="8.0" ry="3.4" fill="url(#holeT)" transform="rotate(-4 378.4 3595.7)"/><ellipse cx="413.0" cy="3603.0" rx="8.0" ry="3.4" fill="url(#holeT)" transform="rotate(-4 413.0 3603.0)"/><ellipse cx="447.5" cy="3610.3" rx="8.0" ry="3.4" fill="url(#holeT)" transform="rotate(-4 447.5 3610.3)"/><ellipse cx="482.1" cy="3617.7" rx="8.0" ry="3.4" fill="url(#holeT)" transform="rotate(-4 482.1 3617.7)"/><ellipse cx="516.6" cy="3625.0" rx="8.0" ry="3.4" fill="url(#holeT)" transform="rotate(-4 516.6 3625.0)"/></g><g clip-path="url(#cwr)"><ellipse cx="520.5" cy="3635.9" rx="4.6" ry="11.5" fill="url(#holeR)" transform="rotate(14 520.5 3635.9)"/><ellipse cx="530.7" cy="3625.4" rx="4.6" ry="11.5" fill="url(#holeR)" transform="rotate(14 530.7 3625.4)"/><ellipse cx="541.0" cy="3614.9" rx="4.6" ry="11.5" fill="url(#holeR)" transform="rotate(14 541.0 3614.9)"/><ellipse cx="551.3" cy="3604.3" rx="4.6" ry="11.5" fill="url(#holeR)" transform="rotate(14 551.3 3604.3)"/><ellipse cx="561.5" cy="3593.8" rx="4.6" ry="11.5" fill="url(#holeR)" transform="rotate(14 561.5 3593.8)"/><ellipse cx="571.8" cy="3583.3" rx="4.6" ry="11.5" fill="url(#holeR)" transform="rotate(14 571.8 3583.3)"/><ellipse cx="582.1" cy="3572.7" rx="4.6" ry="11.5" fill="url(#holeR)" transform="rotate(14 582.1 3572.7)"/><ellipse cx="518.0" cy="3667.9" rx="4.6" ry="11.5" fill="url(#holeR)" transform="rotate(14 518.0 3667.9)"/><ellipse cx="528.4" cy="3656.7" rx="4.6" ry="11.5" fill="url(#holeR)" transform="rotate(14 528.4 3656.7)"/><ellipse cx="538.8" cy="3645.6" rx="4.6" ry="11.5" fill="url(#holeR)" transform="rotate(14 538.8 3645.6)"/><ellipse cx="549.2" cy="3634.4" rx="4.6" ry="11.5" fill="url(#holeR)" transform="rotate(14 549.2 3634.4)"/><ellipse cx="559.6" cy="3623.2" rx="4.6" ry="11.5" fill="url(#holeR)" transform="rotate(14 559.6 3623.2)"/><ellipse cx="570.0" cy="3612.0" rx="4.6" ry="11.5" fill="url(#holeR)" transform="rotate(14 570.0 3612.0)"/><ellipse cx="580.4" cy="3600.8" rx="4.6" ry="11.5" fill="url(#holeR)" transform="rotate(14 580.4 3600.8)"/><ellipse cx="515.5" cy="3699.9" rx="4.6" ry="11.5" fill="url(#holeR)" transform="rotate(14 515.5 3699.9)"/><ellipse cx="526.0" cy="3688.1" rx="4.6" ry="11.5" fill="url(#holeR)" transform="rotate(14 526.0 3688.1)"/><ellipse cx="536.6" cy="3676.3" rx="4.6" ry="11.5" fill="url(#holeR)" transform="rotate(14 536.6 3676.3)"/><ellipse cx="547.1" cy="3664.4" rx="4.6" ry="11.5" fill="url(#holeR)" transform="rotate(14 547.1 3664.4)"/><ellipse cx="557.7" cy="3652.6" rx="4.6" ry="11.5" fill="url(#holeR)" transform="rotate(14 557.7 3652.6)"/><ellipse cx="568.2" cy="3640.8" rx="4.6" ry="11.5" fill="url(#holeR)" transform="rotate(14 568.2 3640.8)"/><ellipse cx="578.8" cy="3628.9" rx="4.6" ry="11.5" fill="url(#holeR)" transform="rotate(14 578.8 3628.9)"/><ellipse cx="513.0" cy="3732.0" rx="4.6" ry="11.5" fill="url(#holeR)" transform="rotate(14 513.0 3732.0)"/><ellipse cx="523.7" cy="3719.5" rx="4.6" ry="11.5" fill="url(#holeR)" transform="rotate(14 523.7 3719.5)"/><ellipse cx="534.4" cy="3707.0" rx="4.6" ry="11.5" fill="url(#holeR)" transform="rotate(14 534.4 3707.0)"/><ellipse cx="545.1" cy="3694.5" rx="4.6" ry="11.5" fill="url(#holeR)" transform="rotate(14 545.1 3694.5)"/><ellipse cx="555.8" cy="3682.0" rx="4.6" ry="11.5" fill="url(#holeR)" transform="rotate(14 555.8 3682.0)"/><ellipse cx="566.5" cy="3669.5" rx="4.6" ry="11.5" fill="url(#holeR)" transform="rotate(14 566.5 3669.5)"/><ellipse cx="577.2" cy="3657.0" rx="4.6" ry="11.5" fill="url(#holeR)" transform="rotate(14 577.2 3657.0)"/><ellipse cx="510.5" cy="3764.0" rx="4.6" ry="11.5" fill="url(#holeR)" transform="rotate(14 510.5 3764.0)"/><ellipse cx="521.3" cy="3750.8" rx="4.6" ry="11.5" fill="url(#holeR)" transform="rotate(14 521.3 3750.8)"/><ellipse cx="532.2" cy="3737.7" rx="4.6" ry="11.5" fill="url(#holeR)" transform="rotate(14 532.2 3737.7)"/><ellipse cx="543.0" cy="3724.6" rx="4.6" ry="11.5" fill="url(#holeR)" transform="rotate(14 543.0 3724.6)"/><ellipse cx="553.8" cy="3711.4" rx="4.6" ry="11.5" fill="url(#holeR)" transform="rotate(14 553.8 3711.4)"/><ellipse cx="564.7" cy="3698.3" rx="4.6" ry="11.5" fill="url(#holeR)" transform="rotate(14 564.7 3698.3)"/><ellipse cx="575.5" cy="3685.1" rx="4.6" ry="11.5" fill="url(#holeR)" transform="rotate(14 575.5 3685.1)"/><ellipse cx="508.0" cy="3796.0" rx="4.6" ry="11.5" fill="url(#holeR)" transform="rotate(14 508.0 3796.0)"/><ellipse cx="519.0" cy="3782.2" rx="4.6" ry="11.5" fill="url(#holeR)" transform="rotate(14 519.0 3782.2)"/><ellipse cx="530.0" cy="3768.4" rx="4.6" ry="11.5" fill="url(#holeR)" transform="rotate(14 530.0 3768.4)"/><ellipse cx="540.9" cy="3754.6" rx="4.6" ry="11.5" fill="url(#holeR)" transform="rotate(14 540.9 3754.6)"/><ellipse cx="551.9" cy="3740.8" rx="4.6" ry="11.5" fill="url(#holeR)" transform="rotate(14 551.9 3740.8)"/><ellipse cx="562.9" cy="3727.0" rx="4.6" ry="11.5" fill="url(#holeR)" transform="rotate(14 562.9 3727.0)"/><ellipse cx="573.9" cy="3713.2" rx="4.6" ry="11.5" fill="url(#holeR)" transform="rotate(14 573.9 3713.2)"/><ellipse cx="505.5" cy="3828.0" rx="4.6" ry="11.5" fill="url(#holeR)" transform="rotate(14 505.5 3828.0)"/><ellipse cx="516.7" cy="3813.6" rx="4.6" ry="11.5" fill="url(#holeR)" transform="rotate(14 516.7 3813.6)"/><ellipse cx="527.8" cy="3799.1" rx="4.6" ry="11.5" fill="url(#holeR)" transform="rotate(14 527.8 3799.1)"/><ellipse cx="538.9" cy="3784.7" rx="4.6" ry="11.5" fill="url(#holeR)" transform="rotate(14 538.9 3784.7)"/><ellipse cx="550.0" cy="3770.2" rx="4.6" ry="11.5" fill="url(#holeR)" transform="rotate(14 550.0 3770.2)"/><ellipse cx="561.1" cy="3755.8" rx="4.6" ry="11.5" fill="url(#holeR)" transform="rotate(14 561.1 3755.8)"/><ellipse cx="572.2" cy="3741.3" rx="4.6" ry="11.5" fill="url(#holeR)" transform="rotate(14 572.2 3741.3)"/><ellipse cx="516.6" cy="3625.0" rx="3.8" ry="9.5" fill="url(#holeR)" transform="rotate(14 516.6 3625.0)"/><ellipse cx="526.8" cy="3614.8" rx="3.8" ry="9.5" fill="url(#holeR)" transform="rotate(14 526.8 3614.8)"/><ellipse cx="537.0" cy="3604.6" rx="3.8" ry="9.5" fill="url(#holeR)" transform="rotate(14 537.0 3604.6)"/><ellipse cx="547.2" cy="3594.4" rx="3.8" ry="9.5" fill="url(#holeR)" transform="rotate(14 547.2 3594.4)"/><ellipse cx="557.4" cy="3584.2" rx="3.8" ry="9.5" fill="url(#holeR)" transform="rotate(14 557.4 3584.2)"/><ellipse cx="567.6" cy="3574.0" rx="3.8" ry="9.5" fill="url(#holeR)" transform="rotate(14 567.6 3574.0)"/><ellipse cx="577.8" cy="3563.8" rx="3.8" ry="9.5" fill="url(#holeR)" transform="rotate(14 577.8 3563.8)"/><ellipse cx="588.0" cy="3553.6" rx="3.8" ry="9.5" fill="url(#holeR)" transform="rotate(14 588.0 3553.6)"/><ellipse cx="514.0" cy="3657.3" rx="3.8" ry="9.5" fill="url(#holeR)" transform="rotate(14 514.0 3657.3)"/><ellipse cx="524.4" cy="3646.5" rx="3.8" ry="9.5" fill="url(#holeR)" transform="rotate(14 524.4 3646.5)"/><ellipse cx="534.7" cy="3635.6" rx="3.8" ry="9.5" fill="url(#holeR)" transform="rotate(14 534.7 3635.6)"/><ellipse cx="545.1" cy="3624.8" rx="3.8" ry="9.5" fill="url(#holeR)" transform="rotate(14 545.1 3624.8)"/><ellipse cx="555.4" cy="3613.9" rx="3.8" ry="9.5" fill="url(#holeR)" transform="rotate(14 555.4 3613.9)"/><ellipse cx="565.7" cy="3603.1" rx="3.8" ry="9.5" fill="url(#holeR)" transform="rotate(14 565.7 3603.1)"/><ellipse cx="576.1" cy="3592.2" rx="3.8" ry="9.5" fill="url(#holeR)" transform="rotate(14 576.1 3592.2)"/><ellipse cx="586.4" cy="3581.4" rx="3.8" ry="9.5" fill="url(#holeR)" transform="rotate(14 586.4 3581.4)"/><ellipse cx="511.5" cy="3689.7" rx="3.8" ry="9.5" fill="url(#holeR)" transform="rotate(14 511.5 3689.7)"/><ellipse cx="522.0" cy="3678.2" rx="3.8" ry="9.5" fill="url(#holeR)" transform="rotate(14 522.0 3678.2)"/><ellipse cx="532.4" cy="3666.7" rx="3.8" ry="9.5" fill="url(#holeR)" transform="rotate(14 532.4 3666.7)"/><ellipse cx="542.9" cy="3655.2" rx="3.8" ry="9.5" fill="url(#holeR)" transform="rotate(14 542.9 3655.2)"/><ellipse cx="553.4" cy="3643.7" rx="3.8" ry="9.5" fill="url(#holeR)" transform="rotate(14 553.4 3643.7)"/><ellipse cx="563.9" cy="3632.2" rx="3.8" ry="9.5" fill="url(#holeR)" transform="rotate(14 563.9 3632.2)"/><ellipse cx="574.4" cy="3620.6" rx="3.8" ry="9.5" fill="url(#holeR)" transform="rotate(14 574.4 3620.6)"/><ellipse cx="584.9" cy="3609.1" rx="3.8" ry="9.5" fill="url(#holeR)" transform="rotate(14 584.9 3609.1)"/><ellipse cx="508.9" cy="3722.0" rx="3.8" ry="9.5" fill="url(#holeR)" transform="rotate(14 508.9 3722.0)"/><ellipse cx="519.6" cy="3709.9" rx="3.8" ry="9.5" fill="url(#holeR)" transform="rotate(14 519.6 3709.9)"/><ellipse cx="530.2" cy="3697.7" rx="3.8" ry="9.5" fill="url(#holeR)" transform="rotate(14 530.2 3697.7)"/><ellipse cx="540.8" cy="3685.6" rx="3.8" ry="9.5" fill="url(#holeR)" transform="rotate(14 540.8 3685.6)"/><ellipse cx="551.4" cy="3673.4" rx="3.8" ry="9.5" fill="url(#holeR)" transform="rotate(14 551.4 3673.4)"/><ellipse cx="562.0" cy="3661.2" rx="3.8" ry="9.5" fill="url(#holeR)" transform="rotate(14 562.0 3661.2)"/><ellipse cx="572.7" cy="3649.1" rx="3.8" ry="9.5" fill="url(#holeR)" transform="rotate(14 572.7 3649.1)"/><ellipse cx="583.3" cy="3636.9" rx="3.8" ry="9.5" fill="url(#holeR)" transform="rotate(14 583.3 3636.9)"/><ellipse cx="506.4" cy="3754.4" rx="3.8" ry="9.5" fill="url(#holeR)" transform="rotate(14 506.4 3754.4)"/><ellipse cx="517.1" cy="3741.6" rx="3.8" ry="9.5" fill="url(#holeR)" transform="rotate(14 517.1 3741.6)"/><ellipse cx="527.9" cy="3728.7" rx="3.8" ry="9.5" fill="url(#holeR)" transform="rotate(14 527.9 3728.7)"/><ellipse cx="538.7" cy="3715.9" rx="3.8" ry="9.5" fill="url(#holeR)" transform="rotate(14 538.7 3715.9)"/><ellipse cx="549.4" cy="3703.1" rx="3.8" ry="9.5" fill="url(#holeR)" transform="rotate(14 549.4 3703.1)"/><ellipse cx="560.2" cy="3690.3" rx="3.8" ry="9.5" fill="url(#holeR)" transform="rotate(14 560.2 3690.3)"/><ellipse cx="571.0" cy="3677.5" rx="3.8" ry="9.5" fill="url(#holeR)" transform="rotate(14 571.0 3677.5)"/><ellipse cx="581.7" cy="3664.7" rx="3.8" ry="9.5" fill="url(#holeR)" transform="rotate(14 581.7 3664.7)"/><ellipse cx="503.8" cy="3786.7" rx="3.8" ry="9.5" fill="url(#holeR)" transform="rotate(14 503.8 3786.7)"/><ellipse cx="514.7" cy="3773.2" rx="3.8" ry="9.5" fill="url(#holeR)" transform="rotate(14 514.7 3773.2)"/><ellipse cx="525.6" cy="3759.8" rx="3.8" ry="9.5" fill="url(#holeR)" transform="rotate(14 525.6 3759.8)"/><ellipse cx="536.5" cy="3746.3" rx="3.8" ry="9.5" fill="url(#holeR)" transform="rotate(14 536.5 3746.3)"/><ellipse cx="547.4" cy="3732.9" rx="3.8" ry="9.5" fill="url(#holeR)" transform="rotate(14 547.4 3732.9)"/><ellipse cx="558.3" cy="3719.4" rx="3.8" ry="9.5" fill="url(#holeR)" transform="rotate(14 558.3 3719.4)"/><ellipse cx="569.2" cy="3705.9" rx="3.8" ry="9.5" fill="url(#holeR)" transform="rotate(14 569.2 3705.9)"/><ellipse cx="580.1" cy="3692.5" rx="3.8" ry="9.5" fill="url(#holeR)" transform="rotate(14 580.1 3692.5)"/><ellipse cx="501.3" cy="3819.1" rx="3.8" ry="9.5" fill="url(#holeR)" transform="rotate(14 501.3 3819.1)"/><ellipse cx="512.3" cy="3804.9" rx="3.8" ry="9.5" fill="url(#holeR)" transform="rotate(14 512.3 3804.9)"/><ellipse cx="523.3" cy="3790.8" rx="3.8" ry="9.5" fill="url(#holeR)" transform="rotate(14 523.3 3790.8)"/><ellipse cx="534.4" cy="3776.7" rx="3.8" ry="9.5" fill="url(#holeR)" transform="rotate(14 534.4 3776.7)"/><ellipse cx="545.4" cy="3762.6" rx="3.8" ry="9.5" fill="url(#holeR)" transform="rotate(14 545.4 3762.6)"/><ellipse cx="556.5" cy="3748.5" rx="3.8" ry="9.5" fill="url(#holeR)" transform="rotate(14 556.5 3748.5)"/><ellipse cx="567.5" cy="3734.3" rx="3.8" ry="9.5" fill="url(#holeR)" transform="rotate(14 567.5 3734.3)"/><ellipse cx="578.6" cy="3720.2" rx="3.8" ry="9.5" fill="url(#holeR)" transform="rotate(14 578.6 3720.2)"/><ellipse cx="498.7" cy="3851.4" rx="3.8" ry="9.5" fill="url(#holeR)" transform="rotate(14 498.7 3851.4)"/><ellipse cx="509.9" cy="3836.6" rx="3.8" ry="9.5" fill="url(#holeR)" transform="rotate(14 509.9 3836.6)"/><ellipse cx="521.1" cy="3821.9" rx="3.8" ry="9.5" fill="url(#holeR)" transform="rotate(14 521.1 3821.9)"/><ellipse cx="532.3" cy="3807.1" rx="3.8" ry="9.5" fill="url(#holeR)" transform="rotate(14 532.3 3807.1)"/><ellipse cx="543.4" cy="3792.3" rx="3.8" ry="9.5" fill="url(#holeR)" transform="rotate(14 543.4 3792.3)"/><ellipse cx="554.6" cy="3777.5" rx="3.8" ry="9.5" fill="url(#holeR)" transform="rotate(14 554.6 3777.5)"/><ellipse cx="565.8" cy="3762.8" rx="3.8" ry="9.5" fill="url(#holeR)" transform="rotate(14 565.8 3762.8)"/><ellipse cx="577.0" cy="3748.0" rx="3.8" ry="9.5" fill="url(#holeR)" transform="rotate(14 577.0 3748.0)"/></g></g><g id="bcube"><polygon points="842,3561 1036,3585.5 1036,3844 848,3786" fill="#232425" stroke="none" stroke-width="0" /><polygon points="970,3539 1161,3562 1035,3590.5 843,3562" fill="#2a2b2c" stroke="none" stroke-width="0" /><polygon points="1030,3585.5 1162,3561 1157.5,3776 1030,3844" fill="#2d2f30" stroke="none" stroke-width="0" /><circle r="1" fill="#0d0d0e" transform="matrix(5.25 0.78 0.12 4.91 869.0 3589.4)" /><circle r="1" fill="#121213" transform="matrix(3.52 -0.81 -0.01 5.44 1048.7 3610.1)" /><circle r="1" fill="#0d0d0e" transform="matrix(5.25 0.78 0.10 5.00 892.5 3592.9)" /><circle r="1" fill="#121213" transform="matrix(3.52 -0.81 -0.02 5.32 1064.4 3606.5)" /><circle r="1" fill="#0d0d0e" transform="matrix(5.25 0.78 0.08 5.09 915.9 3596.3)" /><circle r="1" fill="#121213" transform="matrix(3.52 -0.81 -0.04 5.20 1080.1 3602.9)" /><circle r="1" fill="#0d0d0e" transform="matrix(5.25 0.78 0.07 5.19 939.3 3599.8)" /><circle r="1" fill="#121213" transform="matrix(3.52 -0.81 -0.05 5.08 1095.8 3599.3)" /><circle r="1" fill="#0d0d0e" transform="matrix(5.25 0.78 0.05 5.28 962.7 3603.3)" /><circle r="1" fill="#121213" transform="matrix(3.52 -0.81 -0.06 4.96 1111.5 3595.7)" /><circle r="1" fill="#0d0d0e" transform="matrix(5.25 0.78 0.03 5.37 986.2 3606.8)" /><circle r="1" fill="#121213" transform="matrix(3.52 -0.81 -0.07 4.84 1127.2 3592.1)" /><circle r="1" fill="#0d0d0e" transform="matrix(5.25 0.78 0.02 5.46 1009.6 3610.3)" /><circle r="1" fill="#121213" transform="matrix(3.52 -0.81 -0.09 4.72 1142.9 3588.5)" /><circle r="1" fill="#0d0d0e" transform="matrix(5.23 0.87 0.12 4.91 869.5 3611.7)" /><circle r="1" fill="#121213" transform="matrix(3.50 -0.93 -0.01 5.44 1048.6 3634.9)" /><circle r="1" fill="#0d0d0e" transform="matrix(5.23 0.87 0.10 5.00 892.9 3615.6)" /><circle r="1" fill="#121213" transform="matrix(3.50 -0.93 -0.02 5.32 1064.3 3630.7)" /><circle r="1" fill="#0d0d0e" transform="matrix(5.23 0.87 0.08 5.09 916.3 3619.5)" /><circle r="1" fill="#121213" transform="matrix(3.50 -0.93 -0.04 5.20 1079.9 3626.5)" /><circle r="1" fill="#0d0d0e" transform="matrix(5.23 0.87 0.07 5.19 939.6 3623.4)" /><circle r="1" fill="#121213" transform="matrix(3.50 -0.93 -0.05 5.08 1095.6 3622.4)" /><circle r="1" fill="#0d0d0e" transform="matrix(5.23 0.87 0.05 5.28 963.0 3627.3)" /><circle r="1" fill="#121213" transform="matrix(3.50 -0.93 -0.06 4.96 1111.2 3618.2)" /><circle r="1" fill="#0d0d0e" transform="matrix(5.23 0.87 0.03 5.37 986.3 3631.2)" /><circle r="1" fill="#121213" transform="matrix(3.50 -0.93 -0.07 4.84 1126.8 3614.1)" /><circle r="1" fill="#0d0d0e" transform="matrix(5.23 0.87 0.02 5.46 1009.6 3635.1)" /><circle r="1" fill="#121213" transform="matrix(3.50 -0.93 -0.09 4.72 1142.5 3610.0)" /><circle r="1" fill="#0d0d0e" transform="matrix(5.21 0.97 0.12 4.91 870.1 3634.0)" /><circle r="1" fill="#121213" transform="matrix(3.49 -1.05 -0.01 5.44 1048.6 3659.6)" /><circle r="1" fill="#0d0d0e" transform="matrix(5.21 0.97 0.10 5.00 893.3 3638.3)" /><circle r="1" fill="#121213" transform="matrix(3.49 -1.05 -0.02 5.32 1064.2 3654.9)" /><circle r="1" fill="#0d0d0e" transform="matrix(5.21 0.97 0.08 5.09 916.6 3642.7)" /><circle r="1" fill="#121213" transform="matrix(3.49 -1.05 -0.04 5.20 1079.7 3650.2)" /><circle r="1" fill="#0d0d0e" transform="matrix(5.21 0.97 0.07 5.19 939.9 3647.0)" /><circle r="1" fill="#121213" transform="matrix(3.49 -1.05 -0.05 5.08 1095.3 3645.5)" /><circle r="1" fill="#0d0d0e" transform="matrix(5.21 0.97 0.05 5.28 963.2 3651.3)" /><circle r="1" fill="#121213" transform="matrix(3.49 -1.05 -0.06 4.96 1110.9 3640.8)" /><circle r="1" fill="#0d0d0e" transform="matrix(5.21 0.97 0.03 5.37 986.4 3655.6)" /><circle r="1" fill="#121213" transform="matrix(3.49 -1.05 -0.07 4.84 1126.5 3636.1)" /><circle r="1" fill="#0d0d0e" transform="matrix(5.21 0.97 0.02 5.46 1009.7 3659.9)" /><circle r="1" fill="#121213" transform="matrix(3.49 -1.05 -0.09 4.72 1142.1 3631.4)" /><circle r="1" fill="#0d0d0e" transform="matrix(5.20 1.06 0.12 4.91 870.6 3656.3)" /><circle r="1" fill="#121213" transform="matrix(3.48 -1.17 -0.01 5.44 1048.5 3684.3)" /><circle r="1" fill="#0d0d0e" transform="matrix(5.20 1.06 0.10 5.00 893.8 3661.1)" /><circle r="1" fill="#121213" transform="matrix(3.48 -1.17 -0.02 5.32 1064.0 3679.0)" /><circle r="1" fill="#0d0d0e" transform="matrix(5.20 1.06 0.08 5.09 917.0 3665.8)" /><circle r="1" fill="#121213" transform="matrix(3.48 -1.17 -0.04 5.20 1079.6 3673.8)" /><circle r="1" fill="#0d0d0e" transform="matrix(5.20 1.06 0.07 5.19 940.2 3670.5)" /><circle r="1" fill="#121213" transform="matrix(3.48 -1.17 -0.05 5.08 1095.1 3668.6)" /><circle r="1" fill="#0d0d0e" transform="matrix(5.20 1.06 0.05 5.28 963.4 3675.3)" /><circle r="1" fill="#121213" transform="matrix(3.48 -1.17 -0.06 4.96 1110.6 3663.3)" /><circle r="1" fill="#0d0d0e" transform="matrix(5.20 1.06 0.03 5.37 986.6 3680.0)" /><circle r="1" fill="#121213" transform="matrix(3.48 -1.17 -0.07 4.84 1126.2 3658.1)" /><circle r="1" fill="#0d0d0e" transform="matrix(5.20 1.06 0.02 5.46 1009.8 3684.8)" /><circle r="1" fill="#121213" transform="matrix(3.48 -1.17 -0.09 4.72 1141.7 3652.8)" /><circle r="1" fill="#0d0d0e" transform="matrix(5.18 1.16 0.12 4.91 871.1 3678.7)" /><circle r="1" fill="#121213" transform="matrix(3.46 -1.29 -0.01 5.44 1048.5 3709.0)" /><circle r="1" fill="#0d0d0e" transform="matrix(5.18 1.16 0.10 5.00 894.2 3683.8)" /><circle r="1" fill="#121213" transform="matrix(3.46 -1.30 -0.02 5.32 1063.9 3703.2)" /><circle r="1" fill="#0d0d0e" transform="matrix(5.18 1.16 0.08 5.09 917.4 3689.0)" /><circle r="1" fill="#121213" transform="matrix(3.46 -1.29 -0.04 5.20 1079.4 3697.4)" /><circle r="1" fill="#0d0d0e" transform="matrix(5.18 1.16 0.07 5.19 940.5 3694.1)" /><circle r="1" fill="#121213" transform="matrix(3.46 -1.30 -0.05 5.08 1094.9 3691.6)" /><circle r="1" fill="#0d0d0e" transform="matrix(5.18 1.16 0.05 5.28 963.6 3699.3)" /><circle r="1" fill="#121213" transform="matrix(3.46 -1.30 -0.06 4.96 1110.3 3685.8)" /><circle r="1" fill="#0d0d0e" transform="matrix(5.18 1.15 0.03 5.37 986.8 3704.4)" /><circle r="1" fill="#121213" transform="matrix(3.46 -1.30 -0.07 4.84 1125.8 3680.1)" /><circle r="1" fill="#0d0d0e" transform="matrix(5.18 1.15 0.02 5.46 1009.9 3709.6)" /><circle r="1" fill="#121213" transform="matrix(3.46 -1.30 -0.09 4.72 1141.3 3674.3)" /><circle r="1" fill="#0d0d0e" transform="matrix(5.16 1.25 0.12 4.91 871.7 3701.0)" /><circle r="1" fill="#121213" transform="matrix(3.45 -1.42 -0.01 5.44 1048.4 3733.7)" /><circle r="1" fill="#0d0d0e" transform="matrix(5.16 1.25 0.10 5.00 894.7 3706.6)" /><circle r="1" fill="#121213" transform="matrix(3.45 -1.42 -0.02 5.32 1063.8 3727.3)" /><circle r="1" fill="#0d0d0e" transform="matrix(5.16 1.25 0.08 5.09 917.8 3712.1)" /><circle r="1" fill="#121213" transform="matrix(3.45 -1.42 -0.04 5.20 1079.2 3721.0)" /><circle r="1" fill="#0d0d0e" transform="matrix(5.16 1.25 0.07 5.19 940.8 3717.7)" /><circle r="1" fill="#121213" transform="matrix(3.45 -1.42 -0.05 5.08 1094.7 3714.7)" /><circle r="1" fill="#0d0d0e" transform="matrix(5.16 1.25 0.05 5.28 963.9 3723.3)" /><circle r="1" fill="#121213" transform="matrix(3.45 -1.42 -0.06 4.96 1110.1 3708.4)" /><circle r="1" fill="#0d0d0e" transform="matrix(5.16 1.25 0.03 5.37 986.9 3728.8)" /><circle r="1" fill="#121213" transform="matrix(3.45 -1.42 -0.07 4.84 1125.5 3702.1)" /><circle r="1" fill="#0d0d0e" transform="matrix(5.16 1.25 0.02 5.46 1010.0 3734.4)" /><circle r="1" fill="#121213" transform="matrix(3.45 -1.42 -0.09 4.72 1140.9 3695.7)" /><circle r="1" fill="#0d0d0e" transform="matrix(5.15 1.34 0.12 4.91 872.2 3723.3)" /><circle r="1" fill="#121213" transform="matrix(3.44 -1.54 -0.01 5.44 1048.4 3758.4)" /><circle r="1" fill="#0d0d0e" transform="matrix(5.15 1.34 0.10 5.00 895.1 3729.3)" /><circle r="1" fill="#121213" transform="matrix(3.44 -1.54 -0.02 5.32 1063.7 3751.5)" /><circle r="1" fill="#0d0d0e" transform="matrix(5.15 1.34 0.08 5.09 918.1 3735.3)" /><circle r="1" fill="#121213" transform="matrix(3.44 -1.54 -0.04 5.20 1079.1 3744.6)" /><circle r="1" fill="#0d0d0e" transform="matrix(5.15 1.34 0.07 5.19 941.1 3741.3)" /><circle r="1" fill="#121213" transform="matrix(3.44 -1.54 -0.05 5.08 1094.4 3737.8)" /><circle r="1" fill="#0d0d0e" transform="matrix(5.15 1.34 0.05 5.28 964.1 3747.3)" /><circle r="1" fill="#121213" transform="matrix(3.44 -1.54 -0.06 4.96 1109.8 3730.9)" /><circle r="1" fill="#0d0d0e" transform="matrix(5.15 1.34 0.03 5.37 987.0 3753.3)" /><circle r="1" fill="#121213" transform="matrix(3.44 -1.54 -0.07 4.84 1125.1 3724.0)" /><circle r="1" fill="#0d0d0e" transform="matrix(5.15 1.34 0.02 5.46 1010.0 3759.3)" /><circle r="1" fill="#121213" transform="matrix(3.44 -1.54 -0.09 4.72 1140.5 3717.2)" /><circle r="1" fill="#0d0d0e" transform="matrix(5.13 1.44 0.12 4.91 872.7 3745.6)" /><circle r="1" fill="#121213" transform="matrix(3.43 -1.66 -0.01 5.44 1048.3 3783.1)" /><circle r="1" fill="#0d0d0e" transform="matrix(5.13 1.44 0.10 5.00 895.6 3752.0)" /><circle r="1" fill="#121213" transform="matrix(3.43 -1.66 -0.02 5.32 1063.6 3775.7)" /><circle r="1" fill="#0d0d0e" transform="matrix(5.13 1.44 0.08 5.09 918.5 3758.4)" /><circle r="1" fill="#121213" transform="matrix(3.43 -1.66 -0.04 5.20 1078.9 3768.3)" /><circle r="1" fill="#0d0d0e" transform="matrix(5.13 1.44 0.07 5.19 941.4 3764.8)" /><circle r="1" fill="#121213" transform="matrix(3.43 -1.66 -0.05 5.08 1094.2 3760.8)" /><circle r="1" fill="#0d0d0e" transform="matrix(5.13 1.44 0.05 5.28 964.3 3771.3)" /><circle r="1" fill="#121213" transform="matrix(3.43 -1.66 -0.06 4.96 1109.5 3753.4)" /><circle r="1" fill="#0d0d0e" transform="matrix(5.13 1.44 0.03 5.37 987.2 3777.7)" /><circle r="1" fill="#121213" transform="matrix(3.43 -1.66 -0.07 4.84 1124.8 3746.0)" /><circle r="1" fill="#0d0d0e" transform="matrix(5.13 1.44 0.02 5.46 1010.1 3784.1)" /><circle r="1" fill="#121213" transform="matrix(3.43 -1.66 -0.09 4.72 1140.1 3738.6)" /><circle r="1" fill="#0d0d0e" transform="matrix(5.11 1.53 0.12 4.91 873.2 3767.9)" /><circle r="1" fill="#121213" transform="matrix(3.41 -1.78 -0.01 5.44 1048.2 3807.8)" /><circle r="1" fill="#0d0d0e" transform="matrix(5.11 1.53 0.10 5.00 896.1 3774.8)" /><circle r="1" fill="#121213" transform="matrix(3.41 -1.78 -0.02 5.32 1063.5 3799.8)" /><circle r="1" fill="#0d0d0e" transform="matrix(5.11 1.53 0.08 5.09 918.9 3781.6)" /><circle r="1" fill="#121213" transform="matrix(3.41 -1.78 -0.04 5.20 1078.7 3791.9)" /><circle r="1" fill="#0d0d0e" transform="matrix(5.11 1.53 0.07 5.19 941.7 3788.4)" /><circle r="1" fill="#121213" transform="matrix(3.41 -1.78 -0.05 5.08 1094.0 3783.9)" /><circle r="1" fill="#0d0d0e" transform="matrix(5.11 1.53 0.05 5.28 964.5 3795.3)" /><circle r="1" fill="#121213" transform="matrix(3.41 -1.78 -0.06 4.96 1109.2 3776.0)" /><circle r="1" fill="#0d0d0e" transform="matrix(5.11 1.53 0.03 5.37 987.4 3802.1)" /><circle r="1" fill="#121213" transform="matrix(3.41 -1.78 -0.07 4.84 1124.5 3768.0)" /><circle r="1" fill="#0d0d0e" transform="matrix(5.11 1.53 0.02 5.46 1010.2 3808.9)" /><circle r="1" fill="#121213" transform="matrix(3.41 -1.78 -0.09 4.72 1139.7 3760.1)" /><circle r="1" fill="url(#bump)" transform="matrix(8.63 1.20 0.20 7.96 857.0 3576.6)" /><circle r="1" fill="url(#bump)" transform="matrix(8.63 1.20 0.18 8.11 880.5 3579.9)" /><circle r="1" fill="url(#bump)" transform="matrix(8.63 1.20 0.15 8.26 904.0 3583.1)" /><circle r="1" fill="url(#bump)" transform="matrix(8.63 1.20 0.12 8.41 927.4 3586.4)" /><circle r="1" fill="url(#bump)" transform="matrix(8.63 1.20 0.09 8.56 950.9 3589.7)" /><circle r="1" fill="url(#bump)" transform="matrix(8.63 1.20 0.07 8.71 974.3 3592.9)" /><circle r="1" fill="url(#bump)" transform="matrix(8.63 1.20 0.04 8.86 997.8 3596.2)" /><circle r="1" fill="url(#bump)" transform="matrix(8.63 1.20 0.01 9.01 1021.3 3599.5)" /><circle r="1" fill="url(#bump)" transform="matrix(8.61 1.36 0.20 7.96 857.6 3598.7)" /><circle r="1" fill="url(#bump)" transform="matrix(8.61 1.36 0.18 8.11 881.0 3602.4)" /><circle r="1" fill="url(#bump)" transform="matrix(8.61 1.36 0.15 8.26 904.4 3606.1)" /><circle r="1" fill="url(#bump)" transform="matrix(8.61 1.36 0.12 8.41 927.8 3609.8)" /><circle r="1" fill="url(#bump)" transform="matrix(8.61 1.36 0.09 8.56 951.1 3613.5)" /><circle r="1" fill="url(#bump)" transform="matrix(8.61 1.36 0.07 8.71 974.5 3617.1)" /><circle r="1" fill="url(#bump)" transform="matrix(8.61 1.36 0.04 8.86 997.9 3620.8)" /><circle r="1" fill="url(#bump)" transform="matrix(8.61 1.36 0.01 9.01 1021.3 3624.5)" /><circle r="1" fill="url(#bump)" transform="matrix(8.58 1.51 0.20 7.96 858.2 3620.8)" /><circle r="1" fill="url(#bump)" transform="matrix(8.58 1.51 0.18 8.11 881.5 3624.9)" /><circle r="1" fill="url(#bump)" transform="matrix(8.58 1.51 0.15 8.26 904.8 3629.0)" /><circle r="1" fill="url(#bump)" transform="matrix(8.58 1.51 0.12 8.41 928.1 3633.1)" /><circle r="1" fill="url(#bump)" transform="matrix(8.58 1.51 0.09 8.56 951.4 3637.2)" /><circle r="1" fill="url(#bump)" transform="matrix(8.58 1.51 0.07 8.71 974.7 3641.4)" /><circle r="1" fill="url(#bump)" transform="matrix(8.58 1.51 0.04 8.86 998.0 3645.5)" /><circle r="1" fill="url(#bump)" transform="matrix(8.58 1.51 0.01 9.01 1021.3 3649.6)" /><circle r="1" fill="url(#bump)" transform="matrix(8.55 1.67 0.20 7.96 858.7 3642.9)" /><circle r="1" fill="url(#bump)" transform="matrix(8.55 1.67 0.18 8.11 882.0 3647.4)" /><circle r="1" fill="url(#bump)" transform="matrix(8.55 1.67 0.15 8.26 905.2 3652.0)" /><circle r="1" fill="url(#bump)" transform="matrix(8.55 1.67 0.12 8.41 928.4 3656.5)" /><circle r="1" fill="url(#bump)" transform="matrix(8.55 1.67 0.09 8.56 951.7 3661.0)" /><circle r="1" fill="url(#bump)" transform="matrix(8.55 1.67 0.07 8.71 974.9 3665.6)" /><circle r="1" fill="url(#bump)" transform="matrix(8.55 1.67 0.04 8.86 998.1 3670.1)" /><circle r="1" fill="url(#bump)" transform="matrix(8.55 1.67 0.01 9.01 1021.4 3674.6)" /><circle r="1" fill="url(#bump)" transform="matrix(8.52 1.82 0.20 7.96 859.3 3665.0)" /><circle r="1" fill="url(#bump)" transform="matrix(8.52 1.82 0.18 8.11 882.4 3670.0)" /><circle r="1" fill="url(#bump)" transform="matrix(8.52 1.82 0.15 8.26 905.6 3674.9)" /><circle r="1" fill="url(#bump)" transform="matrix(8.52 1.82 0.12 8.41 928.8 3679.9)" /><circle r="1" fill="url(#bump)" transform="matrix(8.52 1.82 0.09 8.56 951.9 3684.8)" /><circle r="1" fill="url(#bump)" transform="matrix(8.52 1.82 0.07 8.71 975.1 3689.8)" /><circle r="1" fill="url(#bump)" transform="matrix(8.52 1.82 0.04 8.86 998.3 3694.7)" /><circle r="1" fill="url(#bump)" transform="matrix(8.52 1.82 0.01 9.01 1021.4 3699.7)" /><circle r="1" fill="url(#bump)" transform="matrix(8.50 1.97 0.20 7.96 859.8 3687.1)" /><circle r="1" fill="url(#bump)" transform="matrix(8.50 1.97 0.18 8.11 882.9 3692.5)" /><circle r="1" fill="url(#bump)" transform="matrix(8.50 1.97 0.15 8.26 906.0 3697.9)" /><circle r="1" fill="url(#bump)" transform="matrix(8.50 1.97 0.12 8.41 929.1 3703.2)" /><circle r="1" fill="url(#bump)" transform="matrix(8.50 1.97 0.09 8.56 952.2 3708.6)" /><circle r="1" fill="url(#bump)" transform="matrix(8.50 1.97 0.07 8.71 975.3 3714.0)" /><circle r="1" fill="url(#bump)" transform="matrix(8.50 1.97 0.04 8.86 998.4 3719.3)" /><circle r="1" fill="url(#bump)" transform="matrix(8.50 1.97 0.01 9.01 1021.5 3724.7)" /><circle r="1" fill="url(#bump)" transform="matrix(8.47 2.13 0.20 7.96 860.4 3709.2)" /><circle r="1" fill="url(#bump)" transform="matrix(8.47 2.13 0.18 8.11 883.4 3715.0)" /><circle r="1" fill="url(#bump)" transform="matrix(8.47 2.13 0.15 8.26 906.4 3720.8)" /><circle r="1" fill="url(#bump)" transform="matrix(8.47 2.13 0.12 8.41 929.4 3726.6)" /><circle r="1" fill="url(#bump)" transform="matrix(8.47 2.13 0.09 8.56 952.5 3732.4)" /><circle r="1" fill="url(#bump)" transform="matrix(8.47 2.13 0.07 8.71 975.5 3738.2)" /><circle r="1" fill="url(#bump)" transform="matrix(8.47 2.13 0.04 8.86 998.5 3743.9)" /><circle r="1" fill="url(#bump)" transform="matrix(8.47 2.13 0.01 9.01 1021.5 3749.7)" /><circle r="1" fill="url(#bump)" transform="matrix(8.44 2.28 0.20 7.96 861.0 3731.4)" /><circle r="1" fill="url(#bump)" transform="matrix(8.44 2.28 0.18 8.11 883.9 3737.6)" /><circle r="1" fill="url(#bump)" transform="matrix(8.44 2.28 0.15 8.26 906.8 3743.8)" /><circle r="1" fill="url(#bump)" transform="matrix(8.44 2.28 0.12 8.41 929.8 3750.0)" /><circle r="1" fill="url(#bump)" transform="matrix(8.44 2.28 0.09 8.56 952.7 3756.2)" /><circle r="1" fill="url(#bump)" transform="matrix(8.44 2.28 0.07 8.71 975.7 3762.4)" /><circle r="1" fill="url(#bump)" transform="matrix(8.44 2.28 0.04 8.86 998.6 3768.6)" /><circle r="1" fill="url(#bump)" transform="matrix(8.44 2.28 0.01 9.01 1021.5 3774.8)" /><circle r="1" fill="url(#bump)" transform="matrix(8.41 2.44 0.20 7.96 861.5 3753.5)" /><circle r="1" fill="url(#bump)" transform="matrix(8.41 2.44 0.18 8.11 884.4 3760.1)" /><circle r="1" fill="url(#bump)" transform="matrix(8.41 2.44 0.15 8.26 907.3 3766.7)" /><circle r="1" fill="url(#bump)" transform="matrix(8.41 2.44 0.12 8.41 930.1 3773.3)" /><circle r="1" fill="url(#bump)" transform="matrix(8.41 2.44 0.09 8.56 953.0 3779.9)" /><circle r="1" fill="url(#bump)" transform="matrix(8.41 2.44 0.07 8.71 975.8 3786.6)" /><circle r="1" fill="url(#bump)" transform="matrix(8.41 2.44 0.04 8.86 998.7 3793.2)" /><circle r="1" fill="url(#bump)" transform="matrix(8.41 2.44 0.01 9.01 1021.6 3799.8)" /><circle r="1" fill="url(#bump)" transform="matrix(8.39 2.59 0.20 7.96 862.1 3775.6)" /><circle r="1" fill="url(#bump)" transform="matrix(8.39 2.59 0.18 8.11 884.9 3782.6)" /><circle r="1" fill="url(#bump)" transform="matrix(8.39 2.59 0.15 8.26 907.7 3789.7)" /><circle r="1" fill="url(#bump)" transform="matrix(8.39 2.59 0.12 8.41 930.5 3796.7)" /><circle r="1" fill="url(#bump)" transform="matrix(8.39 2.59 0.09 8.56 953.2 3803.7)" /><circle r="1" fill="url(#bump)" transform="matrix(8.39 2.59 0.07 8.71 976.0 3810.8)" /><circle r="1" fill="url(#bump)" transform="matrix(8.39 2.59 0.04 8.86 998.8 3817.8)" /><circle r="1" fill="url(#bump)" transform="matrix(8.39 2.59 0.01 9.01 1021.6 3824.9)" /><circle r="1" fill="url(#bumpR)" transform="matrix(5.79 -1.23 -0.01 8.99 1040.9 3599.5)" /><circle r="1" fill="url(#bumpR)" transform="matrix(5.79 -1.23 -0.03 8.80 1056.6 3596.1)" /><circle r="1" fill="url(#bumpR)" transform="matrix(5.79 -1.23 -0.05 8.60 1072.3 3592.8)" /><circle r="1" fill="url(#bumpR)" transform="matrix(5.79 -1.23 -0.07 8.40 1088.0 3589.5)" /><circle r="1" fill="url(#bumpR)" transform="matrix(5.79 -1.23 -0.09 8.21 1103.7 3586.1)" /><circle r="1" fill="url(#bumpR)" transform="matrix(5.79 -1.23 -0.11 8.01 1119.5 3582.8)" /><circle r="1" fill="url(#bumpR)" transform="matrix(5.79 -1.23 -0.13 7.82 1135.2 3579.5)" /><circle r="1" fill="url(#bumpR)" transform="matrix(5.79 -1.23 -0.15 7.62 1150.9 3576.1)" /><circle r="1" fill="url(#bumpR)" transform="matrix(5.76 -1.43 -0.01 8.99 1040.8 3624.4)" /><circle r="1" fill="url(#bumpR)" transform="matrix(5.76 -1.43 -0.03 8.80 1056.5 3620.6)" /><circle r="1" fill="url(#bumpR)" transform="matrix(5.76 -1.43 -0.05 8.60 1072.2 3616.7)" /><circle r="1" fill="url(#bumpR)" transform="matrix(5.76 -1.43 -0.07 8.40 1087.8 3612.8)" /><circle r="1" fill="url(#bumpR)" transform="matrix(5.76 -1.43 -0.09 8.21 1103.5 3608.9)" /><circle r="1" fill="url(#bumpR)" transform="matrix(5.76 -1.43 -0.11 8.01 1119.2 3605.0)" /><circle r="1" fill="url(#bumpR)" transform="matrix(5.76 -1.43 -0.13 7.82 1134.8 3601.2)" /><circle r="1" fill="url(#bumpR)" transform="matrix(5.76 -1.43 -0.15 7.62 1150.5 3597.3)" /><circle r="1" fill="url(#bumpR)" transform="matrix(5.74 -1.63 -0.01 8.99 1040.8 3649.4)" /><circle r="1" fill="url(#bumpR)" transform="matrix(5.74 -1.63 -0.03 8.80 1056.4 3645.0)" /><circle r="1" fill="url(#bumpR)" transform="matrix(5.74 -1.63 -0.05 8.60 1072.0 3640.6)" /><circle r="1" fill="url(#bumpR)" transform="matrix(5.74 -1.63 -0.07 8.40 1087.6 3636.1)" /><circle r="1" fill="url(#bumpR)" transform="matrix(5.74 -1.63 -0.09 8.21 1103.2 3631.7)" /><circle r="1" fill="url(#bumpR)" transform="matrix(5.74 -1.63 -0.11 8.01 1118.9 3627.3)" /><circle r="1" fill="url(#bumpR)" transform="matrix(5.74 -1.63 -0.13 7.82 1134.5 3622.9)" /><circle r="1" fill="url(#bumpR)" transform="matrix(5.74 -1.63 -0.15 7.62 1150.1 3618.5)" /><circle r="1" fill="url(#bumpR)" transform="matrix(5.72 -1.83 -0.01 8.99 1040.8 3674.4)" /><circle r="1" fill="url(#bumpR)" transform="matrix(5.72 -1.83 -0.03 8.80 1056.3 3669.4)" /><circle r="1" fill="url(#bumpR)" transform="matrix(5.72 -1.83 -0.05 8.60 1071.9 3664.5)" /><circle r="1" fill="url(#bumpR)" transform="matrix(5.72 -1.83 -0.07 8.40 1087.4 3659.5)" /><circle r="1" fill="url(#bumpR)" transform="matrix(5.72 -1.83 -0.09 8.21 1103.0 3654.5)" /><circle r="1" fill="url(#bumpR)" transform="matrix(5.72 -1.83 -0.11 8.01 1118.5 3649.6)" /><circle r="1" fill="url(#bumpR)" transform="matrix(5.72 -1.83 -0.13 7.82 1134.1 3644.6)" /><circle r="1" fill="url(#bumpR)" transform="matrix(5.72 -1.83 -0.15 7.62 1149.6 3639.6)" /><circle r="1" fill="url(#bumpR)" transform="matrix(5.70 -2.03 -0.01 8.99 1040.7 3699.4)" /><circle r="1" fill="url(#bumpR)" transform="matrix(5.70 -2.03 -0.03 8.80 1056.2 3693.9)" /><circle r="1" fill="url(#bumpR)" transform="matrix(5.70 -2.03 -0.05 8.60 1071.7 3688.4)" /><circle r="1" fill="url(#bumpR)" transform="matrix(5.70 -2.03 -0.07 8.40 1087.2 3682.8)" /><circle r="1" fill="url(#bumpR)" transform="matrix(5.70 -2.03 -0.09 8.21 1102.7 3677.3)" /><circle r="1" fill="url(#bumpR)" transform="matrix(5.70 -2.03 -0.11 8.01 1118.2 3671.8)" /><circle r="1" fill="url(#bumpR)" transform="matrix(5.70 -2.03 -0.13 7.82 1133.7 3666.3)" /><circle r="1" fill="url(#bumpR)" transform="matrix(5.70 -2.03 -0.15 7.62 1149.2 3660.8)" /><circle r="1" fill="url(#bumpR)" transform="matrix(5.68 -2.23 -0.01 8.99 1040.7 3724.3)" /><circle r="1" fill="url(#bumpR)" transform="matrix(5.68 -2.23 -0.03 8.80 1056.2 3718.3)" /><circle r="1" fill="url(#bumpR)" transform="matrix(5.68 -2.23 -0.05 8.60 1071.6 3712.2)" /><circle r="1" fill="url(#bumpR)" transform="matrix(5.68 -2.23 -0.07 8.40 1087.0 3706.2)" /><circle r="1" fill="url(#bumpR)" transform="matrix(5.68 -2.23 -0.09 8.21 1102.5 3700.1)" /><circle r="1" fill="url(#bumpR)" transform="matrix(5.68 -2.23 -0.11 8.01 1117.9 3694.1)" /><circle r="1" fill="url(#bumpR)" transform="matrix(5.68 -2.23 -0.13 7.82 1133.4 3688.0)" /><circle r="1" fill="url(#bumpR)" transform="matrix(5.68 -2.23 -0.15 7.62 1148.8 3682.0)" /><circle r="1" fill="url(#bumpR)" transform="matrix(5.66 -2.43 -0.01 8.99 1040.7 3749.3)" /><circle r="1" fill="url(#bumpR)" transform="matrix(5.66 -2.43 -0.03 8.80 1056.1 3742.7)" /><circle r="1" fill="url(#bumpR)" transform="matrix(5.66 -2.43 -0.05 8.60 1071.5 3736.1)" /><circle r="1" fill="url(#bumpR)" transform="matrix(5.66 -2.43 -0.07 8.40 1086.8 3729.5)" /><circle r="1" fill="url(#bumpR)" transform="matrix(5.66 -2.43 -0.09 8.21 1102.2 3722.9)" /><circle r="1" fill="url(#bumpR)" transform="matrix(5.66 -2.43 -0.11 8.01 1117.6 3716.3)" /><circle r="1" fill="url(#bumpR)" transform="matrix(5.66 -2.43 -0.13 7.82 1133.0 3709.7)" /><circle r="1" fill="url(#bumpR)" transform="matrix(5.66 -2.43 -0.15 7.62 1148.4 3703.1)" /><circle r="1" fill="url(#bumpR)" transform="matrix(5.64 -2.63 -0.01 8.99 1040.7 3774.3)" /><circle r="1" fill="url(#bumpR)" transform="matrix(5.64 -2.63 -0.03 8.80 1056.0 3767.2)" /><circle r="1" fill="url(#bumpR)" transform="matrix(5.64 -2.63 -0.05 8.60 1071.3 3760.0)" /><circle r="1" fill="url(#bumpR)" transform="matrix(5.64 -2.63 -0.07 8.40 1086.6 3752.9)" /><circle r="1" fill="url(#bumpR)" transform="matrix(5.64 -2.63 -0.09 8.21 1102.0 3745.7)" /><circle r="1" fill="url(#bumpR)" transform="matrix(5.64 -2.63 -0.11 8.01 1117.3 3738.6)" /><circle r="1" fill="url(#bumpR)" transform="matrix(5.64 -2.63 -0.13 7.82 1132.6 3731.5)" /><circle r="1" fill="url(#bumpR)" transform="matrix(5.64 -2.63 -0.15 7.62 1148.0 3724.3)" /><circle r="1" fill="url(#bumpR)" transform="matrix(5.62 -2.83 -0.01 8.99 1040.6 3799.3)" /><circle r="1" fill="url(#bumpR)" transform="matrix(5.62 -2.83 -0.03 8.80 1055.9 3791.6)" /><circle r="1" fill="url(#bumpR)" transform="matrix(5.62 -2.83 -0.05 8.60 1071.2 3783.9)" /><circle r="1" fill="url(#bumpR)" transform="matrix(5.62 -2.83 -0.07 8.40 1086.5 3776.2)" /><circle r="1" fill="url(#bumpR)" transform="matrix(5.62 -2.83 -0.09 8.21 1101.7 3768.5)" /><circle r="1" fill="url(#bumpR)" transform="matrix(5.62 -2.83 -0.11 8.01 1117.0 3760.9)" /><circle r="1" fill="url(#bumpR)" transform="matrix(5.62 -2.83 -0.13 7.82 1132.3 3753.2)" /><circle r="1" fill="url(#bumpR)" transform="matrix(5.62 -2.83 -0.15 7.62 1147.5 3745.5)" /><circle r="1" fill="url(#bumpR)" transform="matrix(5.60 -3.03 -0.01 8.99 1040.6 3824.3)" /><circle r="1" fill="url(#bumpR)" transform="matrix(5.60 -3.03 -0.03 8.80 1055.8 3816.0)" /><circle r="1" fill="url(#bumpR)" transform="matrix(5.60 -3.03 -0.05 8.60 1071.0 3807.8)" /><circle r="1" fill="url(#bumpR)" transform="matrix(5.60 -3.03 -0.07 8.40 1086.3 3799.6)" /><circle r="1" fill="url(#bumpR)" transform="matrix(5.60 -3.03 -0.09 8.21 1101.5 3791.3)" /><circle r="1" fill="url(#bumpR)" transform="matrix(5.60 -3.03 -0.11 8.01 1116.7 3783.1)" /><circle r="1" fill="url(#bumpR)" transform="matrix(5.60 -3.03 -0.13 7.82 1131.9 3774.9)" /><circle r="1" fill="url(#bumpR)" transform="matrix(5.60 -3.03 -0.15 7.62 1147.1 3766.7)" /><circle r="1" fill="url(#bump)" transform="matrix(7.48 0.92 -6.35 1.15 973.1 3544.4)" /><circle r="1" fill="url(#bump)" transform="matrix(7.48 0.92 -6.34 1.16 996.5 3547.3)" /><circle r="1" fill="url(#bump)" transform="matrix(7.48 0.93 -6.33 1.17 1019.9 3550.1)" /><circle r="1" fill="url(#bump)" transform="matrix(7.48 0.92 -6.33 1.18 1043.3 3553.0)" /><circle r="1" fill="url(#bump)" transform="matrix(7.48 0.93 -6.32 1.19 1066.7 3555.9)" /><circle r="1" fill="url(#bump)" transform="matrix(7.48 0.92 -6.32 1.20 1090.0 3558.8)" /><circle r="1" fill="url(#bump)" transform="matrix(7.48 0.92 -6.31 1.21 1113.4 3561.7)" /><circle r="1" fill="url(#bump)" transform="matrix(7.48 0.92 -6.30 1.22 1136.8 3564.6)" /><circle r="1" fill="url(#bump)" transform="matrix(7.49 0.93 -6.35 1.15 952.0 3548.2)" /><circle r="1" fill="url(#bump)" transform="matrix(7.49 0.93 -6.34 1.16 975.4 3551.1)" /><circle r="1" fill="url(#bump)" transform="matrix(7.49 0.93 -6.33 1.17 998.8 3554.1)" /><circle r="1" fill="url(#bump)" transform="matrix(7.49 0.93 -6.33 1.18 1022.2 3557.0)" /><circle r="1" fill="url(#bump)" transform="matrix(7.49 0.93 -6.32 1.19 1045.6 3559.9)" /><circle r="1" fill="url(#bump)" transform="matrix(7.49 0.93 -6.32 1.20 1069.0 3562.8)" /><circle r="1" fill="url(#bump)" transform="matrix(7.49 0.94 -6.31 1.21 1092.4 3565.7)" /><circle r="1" fill="url(#bump)" transform="matrix(7.49 0.94 -6.30 1.22 1115.8 3568.7)" /><circle r="1" fill="url(#bump)" transform="matrix(7.50 0.95 -6.35 1.15 930.8 3552.1)" /><circle r="1" fill="url(#bump)" transform="matrix(7.50 0.94 -6.34 1.16 954.2 3555.0)" /><circle r="1" fill="url(#bump)" transform="matrix(7.50 0.95 -6.33 1.17 977.7 3558.0)" /><circle r="1" fill="url(#bump)" transform="matrix(7.50 0.95 -6.33 1.18 1001.1 3560.9)" /><circle r="1" fill="url(#bump)" transform="matrix(7.50 0.94 -6.32 1.19 1024.5 3563.9)" /><circle r="1" fill="url(#bump)" transform="matrix(7.50 0.94 -6.32 1.20 1047.9 3566.8)" /><circle r="1" fill="url(#bump)" transform="matrix(7.50 0.94 -6.31 1.21 1071.4 3569.8)" /><circle r="1" fill="url(#bump)" transform="matrix(7.50 0.94 -6.30 1.22 1094.8 3572.7)" /><circle r="1" fill="url(#bump)" transform="matrix(7.50 0.96 -6.35 1.15 909.6 3555.9)" /><circle r="1" fill="url(#bump)" transform="matrix(7.50 0.96 -6.34 1.16 933.1 3558.9)" /><circle r="1" fill="url(#bump)" transform="matrix(7.50 0.96 -6.33 1.17 956.5 3561.9)" /><circle r="1" fill="url(#bump)" transform="matrix(7.50 0.96 -6.33 1.18 980.0 3564.9)" /><circle r="1" fill="url(#bump)" transform="matrix(7.50 0.95 -6.32 1.19 1003.4 3567.8)" /><circle r="1" fill="url(#bump)" transform="matrix(7.50 0.96 -6.32 1.20 1026.9 3570.8)" /><circle r="1" fill="url(#bump)" transform="matrix(7.50 0.96 -6.31 1.21 1050.3 3573.8)" /><circle r="1" fill="url(#bump)" transform="matrix(7.50 0.95 -6.30 1.22 1073.8 3576.8)" /><circle r="1" fill="url(#bump)" transform="matrix(7.51 0.96 -6.35 1.15 888.5 3559.8)" /><circle r="1" fill="url(#bump)" transform="matrix(7.51 0.96 -6.34 1.16 912.0 3562.8)" /><circle r="1" fill="url(#bump)" transform="matrix(7.51 0.96 -6.33 1.17 935.4 3565.8)" /><circle r="1" fill="url(#bump)" transform="matrix(7.51 0.96 -6.33 1.18 958.9 3568.8)" /><circle r="1" fill="url(#bump)" transform="matrix(7.51 0.96 -6.32 1.19 982.4 3571.8)" /><circle r="1" fill="url(#bump)" transform="matrix(7.51 0.96 -6.32 1.20 1005.8 3574.8)" /><circle r="1" fill="url(#bump)" transform="matrix(7.51 0.96 -6.31 1.21 1029.3 3577.9)" /><circle r="1" fill="url(#bump)" transform="matrix(7.51 0.96 -6.30 1.22 1052.8 3580.9)" /><circle r="1" fill="url(#bump)" transform="matrix(7.52 0.98 -6.35 1.15 867.3 3563.6)" /><circle r="1" fill="url(#bump)" transform="matrix(7.52 0.97 -6.34 1.16 890.8 3566.7)" /><circle r="1" fill="url(#bump)" transform="matrix(7.52 0.98 -6.33 1.17 914.3 3569.7)" /><circle r="1" fill="url(#bump)" transform="matrix(7.52 0.97 -6.33 1.18 937.8 3572.7)" /><circle r="1" fill="url(#bump)" transform="matrix(7.52 0.98 -6.32 1.19 961.3 3575.8)" /><circle r="1" fill="url(#bump)" transform="matrix(7.52 0.97 -6.32 1.20 984.8 3578.8)" /><circle r="1" fill="url(#bump)" transform="matrix(7.52 0.98 -6.31 1.21 1008.3 3581.9)" /><circle r="1" fill="url(#bump)" transform="matrix(7.52 0.97 -6.30 1.22 1031.8 3584.9)" /><circle r="1" fill="#3a3c3d" transform="matrix(6.57 0.90 0.19 7.01 845.2 3572.8)" /><circle r="1" fill="#3e4041" transform="matrix(4.40 -0.92 -0.14 6.69 1158.8 3572.4)" /><circle r="1" fill="#3a3c3d" transform="matrix(6.53 1.12 0.19 7.01 846.4 3613.3)" /><circle r="1" fill="#3e4041" transform="matrix(4.37 -1.20 -0.14 6.69 1158.0 3611.0)" /><circle r="1" fill="#3a3c3d" transform="matrix(6.49 1.34 0.19 7.01 847.5 3653.8)" /><circle r="1" fill="#3e4041" transform="matrix(4.35 -1.48 -0.14 6.69 1157.2 3649.7)" /><circle r="1" fill="#3a3c3d" transform="matrix(6.46 1.56 0.19 7.01 848.6 3694.3)" /><circle r="1" fill="#3e4041" transform="matrix(4.32 -1.76 -0.14 6.69 1156.3 3688.4)" /><circle r="1" fill="#3a3c3d" transform="matrix(6.42 1.77 0.19 7.01 849.7 3734.8)" /><circle r="1" fill="#3e4041" transform="matrix(4.29 -2.05 -0.14 6.69 1155.5 3727.0)" /><circle r="1" fill="#3a3c3d" transform="matrix(6.38 1.99 0.19 7.01 850.8 3775.3)" /><circle r="1" fill="#3e4041" transform="matrix(4.26 -2.33 -0.14 6.69 1154.7 3765.7)" /><circle r="1" fill="#232526" transform="matrix(5.46 1.74 0.13 4.82 851.0 3783.0)" /><circle r="1" fill="#2a2c2d" transform="matrix(3.65 -2.04 0.00 5.56 1033.0 3841.0)" /><circle r="1" fill="#232526" transform="matrix(5.46 1.74 0.12 4.91 873.8 3790.2)" /><circle r="1" fill="#2a2c2d" transform="matrix(3.64 -2.04 -0.01 5.44 1048.2 3832.5)" /><circle r="1" fill="#232526" transform="matrix(5.46 1.74 0.10 5.00 896.5 3797.5)" /><circle r="1" fill="#2a2c2d" transform="matrix(3.64 -2.04 -0.02 5.32 1063.4 3824.0)" /><circle r="1" fill="#232526" transform="matrix(5.46 1.74 0.08 5.09 919.2 3804.8)" /><circle r="1" fill="#2a2c2d" transform="matrix(3.64 -2.04 -0.04 5.20 1078.6 3815.5)" /><circle r="1" fill="#232526" transform="matrix(5.46 1.74 0.07 5.19 942.0 3812.0)" /><circle r="1" fill="#2a2c2d" transform="matrix(3.64 -2.04 -0.05 5.08 1093.8 3807.0)" /><circle r="1" fill="#232526" transform="matrix(5.46 1.74 0.05 5.28 964.8 3819.2)" /><circle r="1" fill="#2a2c2d" transform="matrix(3.64 -2.04 -0.06 4.96 1108.9 3798.5)" /><circle r="1" fill="#232526" transform="matrix(5.46 1.74 0.03 5.37 987.5 3826.5)" /><circle r="1" fill="#2a2c2d" transform="matrix(3.64 -2.04 -0.07 4.84 1124.1 3790.0)" /><circle r="1" fill="#232526" transform="matrix(5.46 1.74 0.02 5.46 1010.2 3833.8)" /><circle r="1" fill="#2a2c2d" transform="matrix(3.64 -2.04 -0.09 4.72 1139.3 3781.5)" /><circle r="1" fill="#232526" transform="matrix(5.46 1.74 0.00 5.56 1033.0 3841.0)" /><circle r="1" fill="#2a2c2d" transform="matrix(3.65 -2.04 -0.10 4.60 1154.5 3773.0)" /></g><polygon points="648.7,3634 700,3634 700,3605 754,3672 700,3739.4 700,3710 648.7,3710" fill="url(#barr)" stroke="none" stroke-width="0" /><polygon points="1250,3658.8 1303.8,3658.8 1303.8,3629.7 1357.5,3697 1303.8,3764 1303.8,3735 1250,3735" fill="url(#barr)" stroke="none" stroke-width="0" /><text x="569" y="3847" font-family='"Liberation Sans", Arial, Helvetica, sans-serif' font-size="51.8" font-weight="normal" fill="#1b80cc" text-anchor="start" >Dip coating</text><text x="1160" y="3851.5" font-family='"Liberation Sans", Arial, Helvetica, sans-serif' font-size="53" font-weight="normal" fill="#1b80cc" text-anchor="start" >Assembly</text><g id="ecube"><polygon points="1476,3803 1723.5,3843 1747,3786 1747,3794 1723.5,3853 1480,3818" fill="#d5a64a" stroke="none" stroke-width="0" /><polygon points="1474,3800 1723.5,3843 1747,3786 1740,3780 1480,3780" fill="#edc063" stroke="none" stroke-width="0" /><polygon points="1469,3574 1731.5,3587 1731.5,3837 1476,3803" fill="#131415" stroke="none" stroke-width="0" /><polygon points="1731.5,3587 1754.4,3550 1746.3,3789 1731.5,3837" fill="#1d1e1f" stroke="none" stroke-width="0" /><clipPath id="cef"><polygon points="1469.0,3574.0 1731.5,3587.0 1731.5,3837.0 1476.0,3803.0"/></clipPath><g clip-path="url(#cef)"><polygon points="1427.9,3573.5 1449.8,3574.6 1450.3,3590.5 1428.5,3589.3" fill="#2f3132" stroke="none" stroke-width="0" /><line x1="1427.9" y1="3574.5" x2="1449.8" y2="3575.6" stroke="#6d7173" stroke-width="1.6" /><circle cx="1439.1" cy="3581.9" r="3" fill="#1b1c1d"/><polygon points="1471.7,3575.7 1493.5,3576.8 1494,3592.9 1472.2,3591.7" fill="#2f3132" stroke="none" stroke-width="0" /><line x1="1471.7" y1="3576.7" x2="1493.5" y2="3577.8" stroke="#6d7173" stroke-width="1.6" /><circle cx="1482.8" cy="3584.3" r="3" fill="#1b1c1d"/><polygon points="1515.4,3577.8 1537.3,3578.9 1537.6,3595.4 1515.8,3594.1" fill="#2f3132" stroke="none" stroke-width="0" /><line x1="1515.4" y1="3578.8" x2="1537.3" y2="3579.9" stroke="#6d7173" stroke-width="1.6" /><circle cx="1526.5" cy="3586.6" r="3" fill="#1b1c1d"/><polygon points="1559.2,3580 1581,3581.1 1581.3,3597.8 1559.5,3596.6" fill="#2f3132" stroke="none" stroke-width="0" /><line x1="1559.2" y1="3581" x2="1581" y2="3582.1" stroke="#6d7173" stroke-width="1.6" /><circle cx="1570.2" cy="3588.9" r="3" fill="#1b1c1d"/><polygon points="1602.9,3582.2 1624.8,3583.3 1625,3600.2 1603.1,3599" fill="#2f3132" stroke="none" stroke-width="0" /><line x1="1602.9" y1="3583.2" x2="1624.8" y2="3584.3" stroke="#6d7173" stroke-width="1.6" /><circle cx="1613.9" cy="3591.2" r="3" fill="#1b1c1d"/><polygon points="1646.6,3584.4 1668.5,3585.5 1668.6,3602.7 1646.8,3601.4" fill="#2f3132" stroke="none" stroke-width="0" /><line x1="1646.6" y1="3585.4" x2="1668.5" y2="3586.5" stroke="#6d7173" stroke-width="1.6" /><circle cx="1657.6" cy="3593.5" r="3" fill="#1b1c1d"/><polygon points="1690.4,3586.6 1712.3,3587.7 1712.3,3605.1 1690.5,3603.9" fill="#2f3132" stroke="none" stroke-width="0" /><line x1="1690.4" y1="3587.6" x2="1712.3" y2="3588.7" stroke="#6d7173" stroke-width="1.6" /><circle cx="1701.3" cy="3595.8" r="3" fill="#1b1c1d"/><polygon points="1734.1,3588.8 1756,3589.9 1755.9,3607.5 1734.1,3606.3" fill="#2f3132" stroke="none" stroke-width="0" /><line x1="1734.1" y1="3589.8" x2="1756" y2="3590.9" stroke="#6d7173" stroke-width="1.6" /><circle cx="1745.0" cy="3598.1" r="3" fill="#1b1c1d"/><polygon points="1450.4,3593.5 1472.2,3594.8 1472.7,3610.8 1451,3609.4" fill="#2f3132" stroke="none" stroke-width="0" /><line x1="1450.4" y1="3594.5" x2="1472.2" y2="3595.8" stroke="#6d7173" stroke-width="1.6" /><circle cx="1461.6" cy="3602.1" r="3" fill="#1b1c1d"/><polygon points="1494.1,3596 1515.9,3597.2 1516.3,3613.5 1494.5,3612.2" fill="#2f3132" stroke="none" stroke-width="0" /><line x1="1494.1" y1="3597" x2="1515.9" y2="3598.2" stroke="#6d7173" stroke-width="1.6" /><circle cx="1505.2" cy="3604.7" r="3" fill="#1b1c1d"/><polygon points="1537.7,3598.5 1559.5,3599.7 1559.9,3616.3 1538.1,3614.9" fill="#2f3132" stroke="none" stroke-width="0" /><line x1="1537.7" y1="3599.5" x2="1559.5" y2="3600.7" stroke="#6d7173" stroke-width="1.6" /><circle cx="1548.8" cy="3607.3" r="3" fill="#1b1c1d"/><polygon points="1581.4,3601 1603.2,3602.2 1603.4,3619 1581.6,3617.6" fill="#2f3132" stroke="none" stroke-width="0" /><line x1="1581.4" y1="3602" x2="1603.2" y2="3603.2" stroke="#6d7173" stroke-width="1.6" /><circle cx="1592.4" cy="3609.9" r="3" fill="#1b1c1d"/><polygon points="1625,3603.4 1646.8,3604.7 1647,3621.7 1625.2,3620.3" fill="#2f3132" stroke="none" stroke-width="0" /><line x1="1625" y1="3604.4" x2="1646.8" y2="3605.7" stroke="#6d7173" stroke-width="1.6" /><circle cx="1636.0" cy="3612.5" r="3" fill="#1b1c1d"/><polygon points="1668.7,3605.9 1690.5,3607.2 1690.6,3624.4 1668.8,3623.1" fill="#2f3132" stroke="none" stroke-width="0" /><line x1="1668.7" y1="3606.9" x2="1690.5" y2="3608.2" stroke="#6d7173" stroke-width="1.6" /><circle cx="1679.6" cy="3615.2" r="3" fill="#1b1c1d"/><polygon points="1712.3,3608.4 1734.1,3609.6 1734.1,3627.2 1712.3,3625.8" fill="#2f3132" stroke="none" stroke-width="0" /><line x1="1712.3" y1="3609.4" x2="1734.1" y2="3610.6" stroke="#6d7173" stroke-width="1.6" /><circle cx="1723.2" cy="3617.8" r="3" fill="#1b1c1d"/><polygon points="1755.9,3610.9 1777.8,3612.1 1777.7,3629.9 1755.9,3628.5" fill="#2f3132" stroke="none" stroke-width="0" /><line x1="1755.9" y1="3611.9" x2="1777.8" y2="3613.1" stroke="#6d7173" stroke-width="1.6" /><circle cx="1766.8" cy="3620.4" r="3" fill="#1b1c1d"/><polygon points="1429.3,3611.1 1451.1,3612.5 1451.6,3628.4 1429.8,3626.9" fill="#2f3132" stroke="none" stroke-width="0" /><line x1="1429.3" y1="3612.1" x2="1451.1" y2="3613.5" stroke="#6d7173" stroke-width="1.6" /><circle cx="1440.4" cy="3619.7" r="3" fill="#1b1c1d"/><polygon points="1472.8,3613.9 1494.6,3615.2 1495,3631.4 1473.3,3629.9" fill="#2f3132" stroke="none" stroke-width="0" /><line x1="1472.8" y1="3614.9" x2="1494.6" y2="3616.2" stroke="#6d7173" stroke-width="1.6" /><circle cx="1483.9" cy="3622.6" r="3" fill="#1b1c1d"/><polygon points="1516.4,3616.6 1538.1,3618 1538.5,3634.4 1516.8,3632.9" fill="#2f3132" stroke="none" stroke-width="0" /><line x1="1516.4" y1="3617.6" x2="1538.1" y2="3619" stroke="#6d7173" stroke-width="1.6" /><circle cx="1527.5" cy="3625.5" r="3" fill="#1b1c1d"/><polygon points="1559.9,3619.4 1581.7,3620.8 1582,3637.5 1560.2,3635.9" fill="#2f3132" stroke="none" stroke-width="0" /><line x1="1559.9" y1="3620.4" x2="1581.7" y2="3621.8" stroke="#6d7173" stroke-width="1.6" /><circle cx="1571.0" cy="3628.4" r="3" fill="#1b1c1d"/><polygon points="1603.5,3622.2 1625.2,3623.6 1625.4,3640.5 1603.7,3639" fill="#2f3132" stroke="none" stroke-width="0" /><line x1="1603.5" y1="3623.2" x2="1625.2" y2="3624.6" stroke="#6d7173" stroke-width="1.6" /><circle cx="1614.5" cy="3631.3" r="3" fill="#1b1c1d"/><polygon points="1647,3625 1668.8,3626.3 1668.9,3643.5 1647.2,3642" fill="#2f3132" stroke="none" stroke-width="0" /><line x1="1647" y1="3626" x2="1668.8" y2="3627.3" stroke="#6d7173" stroke-width="1.6" /><circle cx="1658.0" cy="3634.2" r="3" fill="#1b1c1d"/><polygon points="1690.6,3627.7 1712.3,3629.1 1712.4,3646.5 1690.6,3645" fill="#2f3132" stroke="none" stroke-width="0" /><line x1="1690.6" y1="3628.7" x2="1712.3" y2="3630.1" stroke="#6d7173" stroke-width="1.6" /><circle cx="1701.5" cy="3637.1" r="3" fill="#1b1c1d"/><polygon points="1734.1,3630.5 1755.9,3631.9 1755.8,3649.5 1734.1,3648" fill="#2f3132" stroke="none" stroke-width="0" /><line x1="1734.1" y1="3631.5" x2="1755.9" y2="3632.9" stroke="#6d7173" stroke-width="1.6" /><circle cx="1745.0" cy="3640.0" r="3" fill="#1b1c1d"/><polygon points="1451.7,3631.4 1473.4,3633 1473.9,3649 1452.2,3647.4" fill="#2f3132" stroke="none" stroke-width="0" /><line x1="1451.7" y1="3632.4" x2="1473.4" y2="3634" stroke="#6d7173" stroke-width="1.6" /><circle cx="1462.8" cy="3640.2" r="3" fill="#1b1c1d"/><polygon points="1495.1,3634.5 1516.9,3636 1517.3,3652.3 1495.6,3650.7" fill="#2f3132" stroke="none" stroke-width="0" /><line x1="1495.1" y1="3635.5" x2="1516.9" y2="3637" stroke="#6d7173" stroke-width="1.6" /><circle cx="1506.2" cy="3643.4" r="3" fill="#1b1c1d"/><polygon points="1538.6,3637.6 1560.3,3639.1 1560.6,3655.6 1538.9,3654" fill="#2f3132" stroke="none" stroke-width="0" /><line x1="1538.6" y1="3638.6" x2="1560.3" y2="3640.1" stroke="#6d7173" stroke-width="1.6" /><circle cx="1549.6" cy="3646.6" r="3" fill="#1b1c1d"/><polygon points="1582,3640.6 1603.8,3642.2 1604,3658.9 1582.3,3657.3" fill="#2f3132" stroke="none" stroke-width="0" /><line x1="1582" y1="3641.6" x2="1603.8" y2="3643.2" stroke="#6d7173" stroke-width="1.6" /><circle cx="1593.0" cy="3649.7" r="3" fill="#1b1c1d"/><polygon points="1625.5,3643.7 1647.2,3645.2 1647.4,3662.2 1625.7,3660.6" fill="#2f3132" stroke="none" stroke-width="0" /><line x1="1625.5" y1="3644.7" x2="1647.2" y2="3646.2" stroke="#6d7173" stroke-width="1.6" /><circle cx="1636.4" cy="3652.9" r="3" fill="#1b1c1d"/><polygon points="1668.9,3646.8 1690.7,3648.3 1690.7,3665.6 1669,3663.9" fill="#2f3132" stroke="none" stroke-width="0" /><line x1="1668.9" y1="3647.8" x2="1690.7" y2="3649.3" stroke="#6d7173" stroke-width="1.6" /><circle cx="1679.8" cy="3656.1" r="3" fill="#1b1c1d"/><polygon points="1712.4,3649.8 1734.1,3651.4 1734.1,3668.9 1712.4,3667.2" fill="#2f3132" stroke="none" stroke-width="0" /><line x1="1712.4" y1="3650.8" x2="1734.1" y2="3652.4" stroke="#6d7173" stroke-width="1.6" /><circle cx="1723.3" cy="3659.3" r="3" fill="#1b1c1d"/><polygon points="1755.8,3652.9 1777.6,3654.4 1777.5,3672.2 1755.8,3670.5" fill="#2f3132" stroke="none" stroke-width="0" /><line x1="1755.8" y1="3653.9" x2="1777.6" y2="3655.4" stroke="#6d7173" stroke-width="1.6" /><circle cx="1766.7" cy="3662.5" r="3" fill="#1b1c1d"/><polygon points="1430.6,3648.7 1452.3,3650.4 1452.8,3666.3 1431.2,3664.5" fill="#2f3132" stroke="none" stroke-width="0" /><line x1="1430.6" y1="3649.7" x2="1452.3" y2="3651.4" stroke="#6d7173" stroke-width="1.6" /><circle cx="1441.7" cy="3657.5" r="3" fill="#1b1c1d"/><polygon points="1474,3652.1 1495.7,3653.7 1496.1,3669.9 1474.5,3668.1" fill="#2f3132" stroke="none" stroke-width="0" /><line x1="1474" y1="3653.1" x2="1495.7" y2="3654.7" stroke="#6d7173" stroke-width="1.6" /><circle cx="1485.1" cy="3661.0" r="3" fill="#1b1c1d"/><polygon points="1517.3,3655.4 1539,3657.1 1539.4,3673.5 1517.7,3671.7" fill="#2f3132" stroke="none" stroke-width="0" /><line x1="1517.3" y1="3656.4" x2="1539" y2="3658.1" stroke="#6d7173" stroke-width="1.6" /><circle cx="1528.4" cy="3664.4" r="3" fill="#1b1c1d"/><polygon points="1560.7,3658.8 1582.4,3660.5 1582.6,3677.1 1561,3675.3" fill="#2f3132" stroke="none" stroke-width="0" /><line x1="1560.7" y1="3659.8" x2="1582.4" y2="3661.5" stroke="#6d7173" stroke-width="1.6" /><circle cx="1571.7" cy="3667.9" r="3" fill="#1b1c1d"/><polygon points="1604,3662.1 1625.7,3663.8 1625.9,3680.7 1604.3,3678.9" fill="#2f3132" stroke="none" stroke-width="0" /><line x1="1604" y1="3663.1" x2="1625.7" y2="3664.8" stroke="#6d7173" stroke-width="1.6" /><circle cx="1615.0" cy="3671.4" r="3" fill="#1b1c1d"/><polygon points="1647.4,3665.5 1669.1,3667.2 1669.2,3684.3 1647.6,3682.5" fill="#2f3132" stroke="none" stroke-width="0" /><line x1="1647.4" y1="3666.5" x2="1669.1" y2="3668.2" stroke="#6d7173" stroke-width="1.6" /><circle cx="1658.3" cy="3674.9" r="3" fill="#1b1c1d"/><polygon points="1690.7,3668.8 1712.4,3670.5 1712.5,3687.9 1690.8,3686.1" fill="#2f3132" stroke="none" stroke-width="0" /><line x1="1690.7" y1="3669.8" x2="1712.4" y2="3671.5" stroke="#6d7173" stroke-width="1.6" /><circle cx="1701.6" cy="3678.3" r="3" fill="#1b1c1d"/><polygon points="1734.1,3672.2 1755.8,3673.9 1755.7,3691.5 1734.1,3689.7" fill="#2f3132" stroke="none" stroke-width="0" /><line x1="1734.1" y1="3673.2" x2="1755.8" y2="3674.9" stroke="#6d7173" stroke-width="1.6" /><circle cx="1744.9" cy="3681.8" r="3" fill="#1b1c1d"/><polygon points="1452.9,3669.3 1474.6,3671.2 1475,3687.2 1453.5,3685.3" fill="#2f3132" stroke="none" stroke-width="0" /><line x1="1452.9" y1="3670.3" x2="1474.6" y2="3672.2" stroke="#6d7173" stroke-width="1.6" /><circle cx="1464.0" cy="3678.2" r="3" fill="#1b1c1d"/><polygon points="1496.2,3673 1517.8,3674.8 1518.2,3691.1 1496.6,3689.2" fill="#2f3132" stroke="none" stroke-width="0" /><line x1="1496.2" y1="3674" x2="1517.8" y2="3675.8" stroke="#6d7173" stroke-width="1.6" /><circle cx="1507.2" cy="3682.0" r="3" fill="#1b1c1d"/><polygon points="1539.4,3676.6 1561.1,3678.5 1561.4,3695 1539.8,3693" fill="#2f3132" stroke="none" stroke-width="0" /><line x1="1539.4" y1="3677.6" x2="1561.1" y2="3679.5" stroke="#6d7173" stroke-width="1.6" /><circle cx="1550.4" cy="3685.8" r="3" fill="#1b1c1d"/><polygon points="1582.7,3680.3 1604.3,3682.1 1604.6,3698.9 1583,3696.9" fill="#2f3132" stroke="none" stroke-width="0" /><line x1="1582.7" y1="3681.3" x2="1604.3" y2="3683.1" stroke="#6d7173" stroke-width="1.6" /><circle cx="1593.6" cy="3689.6" r="3" fill="#1b1c1d"/><polygon points="1626,3683.9 1647.6,3685.8 1647.7,3702.8 1626.2,3700.8" fill="#2f3132" stroke="none" stroke-width="0" /><line x1="1626" y1="3684.9" x2="1647.6" y2="3686.8" stroke="#6d7173" stroke-width="1.6" /><circle cx="1636.9" cy="3693.3" r="3" fill="#1b1c1d"/><polygon points="1669.2,3687.6 1690.8,3689.4 1690.9,3706.7 1669.3,3704.7" fill="#2f3132" stroke="none" stroke-width="0" /><line x1="1669.2" y1="3688.6" x2="1690.8" y2="3690.4" stroke="#6d7173" stroke-width="1.6" /><circle cx="1680.1" cy="3697.1" r="3" fill="#1b1c1d"/><polygon points="1712.5,3691.2 1734.1,3693.1 1734.1,3710.6 1712.5,3708.6" fill="#2f3132" stroke="none" stroke-width="0" /><line x1="1712.5" y1="3692.2" x2="1734.1" y2="3694.1" stroke="#6d7173" stroke-width="1.6" /><circle cx="1723.3" cy="3700.9" r="3" fill="#1b1c1d"/><polygon points="1755.7,3694.9 1777.4,3696.7 1777.3,3714.5 1755.7,3712.5" fill="#2f3132" stroke="none" stroke-width="0" /><line x1="1755.7" y1="3695.9" x2="1777.4" y2="3697.7" stroke="#6d7173" stroke-width="1.6" /><circle cx="1766.5" cy="3704.6" r="3" fill="#1b1c1d"/><polygon points="1432,3686.3 1453.6,3688.3 1454.1,3704.2 1432.5,3702.1" fill="#2f3132" stroke="none" stroke-width="0" /><line x1="1432" y1="3687.3" x2="1453.6" y2="3689.3" stroke="#6d7173" stroke-width="1.6" /><circle cx="1443.0" cy="3695.2" r="3" fill="#1b1c1d"/><polygon points="1475.1,3690.3 1496.7,3692.2 1497.2,3708.4 1475.6,3706.3" fill="#2f3132" stroke="none" stroke-width="0" /><line x1="1475.1" y1="3691.3" x2="1496.7" y2="3693.2" stroke="#6d7173" stroke-width="1.6" /><circle cx="1486.2" cy="3699.3" r="3" fill="#1b1c1d"/><polygon points="1518.3,3694.2 1539.9,3696.2 1540.2,3712.6 1518.7,3710.5" fill="#2f3132" stroke="none" stroke-width="0" /><line x1="1518.3" y1="3695.2" x2="1539.9" y2="3697.2" stroke="#6d7173" stroke-width="1.6" /><circle cx="1529.3" cy="3703.4" r="3" fill="#1b1c1d"/><polygon points="1561.5,3698.1 1583,3700.1 1583.3,3716.8 1561.8,3714.7" fill="#2f3132" stroke="none" stroke-width="0" /><line x1="1561.5" y1="3699.1" x2="1583" y2="3701.1" stroke="#6d7173" stroke-width="1.6" /><circle cx="1572.4" cy="3707.4" r="3" fill="#1b1c1d"/><polygon points="1604.6,3702.1 1626.2,3704.1 1626.4,3721 1604.9,3718.9" fill="#2f3132" stroke="none" stroke-width="0" /><line x1="1604.6" y1="3703.1" x2="1626.2" y2="3705.1" stroke="#6d7173" stroke-width="1.6" /><circle cx="1615.5" cy="3711.5" r="3" fill="#1b1c1d"/><polygon points="1647.8,3706 1669.4,3708 1669.5,3725.1 1647.9,3723" fill="#2f3132" stroke="none" stroke-width="0" /><line x1="1647.8" y1="3707" x2="1669.4" y2="3709" stroke="#6d7173" stroke-width="1.6" /><circle cx="1658.6" cy="3715.6" r="3" fill="#1b1c1d"/><polygon points="1690.9,3710 1712.5,3711.9 1712.5,3729.3 1691,3727.2" fill="#2f3132" stroke="none" stroke-width="0" /><line x1="1690.9" y1="3711" x2="1712.5" y2="3712.9" stroke="#6d7173" stroke-width="1.6" /><circle cx="1701.7" cy="3719.6" r="3" fill="#1b1c1d"/><polygon points="1734.1,3713.9 1755.7,3715.9 1755.6,3733.5 1734.1,3731.4" fill="#2f3132" stroke="none" stroke-width="0" /><line x1="1734.1" y1="3714.9" x2="1755.7" y2="3716.9" stroke="#6d7173" stroke-width="1.6" /><circle cx="1744.9" cy="3723.7" r="3" fill="#1b1c1d"/><polygon points="1454.2,3707.2 1475.7,3709.4 1476.2,3725.4 1454.7,3723.2" fill="#2f3132" stroke="none" stroke-width="0" /><line x1="1454.2" y1="3708.2" x2="1475.7" y2="3710.4" stroke="#6d7173" stroke-width="1.6" /><circle cx="1465.2" cy="3716.3" r="3" fill="#1b1c1d"/><polygon points="1497.2,3711.5 1518.8,3713.6 1519.2,3729.9 1497.7,3727.6" fill="#2f3132" stroke="none" stroke-width="0" /><line x1="1497.2" y1="3712.5" x2="1518.8" y2="3714.6" stroke="#6d7173" stroke-width="1.6" /><circle cx="1508.2" cy="3720.7" r="3" fill="#1b1c1d"/><polygon points="1540.3,3715.7 1561.8,3717.8 1562.2,3734.4 1540.7,3732.1" fill="#2f3132" stroke="none" stroke-width="0" /><line x1="1540.3" y1="3716.7" x2="1561.8" y2="3718.8" stroke="#6d7173" stroke-width="1.6" /><circle cx="1551.2" cy="3725.0" r="3" fill="#1b1c1d"/><polygon points="1583.4,3719.9 1604.9,3722.1 1605.1,3738.8 1583.6,3736.6" fill="#2f3132" stroke="none" stroke-width="0" /><line x1="1583.4" y1="3720.9" x2="1604.9" y2="3723.1" stroke="#6d7173" stroke-width="1.6" /><circle cx="1594.3" cy="3729.4" r="3" fill="#1b1c1d"/><polygon points="1626.4,3724.2 1648,3726.3 1648.1,3743.3 1626.6,3741.1" fill="#2f3132" stroke="none" stroke-width="0" /><line x1="1626.4" y1="3725.2" x2="1648" y2="3727.3" stroke="#6d7173" stroke-width="1.6" /><circle cx="1637.3" cy="3733.7" r="3" fill="#1b1c1d"/><polygon points="1669.5,3728.4 1691,3730.5 1691.1,3747.8 1669.6,3745.6" fill="#2f3132" stroke="none" stroke-width="0" /><line x1="1669.5" y1="3729.4" x2="1691" y2="3731.5" stroke="#6d7173" stroke-width="1.6" /><circle cx="1680.3" cy="3738.1" r="3" fill="#1b1c1d"/><polygon points="1712.6,3732.6 1734.1,3734.8 1734.1,3752.3 1712.6,3750" fill="#2f3132" stroke="none" stroke-width="0" /><line x1="1712.6" y1="3733.6" x2="1734.1" y2="3735.8" stroke="#6d7173" stroke-width="1.6" /><circle cx="1723.3" cy="3742.4" r="3" fill="#1b1c1d"/><polygon points="1755.6,3736.9 1777.1,3739 1777.1,3756.7 1755.6,3754.5" fill="#2f3132" stroke="none" stroke-width="0" /><line x1="1755.6" y1="3737.9" x2="1777.1" y2="3740" stroke="#6d7173" stroke-width="1.6" /><circle cx="1766.3" cy="3746.8" r="3" fill="#1b1c1d"/><polygon points="1433.3,3723.9 1454.8,3726.2 1455.3,3742.1 1433.9,3739.7" fill="#2f3132" stroke="none" stroke-width="0" /><line x1="1433.3" y1="3724.9" x2="1454.8" y2="3727.2" stroke="#6d7173" stroke-width="1.6" /><circle cx="1444.3" cy="3733.0" r="3" fill="#1b1c1d"/><polygon points="1476.3,3728.5 1497.8,3730.7 1498.2,3746.9 1476.8,3744.5" fill="#2f3132" stroke="none" stroke-width="0" /><line x1="1476.3" y1="3729.5" x2="1497.8" y2="3731.7" stroke="#6d7173" stroke-width="1.6" /><circle cx="1487.3" cy="3737.6" r="3" fill="#1b1c1d"/><polygon points="1519.3,3733 1540.7,3735.2 1541.1,3751.7 1519.7,3749.3" fill="#2f3132" stroke="none" stroke-width="0" /><line x1="1519.3" y1="3734" x2="1540.7" y2="3736.2" stroke="#6d7173" stroke-width="1.6" /><circle cx="1530.2" cy="3742.3" r="3" fill="#1b1c1d"/><polygon points="1562.2,3737.5 1583.7,3739.8 1584,3756.4 1562.5,3754" fill="#2f3132" stroke="none" stroke-width="0" /><line x1="1562.2" y1="3738.5" x2="1583.7" y2="3740.8" stroke="#6d7173" stroke-width="1.6" /><circle cx="1573.1" cy="3746.9" r="3" fill="#1b1c1d"/><polygon points="1605.2,3742 1626.7,3744.3 1626.9,3761.2 1605.4,3758.8" fill="#2f3132" stroke="none" stroke-width="0" /><line x1="1605.2" y1="3743" x2="1626.7" y2="3745.3" stroke="#6d7173" stroke-width="1.6" /><circle cx="1616.0" cy="3751.6" r="3" fill="#1b1c1d"/><polygon points="1648.1,3746.6 1669.6,3748.8 1669.7,3766 1648.3,3763.6" fill="#2f3132" stroke="none" stroke-width="0" /><line x1="1648.1" y1="3747.6" x2="1669.6" y2="3749.8" stroke="#6d7173" stroke-width="1.6" /><circle cx="1659.0" cy="3756.2" r="3" fill="#1b1c1d"/><polygon points="1691.1,3751.1 1712.6,3753.3 1712.6,3770.7 1691.2,3768.4" fill="#2f3132" stroke="none" stroke-width="0" /><line x1="1691.1" y1="3752.1" x2="1712.6" y2="3754.3" stroke="#6d7173" stroke-width="1.6" /><circle cx="1701.9" cy="3760.9" r="3" fill="#1b1c1d"/><polygon points="1734.1,3755.6 1755.6,3757.9 1755.5,3775.5 1734.1,3773.1" fill="#2f3132" stroke="none" stroke-width="0" /><line x1="1734.1" y1="3756.6" x2="1755.6" y2="3758.9" stroke="#6d7173" stroke-width="1.6" /><circle cx="1744.8" cy="3765.5" r="3" fill="#1b1c1d"/><polygon points="1455.4,3745.2 1476.9,3747.6 1477.4,3763.6 1456,3761.1" fill="#2f3132" stroke="none" stroke-width="0" /><line x1="1455.4" y1="3746.2" x2="1476.9" y2="3748.6" stroke="#6d7173" stroke-width="1.6" /><circle cx="1466.4" cy="3754.4" r="3" fill="#1b1c1d"/><polygon points="1498.3,3750 1519.7,3752.4 1520.1,3768.7 1498.7,3766.1" fill="#2f3132" stroke="none" stroke-width="0" /><line x1="1498.3" y1="3751" x2="1519.7" y2="3753.4" stroke="#6d7173" stroke-width="1.6" /><circle cx="1509.2" cy="3759.3" r="3" fill="#1b1c1d"/><polygon points="1541.2,3754.8 1562.6,3757.2 1562.9,3773.7 1541.5,3771.2" fill="#2f3132" stroke="none" stroke-width="0" /><line x1="1541.2" y1="3755.8" x2="1562.6" y2="3758.2" stroke="#6d7173" stroke-width="1.6" /><circle cx="1552.1" cy="3764.2" r="3" fill="#1b1c1d"/><polygon points="1584,3759.6 1605.5,3762 1605.7,3778.8 1584.3,3776.3" fill="#2f3132" stroke="none" stroke-width="0" /><line x1="1584" y1="3760.6" x2="1605.5" y2="3763" stroke="#6d7173" stroke-width="1.6" /><circle cx="1594.9" cy="3769.2" r="3" fill="#1b1c1d"/><polygon points="1626.9,3764.4 1648.3,3766.8 1648.5,3783.9 1627.1,3781.3" fill="#2f3132" stroke="none" stroke-width="0" /><line x1="1626.9" y1="3765.4" x2="1648.3" y2="3767.8" stroke="#6d7173" stroke-width="1.6" /><circle cx="1637.7" cy="3774.1" r="3" fill="#1b1c1d"/><polygon points="1669.8,3769.2 1691.2,3771.6 1691.3,3788.9 1669.9,3786.4" fill="#2f3132" stroke="none" stroke-width="0" /><line x1="1669.8" y1="3770.2" x2="1691.2" y2="3772.6" stroke="#6d7173" stroke-width="1.6" /><circle cx="1680.5" cy="3779.0" r="3" fill="#1b1c1d"/><polygon points="1712.6,3774 1734.1,3776.5 1734.1,3794 1712.7,3791.4" fill="#2f3132" stroke="none" stroke-width="0" /><line x1="1712.6" y1="3775" x2="1734.1" y2="3777.5" stroke="#6d7173" stroke-width="1.6" /><circle cx="1723.4" cy="3784.0" r="3" fill="#1b1c1d"/><polygon points="1755.5,3778.9 1776.9,3781.3 1776.9,3799 1755.5,3796.5" fill="#2f3132" stroke="none" stroke-width="0" /><line x1="1755.5" y1="3779.9" x2="1776.9" y2="3782.3" stroke="#6d7173" stroke-width="1.6" /><circle cx="1766.2" cy="3788.9" r="3" fill="#1b1c1d"/><polygon points="1434.7,3761.6 1456.1,3764.1 1456.6,3780 1435.2,3777.4" fill="#2f3132" stroke="none" stroke-width="0" /><line x1="1434.7" y1="3762.6" x2="1456.1" y2="3765.1" stroke="#6d7173" stroke-width="1.6" /><circle cx="1445.6" cy="3770.8" r="3" fill="#1b1c1d"/><polygon points="1477.4,3766.7 1498.8,3769.2 1499.3,3785.4 1477.9,3782.7" fill="#2f3132" stroke="none" stroke-width="0" /><line x1="1477.4" y1="3767.7" x2="1498.8" y2="3770.2" stroke="#6d7173" stroke-width="1.6" /><circle cx="1488.4" cy="3776.0" r="3" fill="#1b1c1d"/><polygon points="1520.2,3771.8 1541.6,3774.3 1542,3790.7 1520.6,3788.1" fill="#2f3132" stroke="none" stroke-width="0" /><line x1="1520.2" y1="3772.8" x2="1541.6" y2="3775.3" stroke="#6d7173" stroke-width="1.6" /><circle cx="1531.1" cy="3781.2" r="3" fill="#1b1c1d"/><polygon points="1563,3776.9 1584.4,3779.4 1584.7,3796.1 1563.3,3793.4" fill="#2f3132" stroke="none" stroke-width="0" /><line x1="1563" y1="3777.9" x2="1584.4" y2="3780.4" stroke="#6d7173" stroke-width="1.6" /><circle cx="1573.8" cy="3786.5" r="3" fill="#1b1c1d"/><polygon points="1605.8,3782 1627.1,3784.5 1627.3,3801.4 1606,3798.8" fill="#2f3132" stroke="none" stroke-width="0" /><line x1="1605.8" y1="3783" x2="1627.1" y2="3785.5" stroke="#6d7173" stroke-width="1.6" /><circle cx="1616.6" cy="3791.7" r="3" fill="#1b1c1d"/><polygon points="1648.5,3787.1 1669.9,3789.6 1670,3806.8 1648.7,3804.1" fill="#2f3132" stroke="none" stroke-width="0" /><line x1="1648.5" y1="3788.1" x2="1669.9" y2="3790.6" stroke="#6d7173" stroke-width="1.6" /><circle cx="1659.3" cy="3796.9" r="3" fill="#1b1c1d"/><polygon points="1691.3,3792.2 1712.7,3794.8 1712.7,3812.1 1691.4,3809.5" fill="#2f3132" stroke="none" stroke-width="0" /><line x1="1691.3" y1="3793.2" x2="1712.7" y2="3795.8" stroke="#6d7173" stroke-width="1.6" /><circle cx="1702.0" cy="3802.1" r="3" fill="#1b1c1d"/><polygon points="1734.1,3797.3 1755.5,3799.9 1755.4,3817.5 1734.1,3814.8" fill="#2f3132" stroke="none" stroke-width="0" /><line x1="1734.1" y1="3798.3" x2="1755.5" y2="3800.9" stroke="#6d7173" stroke-width="1.6" /><circle cx="1744.7" cy="3807.4" r="3" fill="#1b1c1d"/><polygon points="1456.7,3783.1 1478,3785.8 1478.5,3801.8 1457.2,3799" fill="#2f3132" stroke="none" stroke-width="0" /><line x1="1456.7" y1="3784.1" x2="1478" y2="3786.8" stroke="#6d7173" stroke-width="1.6" /><circle cx="1467.6" cy="3792.4" r="3" fill="#1b1c1d"/><polygon points="1499.4,3788.5 1520.7,3791.2 1521.1,3807.5 1499.8,3804.6" fill="#2f3132" stroke="none" stroke-width="0" /><line x1="1499.4" y1="3789.5" x2="1520.7" y2="3792.2" stroke="#6d7173" stroke-width="1.6" /><circle cx="1510.2" cy="3797.9" r="3" fill="#1b1c1d"/><polygon points="1542,3793.9 1563.4,3796.6 1563.7,3813.1 1542.4,3810.3" fill="#2f3132" stroke="none" stroke-width="0" /><line x1="1542" y1="3794.9" x2="1563.4" y2="3797.6" stroke="#6d7173" stroke-width="1.6" /><circle cx="1552.9" cy="3803.5" r="3" fill="#1b1c1d"/><polygon points="1584.7,3799.3 1606,3802 1606.3,3818.7 1585,3815.9" fill="#2f3132" stroke="none" stroke-width="0" /><line x1="1584.7" y1="3800.3" x2="1606" y2="3803" stroke="#6d7173" stroke-width="1.6" /><circle cx="1595.5" cy="3809.0" r="3" fill="#1b1c1d"/><polygon points="1627.4,3804.7 1648.7,3807.4 1648.9,3824.4 1627.6,3821.6" fill="#2f3132" stroke="none" stroke-width="0" /><line x1="1627.4" y1="3805.7" x2="1648.7" y2="3808.4" stroke="#6d7173" stroke-width="1.6" /><circle cx="1638.1" cy="3814.5" r="3" fill="#1b1c1d"/><polygon points="1670.1,3810.1 1691.4,3812.8 1691.5,3830 1670.2,3827.2" fill="#2f3132" stroke="none" stroke-width="0" /><line x1="1670.1" y1="3811.1" x2="1691.4" y2="3813.8" stroke="#6d7173" stroke-width="1.6" /><circle cx="1680.8" cy="3820.0" r="3" fill="#1b1c1d"/><polygon points="1712.7,3815.5 1734.1,3818.2 1734.1,3835.7 1712.8,3832.9" fill="#2f3132" stroke="none" stroke-width="0" /><line x1="1712.7" y1="3816.5" x2="1734.1" y2="3819.2" stroke="#6d7173" stroke-width="1.6" /><circle cx="1723.4" cy="3825.5" r="3" fill="#1b1c1d"/><polygon points="1755.4,3820.9 1776.7,3823.6 1776.6,3841.3 1755.4,3838.5" fill="#2f3132" stroke="none" stroke-width="0" /><line x1="1755.4" y1="3821.9" x2="1776.7" y2="3824.6" stroke="#6d7173" stroke-width="1.6" /><circle cx="1766.0" cy="3831.1" r="3" fill="#1b1c1d"/></g><line x1="1733.8" y1="3593.7" x2="1752.9" y2="3561.8" stroke="#3c3f40" stroke-width="6" /><line x1="1733.8" y1="3590.7" x2="1752.9" y2="3558.8" stroke="#64686a" stroke-width="1.2" /><line x1="1733.7" y1="3614.4" x2="1752.3" y2="3581.8" stroke="#3c3f40" stroke-width="6" /><line x1="1733.7" y1="3611.4" x2="1752.3" y2="3578.8" stroke="#64686a" stroke-width="1.2" /><line x1="1733.6" y1="3635.2" x2="1751.7" y2="3601.8" stroke="#3c3f40" stroke-width="6" /><line x1="1733.6" y1="3632.2" x2="1751.7" y2="3598.8" stroke="#64686a" stroke-width="1.2" /><line x1="1733.6" y1="3655.9" x2="1751" y2="3621.7" stroke="#3c3f40" stroke-width="6" /><line x1="1733.6" y1="3652.9" x2="1751" y2="3618.7" stroke="#64686a" stroke-width="1.2" /><line x1="1733.5" y1="3676.6" x2="1750.4" y2="3641.7" stroke="#3c3f40" stroke-width="6" /><line x1="1733.5" y1="3673.6" x2="1750.4" y2="3638.7" stroke="#64686a" stroke-width="1.2" /><line x1="1733.4" y1="3697.4" x2="1749.7" y2="3661.6" stroke="#3c3f40" stroke-width="6" /><line x1="1733.4" y1="3694.4" x2="1749.7" y2="3658.6" stroke="#64686a" stroke-width="1.2" /><line x1="1733.4" y1="3718.1" x2="1749.1" y2="3681.6" stroke="#3c3f40" stroke-width="6" /><line x1="1733.4" y1="3715.1" x2="1749.1" y2="3678.6" stroke="#64686a" stroke-width="1.2" /><line x1="1733.3" y1="3738.9" x2="1748.4" y2="3701.6" stroke="#3c3f40" stroke-width="6" /><line x1="1733.3" y1="3735.9" x2="1748.4" y2="3698.6" stroke="#64686a" stroke-width="1.2" /><line x1="1733.2" y1="3759.6" x2="1747.8" y2="3721.5" stroke="#3c3f40" stroke-width="6" /><line x1="1733.2" y1="3756.6" x2="1747.8" y2="3718.5" stroke="#64686a" stroke-width="1.2" /><line x1="1733.1" y1="3780.3" x2="1747.2" y2="3741.5" stroke="#3c3f40" stroke-width="6" /><line x1="1733.1" y1="3777.3" x2="1747.2" y2="3738.5" stroke="#64686a" stroke-width="1.2" /><line x1="1733.1" y1="3801.1" x2="1746.5" y2="3761.5" stroke="#3c3f40" stroke-width="6" /><line x1="1733.1" y1="3798.1" x2="1746.5" y2="3758.5" stroke="#64686a" stroke-width="1.2" /><line x1="1733" y1="3821.8" x2="1745.9" y2="3781.4" stroke="#3c3f40" stroke-width="6" /><line x1="1733" y1="3818.8" x2="1745.9" y2="3778.4" stroke="#64686a" stroke-width="1.2" /><rect x="1465" y="3584" width="10" height="14" fill="#55595b" stroke="#a9adb0" stroke-width="2" rx="3"/><rect x="1465" y="3624.5" width="10" height="14" fill="#55595b" stroke="#a9adb0" stroke-width="2" rx="3"/><rect x="1465" y="3669" width="10" height="14" fill="#55595b" stroke="#a9adb0" stroke-width="2" rx="3"/><rect x="1465" y="3706.5" width="10" height="14" fill="#55595b" stroke="#a9adb0" stroke-width="2" rx="3"/><rect x="1465" y="3744" width="10" height="14" fill="#55595b" stroke="#a9adb0" stroke-width="2" rx="3"/><rect x="1465" y="3785.7" width="10" height="14" fill="#55595b" stroke="#a9adb0" stroke-width="2" rx="3"/><polygon points="1462.8,3569.7 1550,3541.5 1755.7,3545.5 1731.5,3584" fill="#edc063" stroke="none" stroke-width="0" /><polygon points="1462.8,3569.7 1731.5,3584 1755.7,3545.5 1756,3550 1731.5,3590 1463,3575" fill="#d5a64a" stroke="none" stroke-width="0" /><text x="1637.5" y="3571" font-family='"Liberation Sans", Arial, Helvetica, sans-serif' font-size="35" font-weight="normal" fill="#111" text-anchor="middle" >Electrode</text></g><g id="loading"><text x="1834.5" y="3634.6" font-family='"Liberation Sans", Arial, Helvetica, sans-serif' font-size="30.5" font-weight="normal" fill="#6e6e6e" text-anchor="middle" >Unloading</text><text x="1827" y="3818" font-family='"Liberation Sans", Arial, Helvetica, sans-serif' font-size="30.5" font-weight="normal" fill="#6e6e6e" text-anchor="middle" >Loading</text><path d="M1873 3703 A50 52 0 0 0 1776 3682" fill="none" stroke="#5b5653" stroke-width="9.5"/><polygon points="1762,3700 1767,3668 1797,3691" fill="#5b5653" stroke="none" stroke-width="0" /><path d="M1770 3718 A50 52 0 0 0 1867 3739" fill="none" stroke="#5b5653" stroke-width="9.5"/><polygon points="1881,3721 1876,3753 1846,3730" fill="#5b5653" stroke="none" stroke-width="0" /></g><g id="pressed"><polygon points="1887,3797 2175,3825 2201,3782 2201,3788 2175,3832 1887,3804" fill="#d7a94e" stroke="none" stroke-width="0" /><polygon points="1888,3752 2177,3772 2177,3827 1890,3800" fill="#141516" stroke="none" stroke-width="0" /><polygon points="2177,3772 2201,3724 2200,3786 2177,3827" fill="#202223" stroke="none" stroke-width="0" /><polyline points="1894.1,3760.4 2177,3781.2 2200.8,3734.3" fill="none" stroke="#54585a" stroke-width="1.8" stroke-linejoin="round" stroke-linecap="round" stroke-dasharray="18 8"/><polyline points="1894.4,3768.4 2177,3790.3 2200.7,3744.7" fill="none" stroke="#54585a" stroke-width="1.8" stroke-linejoin="round" stroke-linecap="round" stroke-dasharray="18 8"/><polyline points="1894.8,3776.5 2177,3799.5 2200.5,3755" fill="none" stroke="#54585a" stroke-width="1.8" stroke-linejoin="round" stroke-linecap="round" stroke-dasharray="18 8"/><polyline points="1895.1,3784.5 2177,3808.7 2200.3,3765.3" fill="none" stroke="#54585a" stroke-width="1.8" stroke-linejoin="round" stroke-linecap="round" stroke-dasharray="18 8"/><polyline points="1895.4,3792.5 2177,3817.8 2200.2,3775.7" fill="none" stroke="#54585a" stroke-width="1.8" stroke-linejoin="round" stroke-linecap="round" stroke-dasharray="18 8"/><polygon points="1885,3747.4 1994,3710 2201.4,3719 2177,3768" fill="#efc467" stroke="none" stroke-width="0" /><polygon points="1885,3747.4 2177,3768 2201.4,3719 2202,3725 2177,3775 1885,3754" fill="#d7a94e" stroke="none" stroke-width="0" /><polygon points="2001,3640 2121,3640 2121,3672 2179,3672 2060.4,3726 1941.5,3672 2001,3672" fill="url(#parr)" stroke="none" stroke-width="0" /><text x="2065.5" y="3658" font-family='"Liberation Sans", Arial, Helvetica, sans-serif' font-size="43.5" font-weight="bold" fill="#17306e" text-anchor="middle" >Pressure</text></g></g>
<g id="pi"><rect x="269" y="3909" width="559" height="464" fill="none" stroke="#3a3a3a" stroke-width="1.6" /><rect x="325" y="3924" width="160" height="449" fill="#4d5151" stroke="none" stroke-width="0" /><rect x="613" y="4248" width="161" height="125" fill="#0563b5" stroke="none" stroke-width="0" /><line x1="269" y1="4373" x2="828" y2="4373" stroke="#3a3a3a" stroke-width="2" /><line x1="262" y1="3909" x2="269" y2="3909" stroke="#222" stroke-width="1.6" /><text x="257" y="3918" font-family='"Liberation Sans", Arial, Helvetica, sans-serif' font-size="25" font-weight="normal" fill="#111" text-anchor="end" >100</text><line x1="262" y1="4024.5" x2="269" y2="4024.5" stroke="#222" stroke-width="1.6" /><text x="257" y="4033.5" font-family='"Liberation Sans", Arial, Helvetica, sans-serif' font-size="25" font-weight="normal" fill="#111" text-anchor="end" >10</text><line x1="262" y1="4140.6" x2="269" y2="4140.6" stroke="#222" stroke-width="1.6" /><text x="257" y="4149.6" font-family='"Liberation Sans", Arial, Helvetica, sans-serif' font-size="25" font-weight="normal" fill="#111" text-anchor="end" >1</text><line x1="262" y1="4257" x2="269" y2="4257" stroke="#222" stroke-width="1.6" /><text x="257" y="4266" font-family='"Liberation Sans", Arial, Helvetica, sans-serif' font-size="25" font-weight="normal" fill="#111" text-anchor="end" >0.1</text><line x1="262" y1="4373" x2="269" y2="4373" stroke="#222" stroke-width="1.6" /><text x="257" y="4382" font-family='"Liberation Sans", Arial, Helvetica, sans-serif' font-size="25" font-weight="normal" fill="#111" text-anchor="end" >0.01</text><line x1="265" y1="3989.7" x2="269" y2="3989.7" stroke="#222" stroke-width="1.2" /><line x1="265" y1="3969.4" x2="269" y2="3969.4" stroke="#222" stroke-width="1.2" /><line x1="265" y1="3955" x2="269" y2="3955" stroke="#222" stroke-width="1.2" /><line x1="265" y1="3943.8" x2="269" y2="3943.8" stroke="#222" stroke-width="1.2" /><line x1="265" y1="3934.6" x2="269" y2="3934.6" stroke="#222" stroke-width="1.2" /><line x1="265" y1="3926.9" x2="269" y2="3926.9" stroke="#222" stroke-width="1.2" /><line x1="265" y1="3920.2" x2="269" y2="3920.2" stroke="#222" stroke-width="1.2" /><line x1="265" y1="3914.3" x2="269" y2="3914.3" stroke="#222" stroke-width="1.2" /><line x1="265" y1="4105.7" x2="269" y2="4105.7" stroke="#222" stroke-width="1.2" /><line x1="265" y1="4085.2" x2="269" y2="4085.2" stroke="#222" stroke-width="1.2" /><line x1="265" y1="4070.7" x2="269" y2="4070.7" stroke="#222" stroke-width="1.2" /><line x1="265" y1="4059.4" x2="269" y2="4059.4" stroke="#222" stroke-width="1.2" /><line x1="265" y1="4050.3" x2="269" y2="4050.3" stroke="#222" stroke-width="1.2" /><line x1="265" y1="4042.5" x2="269" y2="4042.5" stroke="#222" stroke-width="1.2" /><line x1="265" y1="4035.8" x2="269" y2="4035.8" stroke="#222" stroke-width="1.2" /><line x1="265" y1="4029.8" x2="269" y2="4029.8" stroke="#222" stroke-width="1.2" /><line x1="265" y1="4222" x2="269" y2="4222" stroke="#222" stroke-width="1.2" /><line x1="265" y1="4201.5" x2="269" y2="4201.5" stroke="#222" stroke-width="1.2" /><line x1="265" y1="4186.9" x2="269" y2="4186.9" stroke="#222" stroke-width="1.2" /><line x1="265" y1="4175.6" x2="269" y2="4175.6" stroke="#222" stroke-width="1.2" /><line x1="265" y1="4166.4" x2="269" y2="4166.4" stroke="#222" stroke-width="1.2" /><line x1="265" y1="4158.6" x2="269" y2="4158.6" stroke="#222" stroke-width="1.2" /><line x1="265" y1="4151.9" x2="269" y2="4151.9" stroke="#222" stroke-width="1.2" /><line x1="265" y1="4145.9" x2="269" y2="4145.9" stroke="#222" stroke-width="1.2" /><line x1="265" y1="4338.1" x2="269" y2="4338.1" stroke="#222" stroke-width="1.2" /><line x1="265" y1="4317.7" x2="269" y2="4317.7" stroke="#222" stroke-width="1.2" /><line x1="265" y1="4303.2" x2="269" y2="4303.2" stroke="#222" stroke-width="1.2" /><line x1="265" y1="4291.9" x2="269" y2="4291.9" stroke="#222" stroke-width="1.2" /><line x1="265" y1="4282.7" x2="269" y2="4282.7" stroke="#222" stroke-width="1.2" /><line x1="265" y1="4275" x2="269" y2="4275" stroke="#222" stroke-width="1.2" /><line x1="265" y1="4268.2" x2="269" y2="4268.2" stroke="#222" stroke-width="1.2" /><line x1="265" y1="4262.3" x2="269" y2="4262.3" stroke="#222" stroke-width="1.2" /><text x="401" y="4436" font-family='"Liberation Sans", Arial, Helvetica, sans-serif' font-size="41" font-weight="normal" fill="#111" text-anchor="middle" >Ethanol</text><text x="692.5" y="4435" font-family='"Liberation Sans", Arial, Helvetica, sans-serif' font-size="42" font-weight="normal" fill="#111" text-anchor="middle" >Toluene</text><text x="188" y="4138" font-family='"Liberation Sans", Arial, Helvetica, sans-serif' font-size="30.8" font-weight="normal" fill="#111" text-anchor="middle" transform="rotate(-90 188 4138)" >Resistance (kΩ)</text></g><g id="pk"><polyline points="1006.1,4271.5 1010.1,4243.7 1016,4199 1022.7,4158.7 1031.6,4118.4 1042.8,4082.5 1054,4062.4 1067.5,4044.5 1080.9,4032.4 1094.3,4023.4 1116.7,4013.1 1139.1,4005.1 1170.4,3997.5 1201.8,3992.1 1251,3986.3 1295.8,3983.1 1363,3980 1430.1,3978.2 1492.8,3977.8 1492.9,3977.8 1408,3982 1318,3990 1260,3997 1218.2,4002.4 1188.4,4011.3 1158.5,4026.3 1128.7,4047.2 1098.8,4074 1074.9,4106.9 1057,4142.7 1042.1,4193.4 1033.1,4235.2 1027.2,4265 1022,4271 1006,4273" fill="none" stroke="#161616" stroke-width="2.4" stroke-linejoin="round" stroke-linecap="round" /><polyline points="1006.1,4270.6 1009.3,4243.7 1013.7,4207.9 1019.6,4172.1 1027.2,4134 1037,4098.2 1048.7,4068.2 1062.1,4046.7 1078.7,4028.8 1098.8,4014.5 1121.2,4002.8 1148.1,3993 1183.9,3983.1 1228.7,3975.1 1273.4,3969.7 1318.2,3965.2 1407.8,3959.4 1501.8,3957.2 1501.8,3957.2 1407.8,3960.7 1318.2,3967 1264.5,3973.3 1228.7,3978.7 1201.8,3981.8 1183.9,3986.3 1161.5,3990.7 1139.1,4000.1 1116.7,4014 1096.6,4032.4 1078.7,4054.8 1063.9,4081.6 1051.8,4111.6 1041.9,4140.7 1032.5,4176.6 1023.6,4219.1 1014.6,4260.7 1007,4272.8" fill="none" stroke="#ef2b2d" stroke-width="2.4" stroke-linejoin="round" stroke-linecap="round" /><polyline points="1006.1,4271.5 1011.5,4261.6 1016,4237 1021.8,4203.4 1027.2,4169.9 1031.6,4147.5 1035.2,4135.4 1040.6,4135.4 1045.1,4122.8 1049.6,4100.4 1053.1,4087.9 1060.7,4085.2 1066.6,4069.1 1074.2,4051.2 1085.4,4028.8 1098.8,4008.7 1114.5,3995.2 1123.4,3986.3 1134.6,3978.7 1143.6,3976.9 1154.8,3970.6 1166,3966.1 1179.4,3965.2 1192.8,3960.7 1210.7,3958.1 1228.7,3954.9 1273.4,3950.4 1318.2,3948.2 1363,3946.4 1430.1,3945.1 1497.3,3943.7 1497.3,3944.6 1407.8,3946.4 1340.6,3948.7 1273.4,3952.7 1237.6,3956.3 1210.7,3959.9 1197.3,3963.9 1183.9,3968.8 1170.4,3973.3 1157,3980.4 1145.8,3986.3 1136.9,3993.9 1129.3,4004.2 1121.2,4011.8 1114.5,4024.3 1105.5,4035.5 1098.8,4047.6 1092.1,4066.9 1085.4,4080.3 1080,4093.7 1074.2,4104.9 1069.7,4118.4 1063.9,4126.4 1059.4,4145.2 1054.9,4163.1 1051.8,4178.8 1047.3,4183.3 1045.1,4212.4 1041.5,4232.5 1037,4248.2 1032.5,4258.1 1026.3,4264.3 1016,4268.4 1006.1,4272.8" fill="none" stroke="#0d5fc0" stroke-width="2.4" stroke-linejoin="round" stroke-linecap="round" /><polyline points="1006.1,4328.8 1007.5,4306.4 1008.8,4284 1010.6,4313.1 1012.8,4293 1014.6,4315.4 1016.9,4295.2 1019.1,4326.6 1021.3,4306.4 1023.1,4322.1 1025.4,4295.2 1027.6,4279.6 1029.9,4304.2 1031.6,4317.6 1033.9,4293 1036.1,4279.6 1038.4,4308.7 1040.6,4288.5 1043.3,4270.6 1045.5,4284 1047.8,4263.9 1050,4304.2 1052.2,4284 1054.5,4257.2 1056.7,4234.8 1060.3,4226.7 1063.9,4222.2 1067.5,4203.4 1070.6,4185.5 1074.2,4181.9 1077.3,4183.3 1080.9,4169.9 1084.5,4157.8 1087.2,4167.6 1089.9,4177.5 1093.4,4169.9 1097.9,4164 1102.4,4160.9 1106,4145.2 1109.6,4127.3 1113.1,4108.5 1116.7,4100.4 1120.3,4082.5 1123,4060.1 1125.7,4040 1129.3,4024.3 1132.8,4015.4 1137.3,4005.5 1142.7,3995.2 1148.1,3986.7 1153.4,3984.9 1157.9,3983.1 1162.4,3975.1 1166.9,3969.7 1172.7,3965.2 1181.6,3961.6 1190.6,3957.2 1201.8,3953.6 1215.2,3951.3 1233.1,3949.1 1273.4,3946 1318.2,3943.3 1407.8,3941.9 1499.6,3941.5 1499.6,3941.9 1407.8,3942.8 1318.2,3944.2 1273.4,3947.3 1251,3950 1237.6,3953.6 1226.4,3957.2 1215.2,3960.7 1204,3965.2 1192.8,3970.6 1184.8,3975.1 1180.3,3986.3 1176.7,3993.9 1169.6,3992.1 1163.7,3996.6 1157.9,4001.9 1151.6,4007.3 1145.8,4015.4 1140,4027.9 1136.4,4046.7 1132.8,4065.5 1128.4,4064.6 1124.8,4068.2 1122.1,4082.5 1119.4,4104.9 1116.7,4127.3 1113.1,4140.7 1109.6,4151.9 1106,4166.7 1101.5,4181 1096.1,4195.4 1090.7,4205.7 1086.3,4216 1081.8,4228.1 1077.3,4243.7 1072.8,4257.2 1069.7,4265.2 1067.5,4248.2 1064.8,4243.7 1062.1,4254.9 1058.5,4268.4 1055.8,4279.6 1053.1,4293 1050.9,4305.5 1048.7,4288.5 1046.4,4276 1044.2,4280.4 1041.9,4284 1039.7,4301.9 1037,4310.9 1034.8,4290.7 1032.5,4299.7 1029.9,4319.9 1027.2,4310.9 1024.5,4301.9 1022.2,4322.1 1019.6,4331 1017.3,4310.9 1014.6,4301.9 1012.4,4319.9 1009.7,4310.9 1007.9,4322.1 1006.1,4329.7" fill="none" stroke="#0a9b55" stroke-width="2.4" stroke-linejoin="round" stroke-linecap="round" /><polyline points="1006.1,4273.3 1018.2,4269.7 1027.2,4265.2 1033.9,4262.5 1038.4,4260.7" fill="none" stroke="#0a9b55" stroke-width="2.4" stroke-linejoin="round" stroke-linecap="round" /><rect x="979" y="3908" width="563.5" height="465.5" fill="none" stroke="#3a3a3a" stroke-width="1.6" /><line x1="972" y1="3940.6" x2="979" y2="3940.6" stroke="#222" stroke-width="1.6" /><text x="966" y="3948.6" font-family='"Liberation Sans", Arial, Helvetica, sans-serif' font-size="22.5" font-weight="normal" fill="#111" text-anchor="end" >1.0</text><line x1="972" y1="4007.3" x2="979" y2="4007.3" stroke="#222" stroke-width="1.6" /><text x="966" y="4015.3" font-family='"Liberation Sans", Arial, Helvetica, sans-serif' font-size="22.5" font-weight="normal" fill="#111" text-anchor="end" >0.8</text><line x1="972" y1="4074" x2="979" y2="4074" stroke="#222" stroke-width="1.6" /><text x="966" y="4082" font-family='"Liberation Sans", Arial, Helvetica, sans-serif' font-size="22.5" font-weight="normal" fill="#111" text-anchor="end" >0.6</text><line x1="972" y1="4140.6" x2="979" y2="4140.6" stroke="#222" stroke-width="1.6" /><text x="966" y="4148.6" font-family='"Liberation Sans", Arial, Helvetica, sans-serif' font-size="22.5" font-weight="normal" fill="#111" text-anchor="end" >0.4</text><line x1="972" y1="4207.3" x2="979" y2="4207.3" stroke="#222" stroke-width="1.6" /><text x="966" y="4215.3" font-family='"Liberation Sans", Arial, Helvetica, sans-serif' font-size="22.5" font-weight="normal" fill="#111" text-anchor="end" >0.2</text><line x1="972" y1="4274" x2="979" y2="4274" stroke="#222" stroke-width="1.6" /><text x="966" y="4282" font-family='"Liberation Sans", Arial, Helvetica, sans-serif' font-size="22.5" font-weight="normal" fill="#111" text-anchor="end" >0.0</text><line x1="972" y1="4340.6" x2="979" y2="4340.6" stroke="#222" stroke-width="1.6" /><text x="966" y="4348.6" font-family='"Liberation Sans", Arial, Helvetica, sans-serif' font-size="22.5" font-weight="normal" fill="#111" text-anchor="end" >-0.2</text><line x1="975" y1="3973.9" x2="979" y2="3973.9" stroke="#222" stroke-width="1.4" /><line x1="975" y1="4040.7" x2="979" y2="4040.7" stroke="#222" stroke-width="1.4" /><line x1="975" y1="4107.3" x2="979" y2="4107.3" stroke="#222" stroke-width="1.4" /><line x1="975" y1="4174" x2="979" y2="4174" stroke="#222" stroke-width="1.4" /><line x1="975" y1="4240.6" x2="979" y2="4240.6" stroke="#222" stroke-width="1.4" /><line x1="975" y1="4307.3" x2="979" y2="4307.3" stroke="#222" stroke-width="1.4" /><line x1="975" y1="4373.5" x2="979" y2="4373.5" stroke="#222" stroke-width="1.4" /><line x1="1006" y1="4373.5" x2="1006" y2="4380.5" stroke="#222" stroke-width="1.6" /><text x="1006" y="4408" font-family='"Liberation Sans", Arial, Helvetica, sans-serif' font-size="22.5" font-weight="normal" fill="#111" text-anchor="middle" >0</text><line x1="1103.6" y1="4373.5" x2="1103.6" y2="4380.5" stroke="#222" stroke-width="1.6" /><text x="1103.6" y="4408" font-family='"Liberation Sans", Arial, Helvetica, sans-serif' font-size="22.5" font-weight="normal" fill="#111" text-anchor="middle" >20</text><line x1="1201.2" y1="4373.5" x2="1201.2" y2="4380.5" stroke="#222" stroke-width="1.6" /><text x="1201.2" y="4408" font-family='"Liberation Sans", Arial, Helvetica, sans-serif' font-size="22.5" font-weight="normal" fill="#111" text-anchor="middle" >40</text><line x1="1298.8" y1="4373.5" x2="1298.8" y2="4380.5" stroke="#222" stroke-width="1.6" /><text x="1298.8" y="4408" font-family='"Liberation Sans", Arial, Helvetica, sans-serif' font-size="22.5" font-weight="normal" fill="#111" text-anchor="middle" >60</text><line x1="1396.4" y1="4373.5" x2="1396.4" y2="4380.5" stroke="#222" stroke-width="1.6" /><text x="1396.4" y="4408" font-family='"Liberation Sans", Arial, Helvetica, sans-serif' font-size="22.5" font-weight="normal" fill="#111" text-anchor="middle" >80</text><line x1="1494" y1="4373.5" x2="1494" y2="4380.5" stroke="#222" stroke-width="1.6" /><text x="1494" y="4408" font-family='"Liberation Sans", Arial, Helvetica, sans-serif' font-size="22.5" font-weight="normal" fill="#111" text-anchor="middle" >100</text><line x1="1054.8" y1="4373.5" x2="1054.8" y2="4377.5" stroke="#222" stroke-width="1.4" /><line x1="1152.4" y1="4373.5" x2="1152.4" y2="4377.5" stroke="#222" stroke-width="1.4" /><line x1="1250" y1="4373.5" x2="1250" y2="4377.5" stroke="#222" stroke-width="1.4" /><line x1="1347.6" y1="4373.5" x2="1347.6" y2="4377.5" stroke="#222" stroke-width="1.4" /><line x1="1445.2" y1="4373.5" x2="1445.2" y2="4377.5" stroke="#222" stroke-width="1.4" /><text x="1246.6" y="4439" font-family='"Liberation Sans", Arial, Helvetica, sans-serif' font-size="23.5" font-weight="normal" fill="#111" text-anchor="middle" >Pressure (kPa)</text><text x="913" y="4139" font-family='"Liberation Sans", Arial, Helvetica, sans-serif' font-size="31" font-weight="normal" fill="#111" text-anchor="middle" transform="rotate(-90 913 4139)" >(R<tspan font-size="20" dy="6">0</tspan><tspan dy="-6">-R)/R</tspan><tspan font-size="20" dy="6">0</tspan></text><line x1="1293" y1="4224" x2="1346" y2="4224" stroke="#161616" stroke-width="2.6" /><text x="1354" y="4232.5" font-family='"Liberation Sans", Arial, Helvetica, sans-serif' font-size="24" font-weight="normal" fill="#111" text-anchor="start" >Toluene 1st</text><line x1="1293" y1="4255" x2="1346" y2="4255" stroke="#ef2b2d" stroke-width="2.6" /><text x="1354" y="4263.5" font-family='"Liberation Sans", Arial, Helvetica, sans-serif' font-size="24" font-weight="normal" fill="#111" text-anchor="start" >Toluene 1000th</text><line x1="1293" y1="4285.5" x2="1346" y2="4285.5" stroke="#0d5fc0" stroke-width="2.6" /><text x="1354" y="4294" font-family='"Liberation Sans", Arial, Helvetica, sans-serif' font-size="24" font-weight="normal" fill="#111" text-anchor="start" >Ethanol 1st</text><line x1="1293" y1="4316" x2="1346" y2="4316" stroke="#0a9b55" stroke-width="2.6" /><text x="1354" y="4324.5" font-family='"Liberation Sans", Arial, Helvetica, sans-serif' font-size="24" font-weight="normal" fill="#111" text-anchor="start" >Ethanol 1000th</text></g><g id="pj"><polygon points="1678.5,3939.5 1678.5,3939.4 1681,3939.9 1683.4,3940.4 1685.9,3941 1688.3,3941.5 1690.8,3942 1693.3,3942.5 1695.7,3943.1 1698.2,3943.6 1700.8,3944.4 1703.3,3945.3 1705.9,3946.1 1708.4,3947 1711,3947.8 1713.5,3948.7 1716.1,3949.6 1718.6,3950.8 1721.1,3952.1 1723.6,3953.3 1726.1,3954.5 1728.5,3955.9 1731,3956.8 1733.5,3958.4 1736,3959.3 1738.5,3960.5 1741,3961.7 1743.5,3963 1746,3964.6 1748.4,3965.6 1750.9,3967.4 1753.4,3969 1755.9,3970.2 1758.4,3971.9 1760.9,3972.9 1763.4,3974.3 1765.9,3975.9 1768.3,3978 1770.8,3979.2 1773.3,3980.5 1775.8,3982.3 1778.4,3984.1 1780.9,3985.8 1783.5,3988.5 1786,3990.4 1788.6,3991.6 1791.2,3994.1 1793.7,3995.9 1796.1,3998.6 1798.5,4000.4 1800.9,4001.6 1803.3,4004.9 1805.7,4005.2 1808,4007.9 1810.4,4010.6 1812.8,4011.3 1815.2,4014.1 1817.6,4015.1 1820.2,4019.3 1822.7,4022.4 1825.3,4024.7 1827.8,4028.3 1830.4,4029.7 1832.9,4033.5 1835.5,4036 1838.1,4038.6 1840.6,4040.8 1843.2,4044.4 1845.7,4047.3 1848.3,4048.5 1850.9,4051.6 1853.4,4052.3 1856,4058.1 1858.5,4061.8 1861.1,4066.8 1863.7,4070 1866.2,4072.1 1868.8,4076.2 1871.3,4081.1 1873.9,4081.7 1876.4,4086.3 1879,4088.1 1881.6,4090.9 1884.1,4093.6 1886.7,4099.4 1889.2,4099.8 1891.8,4104.1 1894.4,4108.5 1896.9,4114.3 1899.5,4114.9 1902,4120.2 1904.6,4124.5 1907.1,4129.8 1909.7,4132.9 1912.3,4136.6 1914.8,4137.3 1917.4,4141.3 1919.9,4144.5 1922.5,4150.3 1925.1,4154.1 1927.6,4153.2 1930.2,4156.3 1932.7,4159.5 1935.3,4162.5 1937.9,4166.8 1940.4,4170.3 1943,4171.6 1945.5,4174 1948.1,4180 1950.6,4183.6 1953.2,4188.5 1955.8,4194.4 1958.3,4196.8 1960.9,4199.7 1963.4,4202 1966,4204 1968.6,4202.1 1971.1,4208.7 1973.7,4209.7 1976.2,4212 1978.8,4213.3 1981.3,4213.4 1983.9,4216 1986.5,4216.7 1989,4222.5 1991.6,4221.5 1994.1,4224 1996.7,4227.5 1999.3,4229.3 2001.8,4232.6 2004.4,4232.8 2006.9,4234.5 2009.5,4237.6 2012.1,4239.4 2014.6,4243.3 2017.2,4243.2 2019.7,4251 2022.3,4251.4 2024.8,4250.4 2027.4,4253.2 2030,4256 2032.5,4258.3 2035.1,4258.8 2037.6,4265.8 2040.2,4268.9 2042.8,4267.5 2045.3,4269.7 2047.9,4269.2 2050.4,4271.4 2052.8,4273.9 2055.2,4274.3 2057.6,4279 2060,4275.4 2062.4,4275.4 2064.8,4282.5 2067.1,4280.5 2069.5,4278.9 2071.9,4282.4 2074.3,4279.9 2076.8,4284 2079.3,4287.7 2081.8,4287.7 2084.3,4287.3 2086.8,4285.2 2089.2,4286.6 2091.7,4286 2094.2,4290.8 2096.7,4290 2099.2,4292.4 2101.7,4290.1 2104.2,4290.1 2106.7,4294.8 2109.1,4296.7 2111.6,4296.6 2114.1,4297 2116.6,4297.9 2119.1,4298.1 2121.6,4295.4 2124.1,4298.1 2126.6,4297.8 2129,4296.3 2131.5,4297.1 2134,4299.5 2136.5,4299.9 2139,4303.4 2141.5,4305.8 2144,4303 2146.5,4306.9 2148.9,4307.8 2151.4,4308.2 2153.9,4304.8 2156.4,4304.5 2158.9,4305.1 2161.4,4305.5 2163.9,4306.1 2166.4,4309.6 2168.8,4312.1 2171.3,4312.3 2173.8,4310.6 2176.3,4312.4 2178.8,4314 2181.3,4309.9 2183.8,4314.4 2186.3,4316.7 2188.7,4316.5 2191.2,4316.9 2193.7,4315.7 2196.3,4314.7 2198.8,4319.7 2201.4,4317.6 2204,4321.6 2206.5,4323.7 2209.1,4320.8 2211.6,4321.8 2214.2,4324.1 2216.7,4321.2 2219.3,4316.1 2221.9,4314.5 2224.4,4313.3 2227,4317 2229.5,4314.9 2231.9,4311 2234.3,4316 2236.7,4317.5 2239.1,4315.9 2241.5,4314.3 2243.9,4316.1 2246.3,4313.8 2248.6,4313.5 2251,4320.3 2253.4,4318.5 2253.4,3939.5" fill="#4d5151" stroke="none" stroke-width="0" /><line x1="1678.5" y1="3939.5" x2="2253.4" y2="3939.5" stroke="#0563b5" stroke-width="6" /><rect x="1678.5" y="3894.6" width="574.9" height="475.4" fill="none" stroke="#2a2a2a" stroke-width="2" /><line x1="1671.5" y1="3894.6" x2="1678.5" y2="3894.6" stroke="#222" stroke-width="1.6" /><text x="1665.5" y="3903.1" font-family='"Liberation Sans", Arial, Helvetica, sans-serif' font-size="24" font-weight="normal" fill="#111" text-anchor="end" >20</text><line x1="1674.5" y1="3917.3" x2="1678.5" y2="3917.3" stroke="#222" stroke-width="1.4" /><line x1="1671.5" y1="3940" x2="1678.5" y2="3940" stroke="#222" stroke-width="1.6" /><text x="1665.5" y="3948.5" font-family='"Liberation Sans", Arial, Helvetica, sans-serif' font-size="24" font-weight="normal" fill="#111" text-anchor="end" >0</text><line x1="1674.5" y1="3962.7" x2="1678.5" y2="3962.7" stroke="#222" stroke-width="1.4" /><line x1="1671.5" y1="3985.3" x2="1678.5" y2="3985.3" stroke="#222" stroke-width="1.6" /><text x="1665.5" y="3993.8" font-family='"Liberation Sans", Arial, Helvetica, sans-serif' font-size="24" font-weight="normal" fill="#111" text-anchor="end" >-20</text><line x1="1674.5" y1="4008" x2="1678.5" y2="4008" stroke="#222" stroke-width="1.4" /><line x1="1671.5" y1="4030.7" x2="1678.5" y2="4030.7" stroke="#222" stroke-width="1.6" /><text x="1665.5" y="4039.2" font-family='"Liberation Sans", Arial, Helvetica, sans-serif' font-size="24" font-weight="normal" fill="#111" text-anchor="end" >-40</text><line x1="1674.5" y1="4053.4" x2="1678.5" y2="4053.4" stroke="#222" stroke-width="1.4" /><line x1="1671.5" y1="4076.1" x2="1678.5" y2="4076.1" stroke="#222" stroke-width="1.6" /><text x="1665.5" y="4084.6" font-family='"Liberation Sans", Arial, Helvetica, sans-serif' font-size="24" font-weight="normal" fill="#111" text-anchor="end" >-60</text><line x1="1674.5" y1="4098.8" x2="1678.5" y2="4098.8" stroke="#222" stroke-width="1.4" /><line x1="1671.5" y1="4121.4" x2="1678.5" y2="4121.4" stroke="#222" stroke-width="1.6" /><text x="1665.5" y="4129.9" font-family='"Liberation Sans", Arial, Helvetica, sans-serif' font-size="24" font-weight="normal" fill="#111" text-anchor="end" >-80</text><line x1="1674.5" y1="4144.1" x2="1678.5" y2="4144.1" stroke="#222" stroke-width="1.4" /><line x1="1671.5" y1="4166.8" x2="1678.5" y2="4166.8" stroke="#222" stroke-width="1.6" /><text x="1665.5" y="4175.3" font-family='"Liberation Sans", Arial, Helvetica, sans-serif' font-size="24" font-weight="normal" fill="#111" text-anchor="end" >-100</text><line x1="1674.5" y1="4189.5" x2="1678.5" y2="4189.5" stroke="#222" stroke-width="1.4" /><line x1="1671.5" y1="4212.2" x2="1678.5" y2="4212.2" stroke="#222" stroke-width="1.6" /><text x="1665.5" y="4220.7" font-family='"Liberation Sans", Arial, Helvetica, sans-serif' font-size="24" font-weight="normal" fill="#111" text-anchor="end" >-120</text><line x1="1674.5" y1="4234.9" x2="1678.5" y2="4234.9" stroke="#222" stroke-width="1.4" /><line x1="1671.5" y1="4257.6" x2="1678.5" y2="4257.6" stroke="#222" stroke-width="1.6" /><text x="1665.5" y="4266.1" font-family='"Liberation Sans", Arial, Helvetica, sans-serif' font-size="24" font-weight="normal" fill="#111" text-anchor="end" >-140</text><line x1="1674.5" y1="4280.3" x2="1678.5" y2="4280.3" stroke="#222" stroke-width="1.4" /><line x1="1671.5" y1="4302.9" x2="1678.5" y2="4302.9" stroke="#222" stroke-width="1.6" /><text x="1665.5" y="4311.4" font-family='"Liberation Sans", Arial, Helvetica, sans-serif' font-size="24" font-weight="normal" fill="#111" text-anchor="end" >-160</text><line x1="1674.5" y1="4325.6" x2="1678.5" y2="4325.6" stroke="#222" stroke-width="1.4" /><line x1="1671.5" y1="4348.3" x2="1678.5" y2="4348.3" stroke="#222" stroke-width="1.6" /><text x="1665.5" y="4356.8" font-family='"Liberation Sans", Arial, Helvetica, sans-serif' font-size="24" font-weight="normal" fill="#111" text-anchor="end" >-180</text><line x1="1678.5" y1="4370" x2="1678.5" y2="4377" stroke="#222" stroke-width="1.6" /><text x="1678.5" y="4406" font-family='"Liberation Sans", Arial, Helvetica, sans-serif' font-size="23" font-weight="normal" fill="#111" text-anchor="middle" >0</text><line x1="1793.5" y1="4370" x2="1793.5" y2="4377" stroke="#222" stroke-width="1.6" /><text x="1793.5" y="4406" font-family='"Liberation Sans", Arial, Helvetica, sans-serif' font-size="23" font-weight="normal" fill="#111" text-anchor="middle" >200</text><line x1="1908.5" y1="4370" x2="1908.5" y2="4377" stroke="#222" stroke-width="1.6" /><text x="1908.5" y="4406" font-family='"Liberation Sans", Arial, Helvetica, sans-serif' font-size="23" font-weight="normal" fill="#111" text-anchor="middle" >400</text><line x1="2023.4" y1="4370" x2="2023.4" y2="4377" stroke="#222" stroke-width="1.6" /><text x="2023.4" y="4406" font-family='"Liberation Sans", Arial, Helvetica, sans-serif' font-size="23" font-weight="normal" fill="#111" text-anchor="middle" >600</text><line x1="2138.4" y1="4370" x2="2138.4" y2="4377" stroke="#222" stroke-width="1.6" /><text x="2138.4" y="4406" font-family='"Liberation Sans", Arial, Helvetica, sans-serif' font-size="23" font-weight="normal" fill="#111" text-anchor="middle" >800</text><line x1="2253.4" y1="4370" x2="2253.4" y2="4377" stroke="#222" stroke-width="1.6" /><text x="2253.4" y="4406" font-family='"Liberation Sans", Arial, Helvetica, sans-serif' font-size="23" font-weight="normal" fill="#111" text-anchor="middle" >1,000</text><line x1="1736" y1="4370" x2="1736" y2="4374" stroke="#222" stroke-width="1.4" /><line x1="1851" y1="4370" x2="1851" y2="4374" stroke="#222" stroke-width="1.4" /><line x1="1966" y1="4370" x2="1966" y2="4374" stroke="#222" stroke-width="1.4" /><line x1="2080.9" y1="4370" x2="2080.9" y2="4374" stroke="#222" stroke-width="1.4" /><line x1="2195.9" y1="4370" x2="2195.9" y2="4374" stroke="#222" stroke-width="1.4" /><text x="1970" y="4444" font-family='"Liberation Sans", Arial, Helvetica, sans-serif' font-size="31" font-weight="normal" fill="#111" text-anchor="middle" >Cycles</text><text x="1590" y="4119" font-family='"Liberation Sans", Arial, Helvetica, sans-serif' font-size="31" font-weight="normal" fill="#111" text-anchor="middle" transform="rotate(-90 1590 4119)" >(R<tspan font-size="20" dy="6">0</tspan><tspan dy="-6">-R)/R</tspan><tspan font-size="20" dy="6">0</tspan></text><text x="2077" y="4091" font-family='"Liberation Sans", Arial, Helvetica, sans-serif' font-size="40.3" font-weight="normal" fill="#f4f4f4" text-anchor="middle" >Hysteresis</text><text x="2077" y="4141" font-family='"Liberation Sans", Arial, Helvetica, sans-serif' font-size="40.3" font-weight="normal" fill="#f4f4f4" text-anchor="middle" >(base shift)</text><line x1="2207" y1="3965" x2="2207" y2="4290" stroke="#fff" stroke-width="3" /><polygon points="2207,3949 2196,3973 2218,3973" fill="#fff" stroke="none" stroke-width="0" /><polygon points="2207,4303 2196,4279 2218,4279" fill="#fff" stroke="none" stroke-width="0" /><line x1="1706" y1="4272" x2="1761" y2="4272" stroke="#333" stroke-width="1.6" /><text x="1767" y="4280.5" font-family='"Liberation Sans", Arial, Helvetica, sans-serif' font-size="24.5" font-weight="normal" fill="#111" text-anchor="start" >Ethanol</text><line x1="1706" y1="4303" x2="1761" y2="4303" stroke="#0563b5" stroke-width="3.2" /><text x="1767" y="4311.5" font-family='"Liberation Sans", Arial, Helvetica, sans-serif' font-size="24.5" font-weight="normal" fill="#111" text-anchor="start" >Toluene</text></g>
<g id="labels"><text x="24" y="81" font-family='"Noto Sans CJK SC", "Noto Sans CJK JP", "Liberation Sans", sans-serif' font-size="110" font-weight="300" fill="#231815">a</text><text x="26" y="923" font-family='"Noto Sans CJK SC", "Noto Sans CJK JP", "Liberation Sans", sans-serif' font-size="105" font-weight="100" fill="#231815">b</text><text x="1179" y="925" font-family='"Noto Sans CJK SC", "Noto Sans CJK JP", "Liberation Sans", sans-serif' font-size="108" font-weight="200" fill="#231815">c</text><text x="29" y="1736" font-family='"Noto Sans CJK SC", "Noto Sans CJK JP", "Liberation Sans", sans-serif' font-size="105" font-weight="100" fill="#231815">d</text><text x="1184" y="1740" font-family='"Noto Sans CJK SC", "Noto Sans CJK JP", "Liberation Sans", sans-serif' font-size="110" font-weight="200" fill="#231815">e</text><text x="45" y="2536" font-family='"Noto Sans CJK SC", "Noto Sans CJK JP", "Liberation Sans", sans-serif' font-size="105" font-weight="200" fill="#231815">f</text><text x="1181" y="2541" font-family='"DejaVu Sans", "Liberation Sans", sans-serif' font-size="113" font-weight="200" fill="#231815">g</text><text x="72" y="3328" font-family='"Noto Sans CJK SC", "Noto Sans CJK JP", "Liberation Sans", sans-serif' font-size="105" font-weight="200" fill="#231815">h</text><text x="88" y="3943.5" font-family='"Noto Sans CJK SC", "Noto Sans CJK JP", "Liberation Sans", sans-serif' font-size="110" font-weight="300" fill="#231815">i</text><text x="871" y="3936" font-family='"Noto Sans CJK SC", "Noto Sans CJK JP", "Liberation Sans", sans-serif' font-size="102" font-weight="100" fill="#231815">k</text><text x="1566" y="3936" font-family='"Noto Sans CJK SC", "Noto Sans CJK JP", "Liberation Sans", sans-serif' font-size="114" font-weight="200" fill="#231815">j</text></g>
</svg></body></html>
